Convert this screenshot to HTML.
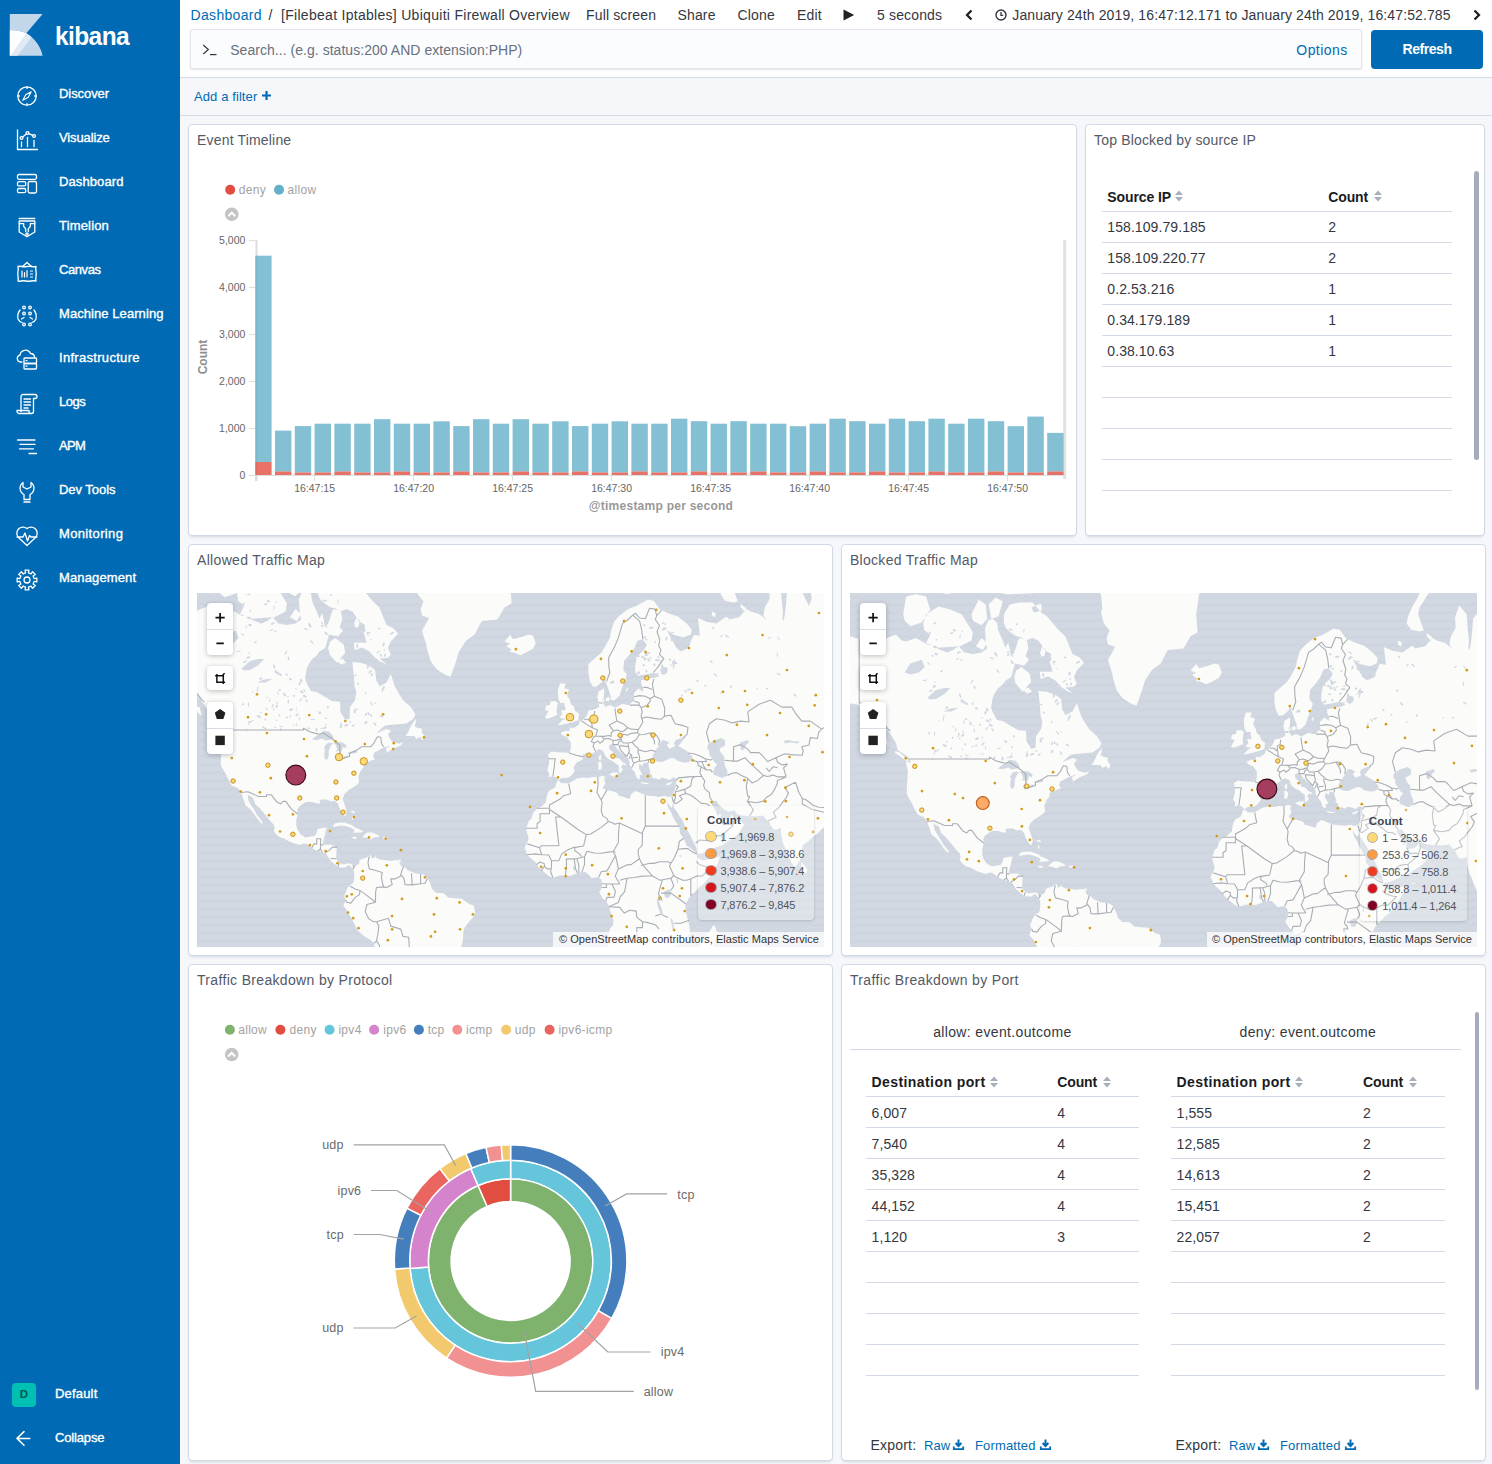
<!DOCTYPE html><html><head><meta charset="utf-8"><title>Kibana Dashboard</title><style>
*{margin:0;padding:0;box-sizing:border-box}
html,body{width:1492px;height:1464px;overflow:hidden;background:#f5f7fa;font-family:"Liberation Sans",Arial,sans-serif;font-variant-ligatures:none}
.t{position:absolute;white-space:nowrap}
.ic{position:absolute;overflow:visible}
svg text{font-family:"Liberation Sans",Arial,sans-serif}
#side{position:absolute;left:0;top:0;width:180px;height:1464px;background:#006bb4}
.panel{position:absolute;background:#fff;border:1px solid #d3dae6;border-radius:4px;box-shadow:0 1px 2px -1px rgba(152,162,179,0.3),0 3px 3px -2px rgba(152,162,179,0.3)}
.zc{position:absolute;width:26px;background:#fff;border-radius:4px;box-shadow:0 1px 5px rgba(0,0,0,0.25)}
.zs{position:absolute;left:0;width:26px;height:1px;background:#d8dde6}
</style></head><body><svg width="0" height="0" style="position:absolute"><defs><pattern id="waves" width="8" height="8" patternUnits="userSpaceOnUse"><path d="M0 5 Q2 2.5 4 5 T8 5" fill="none" stroke="#c9d0da" stroke-width="1.3" stroke-opacity="0.6"/></pattern></defs></svg>
<div id="side"></div>
<svg class="ic" style="left:9px;top:13px" width="35" height="44" viewBox="9 13 35 44">
<path d="M9.8 13.9 H42.6 L26.3 33.3 C21 30.8 15 30 9.8 30.2 Z" fill="#c3d7eb"/>
<path d="M9.8 30.2 C15 30 21 30.8 26.3 33.3 C34 37.5 40.5 46 42.6 55.7 H9.8 Z" fill="#c3d7eb"/>
<path d="M9.8 30.2 C15 30 21 30.8 26.3 33.3 L11 55.7 H9.8 Z" fill="#fff"/>
<path d="M26.3 33.3 C28.5 34.6 30 35.8 31.5 37.2 L17.5 55.7 H11 Z" fill="#dfeaf5"/>
</svg>
<div class="t" style="left:54.8px;top:22.89px;font-size:26px;line-height:26px;color:#fff;font-weight:bold;letter-spacing:-0.6px;transform:scaleX(0.94);transform-origin:0 0;">kibana</div>
<div class="t" style="left:59.0px;top:86.60px;font-size:13px;line-height:13px;color:#fff;letter-spacing:-0.072px;-webkit-text-stroke:0.35px #fff;">Discover</div>
<div class="t" style="left:59.0px;top:130.60px;font-size:13px;line-height:13px;color:#fff;letter-spacing:-0.117px;-webkit-text-stroke:0.35px #fff;">Visualize</div>
<div class="t" style="left:59.0px;top:174.60px;font-size:13px;line-height:13px;color:#fff;letter-spacing:0.099px;-webkit-text-stroke:0.35px #fff;">Dashboard</div>
<div class="t" style="left:59.0px;top:218.60px;font-size:13px;line-height:13px;color:#fff;letter-spacing:0.168px;-webkit-text-stroke:0.35px #fff;">Timelion</div>
<div class="t" style="left:59.0px;top:262.60px;font-size:13px;line-height:13px;color:#fff;letter-spacing:-0.43px;-webkit-text-stroke:0.35px #fff;">Canvas</div>
<div class="t" style="left:59.0px;top:306.60px;font-size:13px;line-height:13px;color:#fff;letter-spacing:0.071px;-webkit-text-stroke:0.35px #fff;">Machine Learning</div>
<div class="t" style="left:59.0px;top:350.60px;font-size:13px;line-height:13px;color:#fff;letter-spacing:0.301px;-webkit-text-stroke:0.35px #fff;">Infrastructure</div>
<div class="t" style="left:59.0px;top:394.60px;font-size:13px;line-height:13px;color:#fff;letter-spacing:-0.475px;-webkit-text-stroke:0.35px #fff;">Logs</div>
<div class="t" style="left:59.0px;top:438.60px;font-size:13px;line-height:13px;color:#fff;letter-spacing:-0.69px;-webkit-text-stroke:0.35px #fff;">APM</div>
<div class="t" style="left:59.0px;top:482.60px;font-size:13px;line-height:13px;color:#fff;letter-spacing:-0.038px;-webkit-text-stroke:0.35px #fff;">Dev Tools</div>
<div class="t" style="left:59.0px;top:526.60px;font-size:13px;line-height:13px;color:#fff;letter-spacing:0.36px;-webkit-text-stroke:0.35px #fff;">Monitoring</div>
<div class="t" style="left:59.0px;top:570.60px;font-size:13px;line-height:13px;color:#fff;letter-spacing:0.131px;-webkit-text-stroke:0.35px #fff;">Management</div>
<svg class="ic" style="left:16px;top:84.5px" width="22" height="22" viewBox="0 0 22 22" fill="none" stroke="#fff" stroke-width="1.3" stroke-linecap="round" stroke-linejoin="round"><circle cx="11" cy="11" r="9.2"/><path d="M11 1.8v1.6M11 18.6v1.6M1.8 11h1.6M18.6 11h1.6"/><path d="M15.2 6.8 L12.3 12.3 L6.8 15.2 L9.7 9.7 Z" stroke-width="1.1"/></svg>
<svg class="ic" style="left:16px;top:128.5px" width="22" height="22" viewBox="0 0 22 22" fill="none" stroke="#fff" stroke-width="1.3" stroke-linecap="round" stroke-linejoin="round"><path d="M1.5 1v19.5h20"/><circle cx="5.5" cy="9" r="1.4"/><circle cx="11.5" cy="4" r="1.4"/><circle cx="18" cy="7" r="1.4"/><path d="M6.6 8.1 L10.4 5 M12.7 4.6 L16.8 6.4"/><path d="M5.5 13v4.5M11.5 8.5v9M18 11.5v6"/></svg>
<svg class="ic" style="left:16px;top:172.5px" width="22" height="22" viewBox="0 0 22 22" fill="none" stroke="#fff" stroke-width="1.3" stroke-linecap="round" stroke-linejoin="round"><rect x="1.5" y="1.5" width="19" height="4.8" rx="1.5"/><rect x="1.5" y="8.7" width="8.2" height="4.2" rx="1.5"/><rect x="1.5" y="15.5" width="8.2" height="4.2" rx="1.5"/><rect x="12.2" y="8.5" width="8.3" height="11.5" rx="1.5"/></svg>
<svg class="ic" style="left:16px;top:216.5px" width="22" height="22" viewBox="0 0 22 22" fill="none" stroke="#fff" stroke-width="1.3" stroke-linecap="round" stroke-linejoin="round"><path d="M3.2 1.5h15.6"/><path d="M3.2 4v11l7.8 4.8 7.8-4.8V4z"/><path d="M3.2 6.7h4.5v2.7l2 2.5v2.5M18.8 6.7h-4.5v2.7l-2 2.5v2.5"/><circle cx="11" cy="17" r="1.2"/></svg>
<svg class="ic" style="left:16px;top:260.5px" width="22" height="22" viewBox="0 0 22 22" fill="none" stroke="#fff" stroke-width="1.3" stroke-linecap="round" stroke-linejoin="round"><path d="M11 1.5 L6.5 5.5 M11 1.5 L15.5 5.5"/><path d="M2 5.5 Q4 5 6 5.5 T11 5.5 T16 5.5 T20 5.5 Q19.5 8 20 10.5 T20 15.5 Q19.5 17.5 20 20 Q17.5 19.5 15 20 T10 20 T5 20 T2 20 Q2.5 17.5 2 15.5 T2 10.5 T2 5.5z"/><path d="M6 10v6M8.5 11.5v4.5M11 9.5v6.5M14.5 10h2M14.5 13h2M14.5 16h2" stroke-width="1.2"/></svg>
<svg class="ic" style="left:16px;top:304.5px" width="22" height="22" viewBox="0 0 22 22" fill="none" stroke="#fff" stroke-width="1.3" stroke-linecap="round" stroke-linejoin="round"><circle cx="8" cy="2.5" r="1.3"/><circle cx="14" cy="2.5" r="1.3"/><circle cx="8" cy="8.5" r="1.3"/><circle cx="14" cy="8.5" r="1.3"/><circle cx="8" cy="19.5" r="1.3"/><circle cx="14" cy="19.5" r="1.3"/><path d="M4 5 Q1 9 2 14 Q3 16.5 6 17.5 M18 5 Q21 9 20 14 Q19 16.5 16 17.5 M5.5 14 L8 12.5 M16.5 14 L14 12.5"/></svg>
<svg class="ic" style="left:16px;top:348.5px" width="22" height="22" viewBox="0 0 22 22" fill="none" stroke="#fff" stroke-width="1.3" stroke-linecap="round" stroke-linejoin="round"><path d="M6 13H4.5A3.5 3.5 0 0 1 4 6.1 5.5 5.5 0 0 1 14.5 4.5 4 4 0 0 1 18.5 8"/><rect x="8" y="9" width="12.5" height="5.5" rx="0.8"/><rect x="8" y="14.5" width="12.5" height="5.5" rx="0.8"/><path d="M10 11.7h1M10 17.2h1"/></svg>
<svg class="ic" style="left:16px;top:392.5px" width="22" height="22" viewBox="0 0 22 22" fill="none" stroke="#fff" stroke-width="1.3" stroke-linecap="round" stroke-linejoin="round"><path d="M5 18.5V3.5a2 2 0 0 1 2-2h12a2 2 0 0 1 0 4h-1.5V18.5a2 2 0 0 1-2 2H3a2 2 0 0 1-2-2v-1h12v1a2 2 0 0 0 2 2"/><path d="M8 6h6.5M8 9h6.5M8 12h6.5M8 15h4"/></svg>
<svg class="ic" style="left:16px;top:438.0px" width="22" height="22" viewBox="0 0 22 22" fill="none" stroke="#fff" stroke-width="1.3" stroke-linecap="round" stroke-linejoin="round"><path d="M1.5 2h17.5M4 6.3h15M3.5 10.8h14M13 15.5h7.5"/></svg>
<svg class="ic" style="left:16px;top:480.5px" width="22" height="22" viewBox="0 0 22 22" fill="none" stroke="#fff" stroke-width="1.3" stroke-linecap="round" stroke-linejoin="round"><path d="M7 1.5 V6 L11 8 L15 6 V1.5 A7 7 0 0 1 14 13.5 V18.5 H8 V13.5 A7 7 0 0 1 7 1.5z"/><path d="M8 21h6"/></svg>
<svg class="ic" style="left:16px;top:524.5px" width="22" height="22" viewBox="0 0 22 22" fill="none" stroke="#fff" stroke-width="1.3" stroke-linecap="round" stroke-linejoin="round"><path d="M3 13 A5.3 5.3 0 0 1 11 3.5 A5.3 5.3 0 0 1 19 13 L11 20.5 L3 13"/><path d="M1 12h6l2-4 2.5 8 2-5.5 1.5 1.5h6"/></svg>
<svg class="ic" style="left:16px;top:568.5px" width="22" height="22" viewBox="0 0 22 22" fill="none" stroke="#fff" stroke-width="1.3" stroke-linecap="round" stroke-linejoin="round"><path d="M20.82 9.09 L20.82 12.91 L18.15 12.46 L17.09 15.03 L19.29 16.59 L16.59 19.29 L15.03 17.09 L12.46 18.15 L12.91 20.82 L9.09 20.82 L9.54 18.15 L6.97 17.09 L5.41 19.29 L2.71 16.59 L4.91 15.03 L3.85 12.46 L1.18 12.91 L1.18 9.09 L3.85 9.54 L4.91 6.97 L2.71 5.41 L5.41 2.71 L6.97 4.91 L9.54 3.85 L9.09 1.18 L12.91 1.18 L12.46 3.85 L15.03 4.91 L16.59 2.71 L19.29 5.41 L17.09 6.97 L18.15 9.54Z"/><circle cx="11" cy="11" r="3"/></svg>
<div style="position:absolute;left:12px;top:1383px;width:24px;height:24px;border-radius:4px;background:#00bfb3;"></div>
<div class="t" style="left:12.0px;top:1389.27px;font-size:11.5px;line-height:11.5px;color:#00574f;font-weight:bold;width:24px;text-align:center;">D</div>
<div class="t" style="left:55.0px;top:1386.50px;font-size:13px;line-height:13px;color:#fff;letter-spacing:0.186px;-webkit-text-stroke:0.35px #fff;">Default</div>
<svg class="ic" style="left:12px;top:1427px" width="22" height="22" viewBox="0 0 22 22" fill="none" stroke="#fff" stroke-width="1.3" stroke-linecap="round" stroke-linejoin="round"><path d="M17.8 11.4H5.6M12 4.6L5 11.4 12 18.2" stroke-width="1.5"/></svg>
<div class="t" style="left:55.0px;top:1430.50px;font-size:13px;line-height:13px;color:#fff;letter-spacing:-0.161px;-webkit-text-stroke:0.35px #fff;">Collapse</div>
<div style="position:absolute;left:180px;top:0;width:1312px;height:77px;background:#fff"></div>
<div class="t" style="left:190.5px;top:8.15px;font-size:14px;line-height:14px;color:#006bb4;letter-spacing:0.33px;">Dashboard</div>
<div class="t" style="left:268.5px;top:8.15px;font-size:14px;line-height:14px;color:#343741;">/</div>
<div class="t" style="left:281.0px;top:8.15px;font-size:14px;line-height:14px;color:#343741;letter-spacing:0.29px;">[Filebeat Iptables] Ubiquiti Firewall Overview</div>
<div class="t" style="left:586.0px;top:8.15px;font-size:14px;line-height:14px;color:#343741;letter-spacing:0.15px;">Full screen</div>
<div class="t" style="left:677.5px;top:8.15px;font-size:14px;line-height:14px;color:#343741;letter-spacing:0.15px;">Share</div>
<div class="t" style="left:737.5px;top:8.15px;font-size:14px;line-height:14px;color:#343741;letter-spacing:0.15px;">Clone</div>
<div class="t" style="left:797.0px;top:8.15px;font-size:14px;line-height:14px;color:#343741;letter-spacing:0.15px;">Edit</div>
<div class="t" style="left:877.0px;top:8.15px;font-size:14px;line-height:14px;color:#343741;letter-spacing:0.15px;">5 seconds</div>
<svg class="ic" style="left:843px;top:9px" width="12" height="12" viewBox="0 0 12 12"><path d="M0.5 0.5 L11.2 6 L0.5 11.5Z" fill="#222"/></svg>
<svg class="ic" style="left:964px;top:9px" width="10" height="12" viewBox="0 0 10 12"><path d="M7.5 1.5 L3 6 L7.5 10.5" fill="none" stroke="#1a1c21" stroke-width="2.2"/></svg>
<svg class="ic" style="left:1472px;top:9px" width="10" height="12" viewBox="0 0 10 12"><path d="M2.5 1.5 L7 6 L2.5 10.5" fill="none" stroke="#1a1c21" stroke-width="2.2"/></svg>
<svg class="ic" style="left:995px;top:9px" width="12" height="12" viewBox="0 0 12 12"><circle cx="6" cy="6" r="5" fill="none" stroke="#343741" stroke-width="1.4"/><path d="M6 3v3.3h2.2" fill="none" stroke="#343741" stroke-width="1.3"/></svg>
<div class="t" style="left:1012.3px;top:8.15px;font-size:14px;line-height:14px;color:#343741;letter-spacing:0.12px;">January 24th 2019, 16:47:12.171 to January 24th 2019, 16:47:52.785</div>
<div style="position:absolute;left:190px;top:29px;width:1172px;height:39.5px;box-sizing:border-box;background:#fbfcfd;border:1px solid #e2e6ec;box-shadow:0 1px 2px rgba(0,0,0,0.12);border-radius:2px"></div>
<svg class="ic" style="left:202px;top:44px" width="16" height="12" viewBox="0 0 16 12"><path d="M1.3 1 L6.3 5.5 L1.3 10" fill="none" stroke="#343741" stroke-width="1.2"/><path d="M8 10.6h6.5" stroke="#343741" stroke-width="1.2"/></svg>
<div class="t" style="left:230.2px;top:43.35px;font-size:14px;line-height:14px;color:#69707d;letter-spacing:0.04px;">Search... (e.g. status:200 AND extension:PHP)</div>
<div class="t" style="left:1296.3px;top:43.35px;font-size:14px;line-height:14px;color:#006bb4;letter-spacing:0.45px;">Options</div>
<div style="position:absolute;left:1371px;top:29.5px;width:112px;height:39px;background:#006bb4;border-radius:4px"></div>
<div class="t" style="left:1371.0px;top:41.95px;font-size:14px;line-height:14px;color:#fff;font-weight:bold;letter-spacing:-0.45px;width:112px;text-align:center;">Refresh</div>
<div style="position:absolute;left:180px;top:77px;width:1312px;height:39px;box-sizing:border-box;background:#f5f7fa;border-top:1px solid #d3dae6;border-bottom:1px solid #d3dae6"></div>
<div class="t" style="left:194.0px;top:90.00px;font-size:13px;line-height:13px;color:#006bb4;letter-spacing:0.1px;">Add a filter</div>
<svg class="ic" style="left:261px;top:90px" width="11" height="11" viewBox="0 0 11 11"><path d="M5.5 1v9M1 5.5h9" stroke="#006bb4" stroke-width="2.2"/></svg>
<div class="panel" style="left:188px;top:124px;width:889px;height:412px"></div><div class="t" style="left:197.0px;top:133.15px;font-size:14px;line-height:14px;color:#535966;letter-spacing:0.18px;">Event Timeline</div>
<div class="panel" style="left:1085px;top:124px;width:400px;height:412px"></div><div class="t" style="left:1094.0px;top:133.15px;font-size:14px;line-height:14px;color:#535966;letter-spacing:0.17px;">Top Blocked by source IP</div>
<div class="panel" style="left:188px;top:544px;width:645px;height:412px"></div><div class="t" style="left:197.0px;top:553.15px;font-size:14px;line-height:14px;color:#535966;letter-spacing:0.33px;">Allowed Traffic Map</div>
<div class="panel" style="left:841px;top:544px;width:645px;height:412px"></div><div class="t" style="left:850.0px;top:553.15px;font-size:14px;line-height:14px;color:#535966;letter-spacing:0.28px;">Blocked Traffic Map</div>
<div class="panel" style="left:188px;top:964px;width:645px;height:497px"></div><div class="t" style="left:197.0px;top:973.15px;font-size:14px;line-height:14px;color:#535966;letter-spacing:0.33px;">Traffic Breakdown by Protocol</div>
<div class="panel" style="left:841px;top:964px;width:645px;height:497px"></div><div class="t" style="left:850.0px;top:973.15px;font-size:14px;line-height:14px;color:#535966;letter-spacing:0.34px;">Traffic Breakdown by Port</div>
<svg class="ic" style="left:188px;top:124px" width="889" height="412" viewBox="188 124 889 412">
<circle cx="230.2" cy="189.7" r="5" fill="#e24d42"/><circle cx="279" cy="189.7" r="5" fill="#64b0c8"/>
<text x="238.8" y="193.8" font-size="12" fill="#a2a2a2" letter-spacing="0.3">deny</text>
<text x="287.6" y="193.8" font-size="12" fill="#a2a2a2" letter-spacing="0.3">allow</text>
<circle cx="231.8" cy="214.3" r="6.8" fill="#c4c4c4"/><path d="M228.3 216.3 L231.8 212.6 L235.3 216.3" fill="none" stroke="#fff" stroke-width="2"/>
<text x="245.4" y="243.9" font-size="10.5" fill="#666" text-anchor="end">5,000</text>
<path d="M249 240.5h6.5" stroke="#ddd" stroke-width="1"/>
<text x="245.4" y="290.9" font-size="10.5" fill="#666" text-anchor="end">4,000</text>
<path d="M249 287.5h6.5" stroke="#ddd" stroke-width="1"/>
<text x="245.4" y="337.9" font-size="10.5" fill="#666" text-anchor="end">3,000</text>
<path d="M249 334.5h6.5" stroke="#ddd" stroke-width="1"/>
<text x="245.4" y="384.9" font-size="10.5" fill="#666" text-anchor="end">2,000</text>
<path d="M249 381.5h6.5" stroke="#ddd" stroke-width="1"/>
<text x="245.4" y="431.9" font-size="10.5" fill="#666" text-anchor="end">1,000</text>
<path d="M249 428.5h6.5" stroke="#ddd" stroke-width="1"/>
<text x="245.4" y="478.9" font-size="10.5" fill="#666" text-anchor="end">0</text>
<path d="M249 475.5h6.5" stroke="#ddd" stroke-width="1"/>
<path d="M256.5 240v241" stroke="#ddd" stroke-width="2"/>
<path d="M1064.7 240v239" stroke="#e2e2e2" stroke-width="3"/>
<text transform="translate(207.3,357) rotate(-90)" font-size="12" font-weight="bold" fill="#8e8e8e" text-anchor="middle">Count</text>
<path d="M255 475.5H1066" stroke="#ddd" stroke-width="1"/>
<path d="M255.5 475v6" stroke="#ddd" stroke-width="1"/>
<path d="M314.6 475v6" stroke="#ddd" stroke-width="1"/>
<text x="314.6" y="491.7" font-size="10.5" fill="#666" text-anchor="middle">16:47:15</text>
<path d="M413.6 475v6" stroke="#ddd" stroke-width="1"/>
<text x="413.6" y="491.7" font-size="10.5" fill="#666" text-anchor="middle">16:47:20</text>
<path d="M512.6 475v6" stroke="#ddd" stroke-width="1"/>
<text x="512.6" y="491.7" font-size="10.5" fill="#666" text-anchor="middle">16:47:25</text>
<path d="M611.6 475v6" stroke="#ddd" stroke-width="1"/>
<text x="611.6" y="491.7" font-size="10.5" fill="#666" text-anchor="middle">16:47:30</text>
<path d="M710.6 475v6" stroke="#ddd" stroke-width="1"/>
<text x="710.6" y="491.7" font-size="10.5" fill="#666" text-anchor="middle">16:47:35</text>
<path d="M809.6 475v6" stroke="#ddd" stroke-width="1"/>
<text x="809.6" y="491.7" font-size="10.5" fill="#666" text-anchor="middle">16:47:40</text>
<path d="M908.6 475v6" stroke="#ddd" stroke-width="1"/>
<text x="908.6" y="491.7" font-size="10.5" fill="#666" text-anchor="middle">16:47:45</text>
<path d="M1007.6 475v6" stroke="#ddd" stroke-width="1"/>
<text x="1007.6" y="491.7" font-size="10.5" fill="#666" text-anchor="middle">16:47:50</text>
<text x="661" y="509.5" font-size="12" font-weight="bold" fill="#999" text-anchor="middle" letter-spacing="0.25">@timestamp per second</text>
<rect x="255.2" y="255.7" width="16.4" height="206.3" fill="#64b0c8" fill-opacity="0.8"/>
<rect x="255.2" y="462.0" width="16.4" height="13" fill="#e24d42" fill-opacity="0.8"/>
<rect x="275.0" y="430.6" width="16.4" height="40.9" fill="#64b0c8" fill-opacity="0.8"/>
<rect x="275.0" y="471.5" width="16.4" height="3.5" fill="#e24d42" fill-opacity="0.8"/>
<rect x="294.8" y="426.1" width="16.4" height="46.4" fill="#64b0c8" fill-opacity="0.8"/>
<rect x="294.8" y="472.5" width="16.4" height="2.5" fill="#e24d42" fill-opacity="0.8"/>
<rect x="314.6" y="423.7" width="16.4" height="48.8" fill="#64b0c8" fill-opacity="0.8"/>
<rect x="314.6" y="472.5" width="16.4" height="2.5" fill="#e24d42" fill-opacity="0.8"/>
<rect x="334.4" y="423.7" width="16.4" height="47.8" fill="#64b0c8" fill-opacity="0.8"/>
<rect x="334.4" y="471.5" width="16.4" height="3.5" fill="#e24d42" fill-opacity="0.8"/>
<rect x="354.2" y="423.7" width="16.4" height="48.8" fill="#64b0c8" fill-opacity="0.8"/>
<rect x="354.2" y="472.5" width="16.4" height="2.5" fill="#e24d42" fill-opacity="0.8"/>
<rect x="374.0" y="419.2" width="16.4" height="53.3" fill="#64b0c8" fill-opacity="0.8"/>
<rect x="374.0" y="472.5" width="16.4" height="2.5" fill="#e24d42" fill-opacity="0.8"/>
<rect x="393.8" y="423.7" width="16.4" height="47.8" fill="#64b0c8" fill-opacity="0.8"/>
<rect x="393.8" y="471.5" width="16.4" height="3.5" fill="#e24d42" fill-opacity="0.8"/>
<rect x="413.6" y="423.7" width="16.4" height="48.8" fill="#64b0c8" fill-opacity="0.8"/>
<rect x="413.6" y="472.5" width="16.4" height="2.5" fill="#e24d42" fill-opacity="0.8"/>
<rect x="433.4" y="421.3" width="16.4" height="51.2" fill="#64b0c8" fill-opacity="0.8"/>
<rect x="433.4" y="472.5" width="16.4" height="2.5" fill="#e24d42" fill-opacity="0.8"/>
<rect x="453.2" y="426.1" width="16.4" height="45.4" fill="#64b0c8" fill-opacity="0.8"/>
<rect x="453.2" y="471.5" width="16.4" height="3.5" fill="#e24d42" fill-opacity="0.8"/>
<rect x="473.0" y="419.2" width="16.4" height="53.3" fill="#64b0c8" fill-opacity="0.8"/>
<rect x="473.0" y="472.5" width="16.4" height="2.5" fill="#e24d42" fill-opacity="0.8"/>
<rect x="492.8" y="423.7" width="16.4" height="48.8" fill="#64b0c8" fill-opacity="0.8"/>
<rect x="492.8" y="472.5" width="16.4" height="2.5" fill="#e24d42" fill-opacity="0.8"/>
<rect x="512.6" y="419.2" width="16.4" height="52.3" fill="#64b0c8" fill-opacity="0.8"/>
<rect x="512.6" y="471.5" width="16.4" height="3.5" fill="#e24d42" fill-opacity="0.8"/>
<rect x="532.4" y="423.7" width="16.4" height="48.8" fill="#64b0c8" fill-opacity="0.8"/>
<rect x="532.4" y="472.5" width="16.4" height="2.5" fill="#e24d42" fill-opacity="0.8"/>
<rect x="552.2" y="421.3" width="16.4" height="51.2" fill="#64b0c8" fill-opacity="0.8"/>
<rect x="552.2" y="472.5" width="16.4" height="2.5" fill="#e24d42" fill-opacity="0.8"/>
<rect x="572.0" y="426.1" width="16.4" height="45.4" fill="#64b0c8" fill-opacity="0.8"/>
<rect x="572.0" y="471.5" width="16.4" height="3.5" fill="#e24d42" fill-opacity="0.8"/>
<rect x="591.8" y="423.7" width="16.4" height="48.8" fill="#64b0c8" fill-opacity="0.8"/>
<rect x="591.8" y="472.5" width="16.4" height="2.5" fill="#e24d42" fill-opacity="0.8"/>
<rect x="611.6" y="421.3" width="16.4" height="51.2" fill="#64b0c8" fill-opacity="0.8"/>
<rect x="611.6" y="472.5" width="16.4" height="2.5" fill="#e24d42" fill-opacity="0.8"/>
<rect x="631.4" y="423.7" width="16.4" height="47.8" fill="#64b0c8" fill-opacity="0.8"/>
<rect x="631.4" y="471.5" width="16.4" height="3.5" fill="#e24d42" fill-opacity="0.8"/>
<rect x="651.2" y="423.7" width="16.4" height="48.8" fill="#64b0c8" fill-opacity="0.8"/>
<rect x="651.2" y="472.5" width="16.4" height="2.5" fill="#e24d42" fill-opacity="0.8"/>
<rect x="671.0" y="418.7" width="16.4" height="53.8" fill="#64b0c8" fill-opacity="0.8"/>
<rect x="671.0" y="472.5" width="16.4" height="2.5" fill="#e24d42" fill-opacity="0.8"/>
<rect x="690.8" y="421.2" width="16.4" height="50.3" fill="#64b0c8" fill-opacity="0.8"/>
<rect x="690.8" y="471.5" width="16.4" height="3.5" fill="#e24d42" fill-opacity="0.8"/>
<rect x="710.6" y="423.7" width="16.4" height="48.8" fill="#64b0c8" fill-opacity="0.8"/>
<rect x="710.6" y="472.5" width="16.4" height="2.5" fill="#e24d42" fill-opacity="0.8"/>
<rect x="730.4" y="421.2" width="16.4" height="51.3" fill="#64b0c8" fill-opacity="0.8"/>
<rect x="730.4" y="472.5" width="16.4" height="2.5" fill="#e24d42" fill-opacity="0.8"/>
<rect x="750.2" y="423.7" width="16.4" height="47.8" fill="#64b0c8" fill-opacity="0.8"/>
<rect x="750.2" y="471.5" width="16.4" height="3.5" fill="#e24d42" fill-opacity="0.8"/>
<rect x="770.0" y="423.7" width="16.4" height="48.8" fill="#64b0c8" fill-opacity="0.8"/>
<rect x="770.0" y="472.5" width="16.4" height="2.5" fill="#e24d42" fill-opacity="0.8"/>
<rect x="789.8" y="426.2" width="16.4" height="46.3" fill="#64b0c8" fill-opacity="0.8"/>
<rect x="789.8" y="472.5" width="16.4" height="2.5" fill="#e24d42" fill-opacity="0.8"/>
<rect x="809.6" y="423.7" width="16.4" height="47.8" fill="#64b0c8" fill-opacity="0.8"/>
<rect x="809.6" y="471.5" width="16.4" height="3.5" fill="#e24d42" fill-opacity="0.8"/>
<rect x="829.4" y="418.7" width="16.4" height="53.8" fill="#64b0c8" fill-opacity="0.8"/>
<rect x="829.4" y="472.5" width="16.4" height="2.5" fill="#e24d42" fill-opacity="0.8"/>
<rect x="849.2" y="421.2" width="16.4" height="51.3" fill="#64b0c8" fill-opacity="0.8"/>
<rect x="849.2" y="472.5" width="16.4" height="2.5" fill="#e24d42" fill-opacity="0.8"/>
<rect x="869.0" y="423.7" width="16.4" height="47.8" fill="#64b0c8" fill-opacity="0.8"/>
<rect x="869.0" y="471.5" width="16.4" height="3.5" fill="#e24d42" fill-opacity="0.8"/>
<rect x="888.8" y="418.7" width="16.4" height="53.8" fill="#64b0c8" fill-opacity="0.8"/>
<rect x="888.8" y="472.5" width="16.4" height="2.5" fill="#e24d42" fill-opacity="0.8"/>
<rect x="908.6" y="421.2" width="16.4" height="51.3" fill="#64b0c8" fill-opacity="0.8"/>
<rect x="908.6" y="472.5" width="16.4" height="2.5" fill="#e24d42" fill-opacity="0.8"/>
<rect x="928.4" y="418.7" width="16.4" height="52.8" fill="#64b0c8" fill-opacity="0.8"/>
<rect x="928.4" y="471.5" width="16.4" height="3.5" fill="#e24d42" fill-opacity="0.8"/>
<rect x="948.2" y="423.7" width="16.4" height="48.8" fill="#64b0c8" fill-opacity="0.8"/>
<rect x="948.2" y="472.5" width="16.4" height="2.5" fill="#e24d42" fill-opacity="0.8"/>
<rect x="968.0" y="418.7" width="16.4" height="53.8" fill="#64b0c8" fill-opacity="0.8"/>
<rect x="968.0" y="472.5" width="16.4" height="2.5" fill="#e24d42" fill-opacity="0.8"/>
<rect x="987.8" y="421.2" width="16.4" height="50.3" fill="#64b0c8" fill-opacity="0.8"/>
<rect x="987.8" y="471.5" width="16.4" height="3.5" fill="#e24d42" fill-opacity="0.8"/>
<rect x="1007.6" y="426.2" width="16.4" height="46.3" fill="#64b0c8" fill-opacity="0.8"/>
<rect x="1007.6" y="472.5" width="16.4" height="2.5" fill="#e24d42" fill-opacity="0.8"/>
<rect x="1027.4" y="416.6" width="16.4" height="55.9" fill="#64b0c8" fill-opacity="0.8"/>
<rect x="1027.4" y="472.5" width="16.4" height="2.5" fill="#e24d42" fill-opacity="0.8"/>
<rect x="1047.2" y="432.9" width="16.4" height="38.6" fill="#64b0c8" fill-opacity="0.8"/>
<rect x="1047.2" y="471.5" width="16.4" height="3.5" fill="#e24d42" fill-opacity="0.8"/>
</svg>
<div class="t" style="left:1107.3px;top:189.65px;font-size:14px;line-height:14px;color:#1a1c21;font-weight:bold;letter-spacing:-0.1px;">Source IP</div>
<svg class="ic" style="left:1175px;top:190px" width="8" height="12" viewBox="0 0 8 12"><path d="M0 5.1 L4 0.6 L8 5.1Z M0 6.9 L4 11.4 L8 6.9Z" fill="#a7afbb"/></svg>
<div class="t" style="left:1328.2px;top:189.65px;font-size:14px;line-height:14px;color:#1a1c21;font-weight:bold;letter-spacing:-0.1px;">Count</div>
<svg class="ic" style="left:1373.5px;top:190px" width="8" height="12" viewBox="0 0 8 12"><path d="M0 5.1 L4 0.6 L8 5.1Z M0 6.9 L4 11.4 L8 6.9Z" fill="#a7afbb"/></svg>
<div style="position:absolute;left:1102px;top:211px;width:350px;height:1px;background:#d3dae6"></div>
<div style="position:absolute;left:1102px;top:242px;width:350px;height:1px;background:#d3dae6"></div>
<div style="position:absolute;left:1102px;top:273px;width:350px;height:1px;background:#d3dae6"></div>
<div style="position:absolute;left:1102px;top:304px;width:350px;height:1px;background:#d3dae6"></div>
<div style="position:absolute;left:1102px;top:335px;width:350px;height:1px;background:#d3dae6"></div>
<div style="position:absolute;left:1102px;top:366px;width:350px;height:1px;background:#d3dae6"></div>
<div style="position:absolute;left:1102px;top:397px;width:350px;height:1px;background:#d3dae6"></div>
<div style="position:absolute;left:1102px;top:428px;width:350px;height:1px;background:#d3dae6"></div>
<div style="position:absolute;left:1102px;top:459px;width:350px;height:1px;background:#d3dae6"></div>
<div style="position:absolute;left:1102px;top:490px;width:350px;height:1px;background:#d3dae6"></div>
<div class="t" style="left:1107.3px;top:220.15px;font-size:14px;line-height:14px;color:#343741;letter-spacing:0.08px;">158.109.79.185</div>
<div class="t" style="left:1328.2px;top:220.15px;font-size:14px;line-height:14px;color:#343741;">2</div>
<div class="t" style="left:1107.3px;top:251.15px;font-size:14px;line-height:14px;color:#343741;letter-spacing:0.08px;">158.109.220.77</div>
<div class="t" style="left:1328.2px;top:251.15px;font-size:14px;line-height:14px;color:#343741;">2</div>
<div class="t" style="left:1107.3px;top:282.15px;font-size:14px;line-height:14px;color:#343741;letter-spacing:0.08px;">0.2.53.216</div>
<div class="t" style="left:1328.2px;top:282.15px;font-size:14px;line-height:14px;color:#343741;">1</div>
<div class="t" style="left:1107.3px;top:313.15px;font-size:14px;line-height:14px;color:#343741;letter-spacing:0.08px;">0.34.179.189</div>
<div class="t" style="left:1328.2px;top:313.15px;font-size:14px;line-height:14px;color:#343741;">1</div>
<div class="t" style="left:1107.3px;top:344.15px;font-size:14px;line-height:14px;color:#343741;letter-spacing:0.08px;">0.38.10.63</div>
<div class="t" style="left:1328.2px;top:344.15px;font-size:14px;line-height:14px;color:#343741;">1</div>
<div style="position:absolute;left:1474px;top:171px;width:4.5px;height:289px;background:#a5adba;border-radius:3px"></div>
<svg class="ic" style="left:197px;top:593px;overflow:hidden" width="627" height="354" viewBox="197 593 627 354">
<rect x="197" y="593" width="627" height="354" fill="#d1d8e1"/>
<rect x="197" y="593" width="627" height="354" fill="url(#waves)"/>
<path d="M90.7 590.0L129.1 596.3L141.9 600.7L151.8 605.0L161.8 606.6L173.2 610.0L181.7 614.0L187.4 616.4L190.2 612.4L195.9 611.6L204.4 607.5L210.1 605.8L215.8 611.6L220.1 612.4L230.0 609.1L241.4 615.6L247.1 616.4L252.8 620.3L261.3 623.4L267.0 621.1L272.7 617.2L278.4 623.4L286.9 624.9L295.5 623.4L301.2 619.5L299.7 611.6L298.9 599.0L302.6 590.9L306.8 590.0L311.1 593.6L312.0 600.7L314.0 605.8L316.8 611.6L319.4 618.7L322.2 613.2L323.3 618.0L325.0 627.1L327.9 624.1L330.2 618.0L331.9 611.6L333.9 608.7L341.0 611.6L342.4 619.5L339.6 627.1L343.0 630.8L338.1 636.5L329.0 634.4L325.3 648.1L319.6 651.4L316.2 655.9L312.2 659.0L308.3 665.1L306.6 669.3L305.1 678.5L306.3 682.4L311.1 691.0L316.8 692.0L322.5 695.6L332.4 701.2L340.1 701.7L340.4 712.3L345.2 719.8L349.5 718.8L350.1 707.1L355.2 699.7L356.3 692.0L354.6 686.7L353.8 675.7L352.4 662.1L360.9 662.7L369.4 665.7L375.1 669.9L376.2 680.2L379.7 686.2L386.5 682.4L390.8 674.0L395.0 686.7L399.3 694.6L403.6 700.7L410.7 707.1L415.5 714.2L413.5 718.8L406.4 723.4L392.2 724.7L385.1 725.6L380.8 729.1L376.0 733.4L379.4 732.1L386.5 729.1L391.3 730.8L387.9 734.3L389.9 738.5L392.2 741.8L399.3 743.8L403.6 741.8L400.7 745.5L393.6 748.3L387.1 752.6L385.9 748.3L390.8 745.5L383.6 747.5L378.0 750.7L374.5 752.2L372.8 756.1L375.1 759.2L370.8 760.7L365.2 763.0L363.7 764.1L363.4 767.4L360.9 770.4L358.3 776.2L359.2 782.2L356.6 784.9L352.4 788.0L348.9 790.1L344.4 794.1L342.7 799.1L345.0 805.7L346.7 811.4L345.5 816.2L343.3 814.9L341.5 812.1L339.0 807.3L338.1 803.7L334.4 800.8L331.0 801.4L326.8 799.5L322.5 799.5L319.6 800.1L320.2 803.4L316.8 803.4L312.5 802.1L306.8 801.8L304.0 803.1L299.4 806.6L297.2 809.5L297.7 814.0L296.3 819.9L296.3 826.1L297.5 829.5L300.3 834.3L304.0 836.4L305.7 837.6L311.1 836.4L314.5 836.1L316.8 832.8L317.1 829.2L322.5 827.7L326.8 827.7L325.6 831.6L324.5 836.7L323.3 841.2L322.5 844.2L325.3 844.8L331.0 844.5L336.7 847.1L336.4 853.0L336.1 858.8L338.1 861.7L342.4 864.6L346.7 863.7L349.5 863.2L352.9 865.2L355.8 866.0L359.2 863.2L359.5 860.3L362.3 858.8L365.2 857.9L368.9 856.2L370.8 854.8L371.4 857.4L372.3 858.8L374.5 857.4L375.1 855.3L375.7 857.4L379.4 859.4L384.2 860.0L390.8 860.8L396.4 860.0L399.3 861.7L400.7 865.7L403.6 866.0L407.8 870.3L414.9 873.2L423.5 874.6L427.7 878.1L430.6 884.6L432.0 888.9L433.4 890.3L436.3 893.1L443.4 893.1L448.2 897.4L454.8 898.3L461.9 898.8L464.7 900.8L469.0 904.0L473.8 905.4L474.9 910.5L474.7 914.6L472.4 918.3L469.0 921.8L464.7 927.6L463.3 932.0L463.0 939.4L461.6 945.4L460.4 948.4L459.0 954.5L454.8 957.6L449.1 958.2L403.6 979.8L372.3 979.8L374.3 963.8L374.8 948.4L374.3 943.6L370.8 940.3L363.7 935.8L357.5 930.5L354.9 925.0L350.9 917.4L347.0 910.3L343.3 906.0L345.8 900.0L344.1 896.6L346.4 890.3L348.1 886.9L350.1 885.2L353.2 882.9L354.1 878.9L354.3 871.8L352.4 869.8L351.2 866.6L348.1 864.9L345.8 867.5L342.4 867.5L338.4 867.2L332.4 862.3L330.2 860.3L325.9 853.6L322.5 852.4L316.8 850.4L312.0 848.6L306.8 843.9L303.4 843.6L299.7 845.1L294.0 843.3L290.1 841.8L284.1 838.5L279.8 837.3L275.6 833.7L273.8 831.0L274.7 827.7L273.6 824.3L271.6 822.4L267.0 816.8L263.0 812.1L259.6 807.9L255.1 804.0L252.8 797.5L247.7 794.8L248.5 800.8L253.7 808.9L257.1 815.2L260.5 819.3L263.0 823.0L261.3 823.4L257.1 818.4L255.1 815.2L250.0 808.9L245.7 805.7L242.8 797.5L241.1 792.5L237.7 788.0L231.5 785.6L227.8 778.3L225.8 774.0L222.1 767.8L220.7 764.5L220.9 758.4L221.5 748.7L221.8 741.8L219.5 732.6L224.4 733.4L224.4 730.0L218.7 725.6L211.6 721.1L210.1 714.2L204.4 704.7L198.8 697.2L191.6 685.1L186.0 684.0L183.1 681.3L176.9 678.5L173.2 675.7L164.6 674.5L157.5 671.1L150.4 669.9L144.7 678.5L136.2 689.4L90.7 697.2ZM405.5 736.0L408.1 732.1L410.1 727.8L412.4 723.4L416.1 718.4L415.5 723.8L414.4 726.0L417.2 727.8L422.0 728.7L421.5 732.1L424.3 736.0L423.2 739.7L421.5 739.3L420.6 736.8L416.4 738.9L414.4 736.0L407.8 736.0ZM389.9 665.1L386.5 663.9L379.4 658.4L387.9 657.8L390.8 654.6L387.9 648.1L390.8 641.4L398.1 633.7L393.6 628.6L386.5 624.9L379.4 607.5L372.3 600.7L360.9 587.2L355.2 583.4L346.7 573.6L332.4 573.6L323.9 575.6L318.2 584.4L317.7 593.6L319.9 599.0L325.3 604.1L331.0 607.5L335.3 608.3L339.6 611.6L346.7 609.1L352.4 611.6L359.5 621.8L365.2 624.9L363.7 632.2L366.6 642.8L353.8 642.8L354.6 650.1L362.3 647.5L369.4 651.4L375.1 657.8L380.8 662.1ZM328.2 648.1L330.2 641.4L335.3 637.9L343.8 644.8L345.2 652.7L336.7 662.7L329.6 654.6ZM336.7 660.9L342.4 658.4L346.1 662.7L341.3 664.5ZM237.2 594.5L240.0 585.3L252.8 577.6L264.2 580.5L275.6 585.3L283.2 597.2L286.9 603.3L285.5 611.6L274.1 617.2L261.3 618.0L252.8 618.7L240.0 614.0L244.3 605.8L238.0 600.7ZM218.7 591.8L224.4 597.2L235.7 593.6L244.3 580.5L240.0 567.4L230.0 565.3L220.1 567.4L217.2 585.3ZM285.5 585.3L292.6 570.5L299.7 575.6L301.2 590.0L295.5 596.3L286.9 591.8ZM302.6 575.6L309.7 568.4L316.8 572.6L312.5 587.2L305.4 590.0ZM289.8 617.2L295.5 609.1L301.2 614.0L296.9 621.1ZM301.2 554.3L315.4 538.8L343.8 542.5L346.7 564.2L321.1 565.3L309.7 563.1ZM241.4 542.5L275.6 548.5L277.0 559.9L261.3 565.3L244.3 559.9ZM286.9 544.9L296.9 544.9L301.2 557.7L294.0 561.0L286.9 554.3ZM209.0 722.0L213.0 722.9L218.7 727.8L223.5 732.6L220.1 731.7L214.4 727.8L209.3 724.3ZM195.9 706.6L199.6 707.1L201.6 716.1L197.9 712.8ZM403.6 493.3L409.2 548.5L397.9 548.5L409.2 554.3L414.9 565.3L416.4 580.5L414.9 582.5L417.8 594.5L423.5 601.6L420.6 609.1L422.0 615.6L429.2 618.0L422.0 630.8L426.3 644.8L427.2 650.1L430.6 660.9L434.8 666.9L437.7 669.9L444.8 674.5L450.5 676.8L451.9 672.8L456.2 660.9L459.0 651.4L466.1 640.7L474.7 634.4L481.8 621.1L497.4 619.5L504.5 607.5L511.6 603.3L510.2 585.3L513.1 565.3L520.2 548.5L523.0 493.3ZM504.5 641.4L510.2 635.1L513.1 639.3L523.0 636.5L528.7 634.4L533.0 635.8L535.8 643.4L533.0 648.8L525.9 652.7L520.2 655.3L514.5 652.7L509.7 652.0L511.6 649.4L506.0 646.1L510.2 644.1ZM887.1 456.7L858.7 523.2L844.4 542.5L824.5 554.3L820.3 565.3L810.3 572.6L803.2 575.6L810.3 587.2L811.7 599.0L808.9 605.8L803.2 594.5L803.2 585.3L797.5 585.3L790.4 585.3L787.0 590.0L786.1 603.3L784.7 615.6L783.6 621.1L782.4 618.7L783.0 611.6L781.6 599.0L780.7 585.3L773.3 576.6L769.1 588.1L769.6 599.0L764.8 607.5L763.4 615.6L766.2 619.5L759.1 614.0L750.6 611.6L746.3 609.1L739.2 617.2L729.2 619.5L726.4 616.4L716.4 623.4L706.5 621.8L697.9 618.0L699.9 635.8L693.7 635.1L689.4 644.8L689.4 647.5L680.9 651.4L676.6 648.1L670.9 637.9L666.7 630.1L673.8 635.1L683.7 637.2L690.8 634.4L691.7 629.3L686.6 623.4L678.0 616.4L668.1 613.2L659.5 609.1L653.9 600.7L647.6 599.8L636.8 605.8L628.3 609.1L619.7 615.6L614.0 621.8L611.2 630.8L609.8 637.9L605.5 646.1L601.2 652.7L594.1 659.0L588.4 663.9L588.4 672.8L589.9 681.3L592.7 686.2L594.1 686.7L597.0 686.2L602.7 681.3L604.1 676.8L605.5 681.3L606.9 685.1L608.4 689.4L610.6 695.6L610.9 700.2L614.6 700.2L619.7 695.6L621.4 689.4L625.4 679.6L626.8 674.5L623.4 669.9L624.0 660.9L629.7 654.6L634.5 648.1L637.4 640.7L642.5 639.3L646.8 644.8L643.9 650.1L636.8 656.5L635.1 666.9L635.4 672.2L638.2 675.7L645.3 674.5L653.9 672.8L659.5 675.7L655.3 677.4L649.6 678.5L641.1 680.2L641.1 684.0L643.3 687.8L642.8 692.0L638.5 688.3L634.0 693.1L634.0 697.2L634.5 700.7L631.1 702.7L629.7 705.1L627.1 705.1L622.6 703.7L615.5 707.6L609.8 705.1L605.5 707.1L604.1 704.7L602.7 702.2L604.1 694.6L604.1 689.4L604.4 688.3L598.7 691.5L597.3 697.2L598.7 702.2L599.2 707.1L594.1 709.5L588.4 710.5L587.3 714.7L585.6 717.0L582.8 719.8L579.9 721.1L578.8 724.7L574.8 727.4L570.8 728.2L570.0 726.9L569.4 731.3L565.7 730.8L560.8 732.6L562.0 735.1L567.1 737.2L570.8 742.2L570.8 748.3L569.7 753.0L563.4 752.6L557.7 752.2L551.5 751.8L547.8 754.6L549.2 758.4L548.9 764.1L547.2 770.4L549.2 773.3L548.9 776.9L552.9 776.2L556.3 777.6L558.3 780.4L561.4 777.9L568.5 777.6L572.2 774.7L574.8 770.4L573.4 767.8L576.8 762.2L580.5 760.7L583.3 758.4L582.8 754.6L587.0 753.0L591.3 754.2L595.6 751.4L599.2 749.1L603.2 751.0L605.5 756.5L609.2 759.6L613.5 761.5L614.9 763.0L618.9 766.0L618.9 771.5L620.0 773.7L621.4 771.5L623.1 769.7L621.2 767.1L623.1 764.5L626.8 765.6L625.4 763.4L622.3 761.9L619.7 758.8L615.5 757.7L613.2 752.6L609.2 749.1L609.2 745.0L613.2 743.8L614.9 745.5L616.9 748.7L620.9 752.6L625.7 756.1L628.3 758.4L629.7 762.2L629.4 764.9L631.1 767.1L633.1 770.4L634.8 772.2L635.7 775.1L636.5 777.6L638.2 779.0L640.2 778.6L639.6 775.1L642.5 774.4L640.5 771.1L638.8 768.2L639.4 763.7L642.5 766.0L643.9 762.6L648.2 763.0L649.0 767.8L650.4 771.5L649.0 772.6L651.9 775.1L652.4 777.9L655.3 778.3L659.5 779.7L661.5 777.6L665.2 778.6L669.5 780.1L672.6 777.6L676.6 778.3L676.0 782.2L676.3 785.6L675.2 787.7L673.8 791.4L672.3 795.8L668.1 797.1L665.0 795.8L659.3 796.8L651.6 796.1L645.9 795.5L639.6 792.5L635.4 791.1L631.1 794.1L629.7 799.1L625.4 797.5L618.3 795.5L617.5 793.1L611.8 791.1L605.8 790.1L602.7 787.7L605.5 783.2L604.1 779.0L605.5 776.5L603.2 776.2L602.1 775.8L598.7 777.2L592.7 776.9L588.4 777.9L582.8 777.6L577.1 778.6L572.5 781.1L568.5 783.6L565.7 783.2L561.4 783.2L558.9 780.8L557.2 781.1L554.9 787.4L552.6 788.7L550.0 790.1L547.8 792.5L546.3 798.8L545.8 802.4L541.5 806.6L537.2 808.6L533.0 813.0L531.6 818.4L528.7 820.9L525.9 829.2L527.3 833.7L528.7 838.2L527.3 842.7L524.4 848.0L526.4 851.5L526.7 854.8L530.1 857.4L533.0 860.3L536.4 863.2L538.7 867.5L542.9 870.9L548.6 876.1L552.9 877.8L560.0 875.5L565.7 875.8L570.0 876.1L575.6 873.8L579.9 872.3L585.6 872.1L589.9 876.1L591.3 878.1L595.6 877.5L598.4 877.2L601.2 879.5L602.1 883.2L602.1 887.5L600.7 889.7L599.2 892.6L602.7 898.3L605.5 901.1L608.4 904.5L609.2 907.4L611.8 915.4L613.5 920.3L612.9 925.3L609.8 929.1L608.4 934.9L607.8 940.3L607.8 945.4L609.8 951.4L614.0 966.9L673.8 966.9L675.2 960.7L675.2 954.5L673.2 947.8L678.0 944.8L682.3 940.9L688.0 936.4L690.0 932.0L689.4 926.1L688.0 920.3L686.0 913.1L685.7 909.7L685.1 904.5L687.1 901.7L689.4 897.4L692.3 894.6L695.1 891.7L699.4 886.9L703.1 884.6L706.5 880.3L710.7 876.1L713.6 870.3L717.9 863.2L720.1 856.5L713.6 858.2L702.2 860.6L697.7 857.4L697.4 854.2L690.8 848.6L686.6 845.4L683.7 838.2L680.0 833.4L679.5 827.7L676.6 823.0L673.8 818.4L670.9 812.1L668.1 807.3L666.7 801.1L669.5 805.7L671.8 807.9L673.2 802.4L673.8 807.3L678.0 813.7L682.3 819.9L685.7 827.7L689.4 833.7L692.3 839.7L696.0 847.1L697.4 853.9L702.2 853.6L710.7 850.1L716.4 847.1L722.7 845.1L727.8 841.2L732.1 838.8L736.3 835.8L740.6 830.7L744.3 824.6L740.9 821.2L736.3 819.9L734.4 816.8L734.4 812.7L731.5 815.9L728.7 819.0L722.1 819.9L720.1 819.0L721.0 814.3L719.3 813.7L717.9 816.8L717.0 813.7L715.3 810.5L710.7 802.4L712.2 800.8L716.4 800.8L718.7 804.4L723.5 808.9L729.2 811.8L734.4 809.9L737.2 814.3L742.0 815.6L749.4 816.2L757.7 816.2L763.7 815.6L764.8 817.4L767.6 820.6L769.6 822.4L770.5 824.9L773.3 829.2L776.2 829.8L780.7 827.7L781.3 835.2L783.3 844.2L786.1 850.1L787.5 854.5L791.2 862.3L794.7 867.2L796.7 864.9L799.8 860.8L801.2 856.5L802.6 852.7L802.3 845.7L805.5 843.0L808.3 841.2L813.1 836.7L818.3 832.8L821.7 829.2L825.1 827.0L830.2 826.1L858.7 826.1L887.1 826.1ZM801.2 862.3L804.6 865.2L807.2 870.3L806.3 872.9L803.5 873.5L801.8 870.9L801.2 867.5ZM558.0 725.6L564.3 724.3L571.4 722.5L578.2 720.2L579.1 713.8L575.1 710.9L573.9 706.6L570.8 704.2L569.7 699.2L568.0 697.2L567.1 694.6L569.1 689.4L564.3 688.3L565.7 683.5L560.0 683.5L558.0 689.4L558.0 694.6L558.6 700.2L560.6 702.2L559.7 703.2L564.3 702.7L564.8 706.1L565.7 710.0L561.1 710.5L562.3 714.2L559.4 717.5L562.8 718.4L565.7 718.8L562.3 720.2L558.6 724.3ZM557.2 715.6L556.6 710.5L557.2 706.1L558.0 703.2L555.7 701.2L550.6 701.2L550.0 704.7L545.8 706.1L545.2 710.0L548.6 710.9L546.1 715.6L544.9 717.5L547.2 718.8L551.5 717.5L555.7 715.6ZM609.5 774.0L612.6 772.6L618.6 772.2L617.2 775.1L617.2 777.9L614.9 776.9L609.8 774.7ZM598.1 762.2L600.4 761.5L602.1 764.1L601.5 768.9L599.8 769.7L598.1 769.7L598.4 764.1ZM601.0 754.6L601.2 758.0L600.4 760.7L598.7 759.2L598.7 756.5ZM641.1 781.8L643.9 782.5L649.0 783.2L648.2 783.9L644.5 783.9L641.1 782.9ZM666.1 783.9L668.1 782.9L672.6 781.5L670.9 783.9L668.1 785.3L666.4 784.9ZM605.5 698.7L608.4 696.7L610.1 698.7L608.9 701.2L606.4 701.2ZM602.1 699.7L604.4 699.2L604.7 701.7L602.7 701.7ZM625.7 691.0L627.4 687.3L628.0 688.9L626.3 692.5ZM720.7 594.5L725.0 600.7L733.5 602.4L737.8 601.6L732.1 585.3L733.5 578.6L742.0 565.3L750.6 554.3L761.9 542.5L769.1 538.8L759.1 536.3L744.9 546.1L736.3 557.7L730.7 570.5L726.4 577.6L722.1 587.2ZM740.6 604.1L746.3 608.3L744.9 611.6L740.6 607.5ZM712.2 611.6L715.9 613.2L715.0 617.2L711.6 615.6ZM332.7 826.4L334.4 823.4L339.8 822.4L345.2 822.7L352.4 825.2L355.2 827.7L358.9 828.9L363.4 831.6L360.9 832.5L353.2 832.8L354.6 830.1L350.9 827.7L345.2 826.1L341.5 825.5L338.1 826.1L335.3 826.7ZM362.3 837.0L367.1 832.5L372.3 832.5L376.5 834.3L379.9 836.4L378.0 837.0L373.7 837.6L370.8 839.4L367.1 837.9L362.6 837.3ZM351.5 837.0L355.8 836.7L357.5 838.2L354.6 839.1L351.8 837.6ZM383.1 836.7L387.6 837.0L387.6 838.2L383.1 838.4ZM351.8 816.2L353.2 816.8L353.5 819.3L352.4 819.9ZM352.6 810.8L354.9 811.8L354.6 813.4L350.1 811.4ZM398.1 859.7L401.0 859.4L400.7 861.4L398.1 861.4ZM714.4 924.7L717.9 934.9L715.0 940.9L713.6 946.9L710.7 954.5L707.9 963.8L702.2 965.4L697.9 957.6L699.4 948.4L700.8 939.4L705.9 935.8L709.3 932.0L713.0 926.1ZM725.8 853.9L729.2 854.2L728.1 855.0L726.1 854.8ZM354.1 623.4L356.3 618.0L359.8 620.3L358.6 626.4L355.5 627.9ZM345.2 578.6L355.2 574.6L355.8 581.5L348.1 583.4Z" fill="#fbfbf9"/>
<path d="M312.2 739.7L316.8 740.1L322.5 738.5L325.3 740.5L332.4 739.3L333.9 740.5L333.0 736.0L329.6 731.7L323.1 730.8L320.2 734.3L316.8 735.5L312.5 738.9ZM324.2 754.6L324.5 758.4L327.0 760.0L328.7 756.5L328.7 750.7L331.0 745.5L333.0 743.4L330.2 742.6L326.8 743.4L324.5 746.7L323.9 748.7L325.3 748.7L324.5 752.6ZM333.3 743.0L336.7 741.8L342.4 742.6L346.7 745.5L345.8 748.3L343.0 747.1L341.8 750.7L339.8 754.6L338.7 750.7L335.6 751.8L337.3 748.7L335.3 744.6ZM337.0 759.6L341.8 760.3L349.5 755.3L345.2 756.1L339.6 758.4ZM347.2 753.4L348.7 752.2L356.6 749.9L357.5 752.6L353.8 753.4L349.5 753.4ZM298.3 723.8L300.3 718.8L297.2 714.2L295.5 709.0L296.9 707.1L296.0 711.9L298.6 716.5L299.4 721.1ZM241.4 668.7L250.0 660.9L258.5 659.0L264.2 659.0L258.5 665.1L250.0 669.9L244.3 670.5ZM218.7 643.4L224.4 634.4L235.7 630.8L238.6 637.9L232.9 643.4L224.4 645.5ZM257.1 682.4L264.2 679.6L272.7 678.5L265.6 682.4ZM653.9 760.0L656.7 761.5L662.4 761.9L669.5 758.4L673.8 758.0L678.0 761.1L683.7 762.6L688.0 762.2L692.5 760.0L692.3 756.5L686.6 750.7L681.7 747.9L678.3 745.9L680.9 743.0L683.2 740.1L685.7 737.6L680.9 738.1L675.2 740.5L673.8 743.8L675.2 745.5L673.8 747.1L669.5 748.7L666.7 745.0L669.5 742.6L663.8 740.1L661.5 740.5L658.7 745.9L655.9 749.9L653.6 753.8L652.4 756.5ZM709.3 743.4L713.6 740.5L721.8 738.1L725.0 740.5L725.0 745.5L719.3 748.7L720.7 752.6L724.1 756.5L724.4 762.2L725.0 766.0L727.2 770.4L727.5 775.4L722.1 777.9L716.4 775.8L713.6 774.7L713.6 771.5L714.4 767.8L717.3 764.5L715.0 763.0L712.5 759.2L709.3 754.6L709.3 750.7L707.1 748.7L707.9 744.6ZM740.0 742.6L743.5 741.4L747.7 740.1L749.1 742.6L746.3 744.6L744.3 748.7L742.6 750.7L740.6 748.7ZM783.3 741.0L789.0 740.1L794.7 741.4L799.5 741.0L797.5 743.4L790.4 742.2L785.3 743.4ZM660.1 670.5L662.4 666.3L667.5 668.1L667.5 672.2L664.1 675.1L661.3 673.4ZM672.3 669.9L674.3 666.9L675.2 659.0L671.8 662.1L673.2 666.3ZM609.5 682.4L613.5 680.2L614.6 682.4L611.8 684.0ZM664.4 891.2L668.9 889.2L671.2 891.2L670.9 894.6L668.9 897.7L665.2 897.4L664.1 894.0ZM657.3 899.7L658.1 899.7L661.8 908.8L663.0 914.9L661.3 915.1L658.4 908.8L657.0 903.1ZM670.9 917.4L672.6 920.3L674.6 931.7L673.2 931.4L671.8 924.7L670.6 920.3ZM676.3 877.2L677.5 877.8L678.3 883.2L676.9 882.9ZM573.4 866.0L574.8 866.6L574.8 870.9L573.1 869.2ZM612.6 851.2L615.2 850.4L615.7 853.0L613.5 853.6ZM679.5 855.0L681.2 855.3L681.2 857.1L679.7 856.8Z" fill="#d1d8e1"/>
<path d="M289.9 718.4L289.6 717.8L289.6 716.4L289.9 715.0L290.4 714.5L290.7 715.1L290.7 716.5L290.4 717.9ZM297.2 726.6L296.7 726.1L296.3 725.0L296.2 723.8L296.5 723.2L296.9 723.6L297.3 724.8L297.4 726.0ZM251.2 722.5L250.4 723.1L249.3 723.0L248.4 722.2L248.3 721.4L249.0 720.8L250.1 721.0L251.0 721.7ZM274.9 669.0L274.1 668.5L273.3 666.9L273.0 665.2L273.3 664.3L274.2 664.8L275.0 666.4L275.3 668.1ZM375.9 704.1L375.4 704.1L374.8 703.6L374.6 702.8L374.7 702.3L375.2 702.4L375.8 702.9L376.1 703.6ZM369.3 715.4L368.5 715.2L367.7 714.1L367.5 712.7L367.9 712.0L368.7 712.2L369.4 713.3L369.7 714.6ZM325.3 725.2L325.1 724.8L325.3 724.1L325.8 723.7L326.3 723.7L326.6 724.2L326.4 724.8L325.9 725.2ZM307.8 702.3L307.0 702.2L306.0 701.3L305.4 700.1L305.6 699.3L306.4 699.4L307.3 700.3L307.9 701.5ZM276.3 674.2L276.1 673.3L276.6 672.1L277.7 671.4L278.6 671.6L278.9 672.5L278.3 673.6L277.2 674.3ZM257.5 692.3L257.0 691.7L256.8 690.1L256.9 688.6L257.3 688.0L257.8 688.6L258.0 690.1L257.9 691.6ZM242.8 662.5L243.2 661.7L244.5 660.9L246.0 660.5L246.8 660.9L246.5 661.7L245.2 662.5L243.6 662.9ZM288.8 660.2L288.1 659.8L287.7 658.5L287.7 657.1L288.3 656.5L289.0 657.0L289.5 658.2L289.4 659.6ZM246.6 658.6L246.6 657.6L247.6 656.6L249.0 656.1L249.9 656.5L249.9 657.6L248.9 658.6L247.5 659.0ZM284.2 695.5L283.7 694.9L283.4 693.6L283.4 692.1L283.7 691.5L284.1 692.0L284.4 693.4L284.4 694.9ZM266.2 719.9L265.6 720.5L264.9 720.5L264.5 720.0L264.5 719.2L265.0 718.6L265.8 718.6L266.2 719.1ZM278.4 695.3L277.9 694.7L277.5 693.0L277.4 691.4L277.6 690.6L278.1 691.2L278.6 692.9L278.7 694.6ZM327.6 634.9L326.5 634.9L325.2 633.9L324.5 632.5L324.6 631.5L325.7 631.5L326.9 632.5L327.7 633.9ZM306.9 697.4L305.9 697.8L304.2 697.3L302.8 696.2L302.6 695.2L303.6 694.8L305.3 695.2L306.6 696.3ZM266.3 710.0L265.8 709.5L265.8 708.6L266.3 707.8L267.0 707.7L267.5 708.2L267.5 709.1L267.0 709.8ZM280.1 731.1L279.7 730.6L279.7 729.5L280.1 728.4L280.8 728.1L281.2 728.6L281.2 729.8L280.7 730.8ZM344.1 726.2L344.4 725.2L345.9 724.3L347.6 723.9L348.5 724.3L348.2 725.3L346.7 726.2L345.0 726.6ZM365.0 694.2L364.9 693.6L365.1 692.6L365.7 691.7L366.3 691.4L366.5 692.0L366.2 693.0L365.6 694.0ZM249.1 725.1L248.5 725.0L248.0 724.3L247.7 723.5L247.9 723.0L248.5 723.1L249.0 723.8L249.3 724.6ZM247.4 730.9L246.9 730.8L246.4 730.2L246.3 729.4L246.5 729.0L247.0 729.1L247.5 729.7L247.6 730.5ZM244.0 635.9L243.3 635.8L242.2 634.9L241.4 633.8L241.3 633.1L242.0 633.2L243.1 634.1L243.9 635.2ZM292.9 695.7L293.2 695.0L293.9 694.6L294.6 694.9L294.9 695.7L294.7 696.5L293.9 696.8L293.2 696.5ZM251.0 721.6L251.2 721.0L251.9 720.3L252.9 720.0L253.5 720.2L253.4 720.8L252.6 721.5L251.6 721.8ZM266.5 729.1L265.6 729.3L263.9 728.7L262.4 727.7L262.0 726.8L263.0 726.6L264.7 727.2L266.2 728.2ZM323.5 728.3L323.6 727.4L324.6 726.5L325.9 726.3L326.7 726.9L326.6 727.9L325.6 728.7L324.3 728.9ZM295.3 716.4L295.4 715.5L296.4 714.3L297.8 713.5L298.7 713.6L298.6 714.5L297.5 715.6L296.2 716.4ZM289.1 710.7L289.3 709.6L290.6 708.6L292.1 708.2L293.1 708.7L292.9 709.7L291.6 710.7L290.0 711.2ZM358.2 709.5L357.6 710.0L356.4 710.1L355.2 709.7L354.7 709.2L355.3 708.7L356.5 708.6L357.7 708.9ZM241.8 704.4L242.0 703.7L242.9 703.2L243.8 703.4L244.3 704.1L244.0 704.8L243.2 705.2L242.2 705.0ZM310.9 627.7L309.8 627.3L308.8 625.8L308.3 624.0L308.8 623.0L309.8 623.3L310.9 624.8L311.3 626.6ZM273.3 710.4L273.0 709.9L273.1 709.1L273.6 708.4L274.1 708.3L274.4 708.7L274.3 709.6L273.8 710.2ZM364.4 723.7L364.4 722.8L365.2 721.6L366.5 721.0L367.5 721.2L367.5 722.2L366.7 723.4L365.4 724.0ZM358.6 684.7L357.8 684.8L357.2 684.2L357.0 683.4L357.5 682.7L358.3 682.6L359.0 683.2L359.1 684.0ZM303.8 693.1L302.8 693.4L301.1 692.7L299.7 691.6L299.5 690.6L300.5 690.4L302.1 691.0L303.5 692.2ZM261.0 717.5L260.0 717.9L258.3 717.4L256.9 716.4L256.6 715.4L257.6 715.0L259.3 715.5L260.7 716.5ZM325.6 719.0L325.0 718.4L324.9 717.8L325.5 717.4L326.3 717.6L327.0 718.2L327.0 718.8L326.5 719.2ZM321.1 626.7L321.1 625.7L321.9 624.9L323.0 624.6L323.8 625.0L323.8 625.9L323.0 626.8L321.9 627.1ZM271.8 708.2L271.5 707.7L271.6 706.7L272.0 705.9L272.6 705.6L272.9 706.1L272.8 707.1L272.4 707.9ZM280.4 691.0L279.5 691.0L278.9 690.5L278.8 689.7L279.4 689.1L280.3 689.0L280.9 689.5L280.9 690.3ZM382.4 692.3L381.8 691.5L381.8 689.8L382.2 688.1L382.9 687.4L383.4 688.2L383.5 689.9L383.0 691.6ZM323.6 728.4L323.1 728.8L322.0 729.0L320.8 728.8L320.4 728.3L320.8 727.9L322.0 727.7L323.1 727.9ZM365.6 716.1L365.0 715.5L364.9 714.3L365.4 713.2L366.2 712.8L366.8 713.4L366.9 714.7L366.4 715.7ZM292.2 679.8L291.5 680.4L290.2 680.2L289.1 679.5L288.8 678.7L289.5 678.1L290.8 678.3L291.9 679.0ZM327.8 708.5L327.1 708.1L326.8 707.2L327.1 706.3L327.9 705.9L328.6 706.3L328.9 707.3L328.5 708.2ZM383.9 689.3L383.3 688.8L383.1 687.4L383.4 686.1L384.0 685.5L384.6 686.1L384.8 687.5L384.5 688.8ZM282.2 675.6L281.2 676.0L279.5 675.6L278.0 674.6L277.7 673.5L278.6 673.2L280.4 673.6L281.9 674.6ZM258.9 687.8L258.5 688.2L257.8 688.2L257.2 687.9L257.0 687.4L257.4 687.0L258.1 686.9L258.7 687.3ZM383.3 717.0L382.5 717.4L381.0 717.0L379.8 716.1L379.6 715.2L380.4 714.9L381.9 715.3L383.1 716.2ZM272.0 623.0L272.5 622.4L273.5 622.1L274.6 622.4L275.1 622.9L274.6 623.5L273.6 623.8L272.5 623.6ZM371.9 716.9L371.2 716.8L370.4 715.9L370.1 714.8L370.4 714.1L371.2 714.2L371.9 715.1L372.2 716.2ZM269.4 702.4L269.1 701.8L269.3 700.3L269.7 698.8L270.1 698.3L270.4 698.9L270.3 700.4L269.9 701.9ZM308.7 729.8L308.0 729.4L307.8 728.4L308.1 727.4L308.8 727.0L309.4 727.4L309.7 728.4L309.4 729.4ZM250.9 618.7L250.0 619.3L248.4 619.1L247.1 618.2L246.7 617.2L247.6 616.7L249.2 616.8L250.6 617.7ZM282.9 727.4L282.1 727.6L280.6 727.1L279.3 726.3L278.9 725.6L279.6 725.4L281.2 725.9L282.5 726.7ZM307.9 630.2L307.1 630.3L305.5 629.7L304.2 628.8L303.8 628.1L304.6 628.0L306.1 628.5L307.5 629.4ZM350.4 722.9L349.6 722.9L349.2 722.3L349.3 721.6L349.9 721.2L350.7 721.3L351.1 721.8L351.0 722.5ZM252.0 625.6L251.2 626.2L249.8 626.2L248.6 625.5L248.2 624.6L249.0 624.0L250.4 624.1L251.6 624.8ZM376.1 726.2L375.3 725.8L374.2 724.5L373.7 722.9L373.8 722.1L374.7 722.4L375.7 723.7L376.3 725.3ZM326.6 628.2L326.2 627.7L326.1 626.8L326.3 625.9L326.8 625.6L327.2 626.0L327.3 626.9L327.0 627.8ZM277.4 720.9L277.0 721.0L276.2 720.7L275.7 720.1L275.7 719.6L276.2 719.5L276.9 719.8L277.4 720.4ZM288.3 703.9L287.8 703.2L287.6 701.7L287.8 700.2L288.3 699.5L288.8 700.2L289.0 701.7L288.8 703.2ZM267.7 697.5L267.5 698.0L266.9 698.2L266.3 697.9L266.1 697.4L266.4 697.0L266.9 696.8L267.5 697.0ZM354.2 675.8L354.4 675.1L355.2 674.7L356.0 674.8L356.5 675.3L356.3 676.0L355.5 676.4L354.7 676.3ZM254.1 643.0L254.2 642.3L255.1 641.5L256.2 641.2L256.9 641.4L256.8 642.2L255.9 643.0L254.8 643.3ZM302.2 682.3L301.1 682.2L300.1 681.1L299.8 679.7L300.2 678.7L301.2 678.9L302.2 680.0L302.6 681.4ZM293.2 726.0L293.2 725.5L293.5 724.8L294.2 724.4L294.6 724.4L294.7 724.9L294.3 725.6L293.7 726.0ZM278.4 715.7L278.4 714.9L278.9 714.3L279.6 714.3L280.2 714.9L280.2 715.8L279.7 716.3L279.0 716.3ZM277.4 704.5L276.9 704.1L276.6 703.0L276.5 701.8L276.9 701.3L277.4 701.7L277.8 702.8L277.8 703.9ZM287.9 697.3L287.4 697.1L287.1 696.6L287.3 696.0L287.8 695.7L288.4 695.9L288.7 696.4L288.5 697.0ZM319.8 713.0L319.2 712.9L318.3 712.1L317.6 711.1L317.5 710.5L318.1 710.7L319.0 711.4L319.7 712.4ZM253.4 692.8L252.9 692.8L252.5 692.4L252.2 691.8L252.4 691.4L252.8 691.4L253.3 691.8L253.5 692.4ZM274.8 673.1L274.4 672.3L274.8 671.1L275.6 670.1L276.5 670.0L276.9 670.8L276.6 672.1L275.7 673.0ZM299.0 701.5L299.1 700.7L300.2 699.2L301.5 697.9L302.3 697.6L302.1 698.5L301.1 700.0L299.8 701.2ZM340.1 728.3L339.7 727.3L340.0 725.7L340.9 724.3L341.9 724.0L342.4 724.9L342.1 726.6L341.1 727.9ZM259.4 679.6L259.3 678.7L260.1 677.8L261.3 677.3L262.2 677.7L262.2 678.6L261.4 679.5L260.2 680.0ZM368.8 673.7L368.7 672.8L369.4 671.2L370.6 670.0L371.6 669.8L371.8 670.8L371.0 672.3L369.8 673.6ZM276.2 727.6L275.7 728.0L275.0 728.0L274.3 727.5L274.2 726.9L274.7 726.5L275.4 726.5L276.1 727.0ZM370.7 676.3L370.4 675.5L370.9 674.2L371.9 673.2L372.8 673.1L373.0 673.9L372.5 675.2L371.5 676.2ZM316.5 731.9L315.8 731.3L315.5 729.7L315.8 728.1L316.5 727.4L317.3 728.1L317.5 729.7L317.2 731.3ZM249.9 654.0L249.4 654.0L248.7 653.5L248.2 652.7L248.3 652.2L248.8 652.2L249.5 652.7L250.0 653.5ZM354.8 713.5L353.9 712.9L353.6 711.4L353.9 709.9L354.7 709.2L355.6 709.9L355.9 711.4L355.6 712.9ZM298.8 685.5L298.3 684.7L298.5 683.2L299.3 682.0L300.2 681.7L300.7 682.5L300.5 684.0L299.7 685.2ZM340.2 723.9L340.1 723.4L340.5 722.7L341.1 722.3L341.7 722.4L341.8 722.9L341.5 723.6L340.8 724.0ZM287.6 674.3L287.2 674.3L286.7 674.0L286.4 673.5L286.5 673.0L287.0 673.0L287.5 673.3L287.7 673.8ZM310.5 719.6L311.1 719.1L312.8 718.8L314.5 718.9L315.3 719.3L314.6 719.8L312.9 720.1L311.2 720.0ZM313.4 644.0L312.5 643.8L311.1 642.6L310.1 641.1L310.0 640.2L310.9 640.4L312.3 641.6L313.3 643.1ZM273.1 624.5L272.5 625.0L271.6 624.9L271.0 624.3L270.9 623.5L271.5 623.1L272.4 623.2L273.0 623.8ZM322.0 624.0L321.3 623.7L321.0 622.9L321.3 622.2L322.1 621.9L322.8 622.2L323.1 623.0L322.8 623.7ZM277.1 631.2L276.6 631.5L275.4 631.7L274.2 631.5L273.8 631.1L274.3 630.8L275.4 630.6L276.6 630.8ZM285.4 718.1L285.6 717.4L286.3 716.8L287.3 716.5L287.9 716.7L287.8 717.4L287.0 718.0L286.0 718.3ZM236.6 651.8L237.2 651.3L238.7 650.7L240.4 650.5L241.1 650.8L240.5 651.3L239.0 651.9L237.4 652.1ZM284.3 696.3L283.6 695.7L283.6 694.6L284.2 693.6L285.2 693.5L285.9 694.1L285.9 695.2L285.3 696.2ZM297.3 689.5L296.8 689.7L295.9 689.6L295.0 689.1L294.8 688.7L295.3 688.4L296.2 688.6L297.0 689.0ZM373.2 705.5L372.4 705.2L371.0 704.1L370.0 702.6L369.9 701.8L370.7 702.0L372.0 703.2L373.1 704.6ZM318.6 713.4L318.7 712.4L319.6 711.7L320.6 711.7L321.3 712.3L321.2 713.2L320.4 713.9L319.3 714.0ZM367.5 668.7L366.8 667.8L366.8 666.1L367.4 664.4L368.3 663.8L369.0 664.7L369.1 666.4L368.5 668.1ZM351.7 727.1L351.7 726.3L352.6 725.1L353.9 724.2L354.7 724.2L354.7 725.0L353.8 726.2L352.5 727.1ZM246.9 627.8L246.2 627.8L245.6 627.2L245.5 626.5L245.9 625.9L246.6 625.9L247.1 626.5L247.2 627.2ZM284.8 655.1L284.7 654.2L285.4 652.5L286.4 651.0L287.2 650.6L287.3 651.5L286.6 653.1L285.6 654.6ZM287.8 675.6L287.2 675.7L286.2 675.4L285.4 674.7L285.2 674.1L285.8 673.9L286.8 674.3L287.6 675.0ZM270.1 630.4L270.4 629.8L271.5 629.3L272.7 629.1L273.3 629.4L273.0 630.0L271.9 630.6L270.7 630.7ZM261.7 712.9L261.3 713.3L260.6 713.3L260.0 712.9L259.9 712.3L260.3 711.9L261.0 711.9L261.6 712.3ZM275.4 707.6L275.2 706.6L275.9 705.5L277.0 704.8L278.0 705.0L278.1 705.9L277.5 707.1L276.3 707.8ZM305.2 692.1L304.5 691.9L303.7 690.9L303.3 689.7L303.5 689.0L304.2 689.2L305.0 690.2L305.4 691.4ZM248.4 707.0L248.0 706.2L247.9 704.4L248.1 702.6L248.5 701.9L248.9 702.6L249.1 704.4L248.9 706.2ZM273.2 706.3L272.6 706.0L272.2 705.2L272.3 704.3L272.8 703.8L273.4 704.1L273.7 704.9L273.7 705.8ZM674.4 632.6L673.7 632.9L672.0 632.8L670.4 632.5L669.7 632.1L670.4 631.8L672.1 631.8L673.8 632.1ZM664.7 629.6L664.2 630.2L663.0 630.5L661.9 630.2L661.4 629.6L661.9 628.9L663.0 628.7L664.2 628.9ZM649.0 628.0L649.6 627.1L651.2 626.7L652.8 626.8L653.5 627.6L653.0 628.4L651.4 628.8L649.7 628.7ZM645.4 671.6L645.1 671.0L645.3 670.2L645.9 669.7L646.6 669.7L646.9 670.3L646.7 671.1L646.1 671.6ZM671.9 641.5L671.1 641.0L670.6 639.6L670.7 638.2L671.3 637.6L672.1 638.0L672.6 639.4L672.5 640.8ZM655.0 674.4L655.6 673.8L657.0 673.2L658.6 673.0L659.3 673.3L658.8 673.9L657.4 674.5L655.8 674.7ZM660.2 662.2L659.9 661.8L660.0 661.0L660.5 660.5L661.1 660.4L661.4 660.8L661.3 661.6L660.8 662.2ZM659.6 657.2L659.2 657.8L658.3 658.0L657.5 657.7L657.1 657.1L657.5 656.4L658.4 656.2L659.2 656.5ZM645.6 654.3L646.0 653.4L647.6 652.5L649.4 652.2L650.3 652.5L649.9 653.4L648.3 654.3L646.5 654.7ZM653.6 665.7L653.2 664.9L653.4 664.0L654.2 663.5L655.1 663.7L655.6 664.5L655.3 665.4L654.5 665.9ZM654.4 643.5L654.3 642.8L654.6 641.8L655.4 640.9L656.0 640.8L656.2 641.4L655.8 642.5L655.1 643.3ZM671.2 665.9L670.7 665.8L670.3 665.2L670.3 664.6L670.8 664.2L671.4 664.3L671.7 664.9L671.7 665.5ZM662.0 668.7L661.3 668.0L661.0 666.4L661.3 664.8L662.1 664.2L662.8 664.9L663.1 666.5L662.7 668.0ZM645.4 626.1L644.6 626.4L643.7 626.0L643.2 625.1L643.4 624.3L644.2 624.0L645.1 624.4L645.6 625.3ZM645.0 638.7L644.2 638.3L643.8 637.4L644.1 636.4L645.0 636.0L645.8 636.4L646.1 637.3L645.8 638.3ZM642.2 665.5L642.5 664.7L643.6 664.3L644.7 664.4L645.3 665.0L644.9 665.7L643.9 666.2L642.7 666.1ZM643.3 657.4L642.6 658.0L641.7 657.9L641.1 657.2L641.1 656.3L641.8 655.7L642.7 655.8L643.3 656.5ZM637.3 673.5L637.4 672.6L638.3 671.9L639.4 671.8L640.1 672.4L640.0 673.3L639.1 674.0L638.0 674.0ZM666.0 624.9L665.1 624.9L663.5 624.1L662.1 623.0L661.8 622.2L662.7 622.1L664.3 622.9L665.6 624.0ZM652.2 657.8L651.8 658.3L650.8 658.5L649.8 658.3L649.4 657.8L649.8 657.4L650.8 657.2L651.8 657.4ZM644.6 659.2L645.3 658.7L647.1 658.4L648.9 658.3L649.6 658.7L649.0 659.2L647.2 659.5L645.4 659.6ZM644.9 660.9L644.1 660.4L643.4 658.9L643.4 657.3L644.0 656.5L644.9 657.0L645.5 658.5L645.5 660.1ZM649.5 628.6L649.6 627.9L650.3 627.5L651.2 627.4L651.7 627.8L651.5 628.4L650.8 628.9L650.0 629.0ZM640.2 656.3L639.4 656.9L637.8 657.0L636.2 656.5L635.7 655.7L636.4 655.0L638.0 654.9L639.6 655.4ZM636.4 674.6L636.5 673.7L637.6 672.3L639.0 671.2L639.8 671.1L639.6 671.9L638.6 673.3L637.2 674.4ZM669.6 660.8L668.9 660.1L668.9 659.1L669.6 658.4L670.5 658.4L671.1 659.0L671.1 660.0L670.5 660.7ZM647.9 639.8L647.5 640.3L646.5 640.5L645.5 640.3L645.1 639.8L645.5 639.3L646.5 639.1L647.5 639.3ZM666.7 628.5L666.0 629.3L664.6 629.5L663.3 629.1L662.8 628.2L663.4 627.4L664.8 627.2L666.2 627.7ZM646.3 655.0L645.3 654.6L644.3 653.1L644.0 651.3L644.6 650.3L645.6 650.7L646.5 652.3L646.8 654.1ZM647.5 655.9L646.6 656.3L645.5 656.0L644.6 655.0L644.7 654.1L645.5 653.7L646.7 654.0L647.5 655.0ZM665.7 640.7L665.2 639.9L665.5 638.2L666.3 636.8L667.2 636.4L667.7 637.3L667.5 638.9L666.6 640.3ZM650.3 660.9L649.7 661.5L648.7 661.6L647.7 661.0L647.5 660.2L648.1 659.6L649.2 659.5L650.1 660.1ZM645.3 637.9L644.9 638.2L644.0 638.3L643.2 638.1L642.9 637.6L643.3 637.3L644.1 637.2L645.0 637.5ZM654.7 660.3L655.4 659.5L657.2 659.1L659.0 659.4L659.8 660.1L659.1 660.9L657.3 661.3L655.4 661.1ZM646.0 672.6L645.7 672.0L645.9 671.3L646.5 670.9L647.2 671.0L647.5 671.6L647.3 672.3L646.6 672.7ZM730.2 687.8L729.8 687.1L730.2 686.0L731.0 685.2L731.8 685.2L732.1 685.9L731.8 687.0L731.0 687.8ZM767.8 638.8L768.1 638.2L769.2 637.3L770.6 636.8L771.3 636.9L770.9 637.5L769.8 638.4L768.5 638.9ZM712.6 662.5L711.8 662.9L710.8 662.5L710.1 661.7L710.2 660.8L711.0 660.5L712.0 660.9L712.6 661.7ZM705.2 686.7L704.5 686.3L704.4 685.4L704.9 684.8L705.7 684.7L706.4 685.2L706.5 686.0L706.0 686.6ZM717.5 676.5L716.5 676.5L715.0 675.5L713.8 674.1L713.6 673.1L714.6 673.2L716.1 674.2L717.3 675.6ZM777.5 657.2L777.0 656.5L776.7 654.7L776.7 652.9L777.0 652.1L777.5 652.8L777.8 654.6L777.8 656.4ZM780.1 640.4L779.4 640.0L778.2 638.8L777.3 637.3L777.1 636.5L777.9 636.8L779.0 638.1L780.0 639.6ZM686.5 690.1L687.1 689.3L688.8 688.7L690.7 688.6L691.5 689.0L690.9 689.8L689.2 690.5L687.4 690.6ZM720.2 637.1L720.2 636.5L721.0 635.6L722.0 635.0L722.6 635.1L722.6 635.7L721.9 636.6L720.9 637.2ZM796.3 696.4L795.4 696.6L794.2 696.0L793.4 694.9L793.4 694.1L794.2 693.9L795.4 694.5L796.3 695.6ZM720.6 694.0L720.3 693.5L720.3 692.7L720.8 691.9L721.3 691.8L721.7 692.2L721.6 693.1L721.2 693.8ZM756.7 689.3L756.4 688.8L756.6 688.2L757.1 687.9L757.6 687.9L757.9 688.4L757.8 689.0L757.3 689.4ZM697.3 682.1L696.6 681.7L696.4 680.8L696.9 680.0L697.6 679.8L698.3 680.3L698.5 681.1L698.1 681.9ZM681.2 696.9L680.9 696.3L681.1 695.2L681.8 694.3L682.5 694.2L682.9 694.8L682.7 695.9L682.0 696.8ZM686.7 692.9L685.9 692.8L684.8 691.8L684.1 690.6L684.1 689.8L685.0 689.9L686.1 690.9L686.8 692.1ZM713.7 629.2L713.0 629.1L712.3 628.3L712.2 627.3L712.6 626.7L713.3 626.8L714.0 627.5L714.1 628.5ZM729.2 637.8L728.3 637.8L726.6 636.9L725.3 635.7L725.0 634.8L725.9 634.8L727.5 635.7L728.9 636.9ZM767.2 689.4L766.3 689.4L765.9 688.9L766.0 688.2L766.8 687.8L767.6 687.9L768.1 688.3L767.9 689.0ZM780.9 675.2L780.0 675.4L778.4 674.8L777.0 673.8L776.7 672.9L777.6 672.7L779.2 673.4L780.5 674.4ZM677.5 663.4L676.8 664.1L675.4 664.0L674.1 663.3L673.8 662.4L674.6 661.7L676.0 661.8L677.2 662.5ZM368.9 636.1L368.2 636.0L367.3 635.1L366.7 634.1L366.7 633.4L367.3 633.6L368.2 634.4L368.9 635.4ZM389.9 634.6L390.2 633.6L391.5 632.5L393.1 631.8L394.1 632.0L393.8 633.0L392.5 634.1L390.9 634.8ZM329.9 595.7L330.0 595.1L330.6 594.5L331.5 594.3L332.0 594.6L332.0 595.3L331.4 595.9L330.5 596.0ZM384.2 651.3L383.7 650.9L383.5 650.1L383.8 649.3L384.3 648.9L384.9 649.3L385.0 650.2L384.8 651.0ZM337.4 603.9L337.2 603.2L337.4 601.5L337.9 599.8L338.4 599.2L338.6 600.0L338.4 601.7L337.9 603.3ZM384.2 656.9L383.9 656.2L384.2 654.8L384.9 653.7L385.7 653.4L386.1 654.2L385.8 655.5L385.0 656.6ZM365.0 632.0L364.3 631.5L363.8 630.2L363.8 628.7L364.2 628.1L364.9 628.5L365.4 629.8L365.5 631.3ZM357.5 648.1L356.7 647.6L356.2 646.1L356.3 644.6L356.9 643.8L357.7 644.4L358.2 645.8L358.1 647.4ZM326.9 601.1L326.2 601.5L324.6 601.5L323.1 601.0L322.6 600.3L323.3 599.8L324.9 599.8L326.4 600.3ZM376.4 653.3L376.8 652.5L378.1 651.4L379.6 650.7L380.5 650.7L380.1 651.5L378.8 652.6L377.3 653.4ZM381.5 657.0L380.7 656.8L379.9 655.8L379.6 654.5L380.0 653.8L380.8 654.0L381.6 655.0L381.9 656.2ZM366.1 632.8L366.8 632.3L368.4 632.1L369.9 632.2L370.6 632.7L370.0 633.2L368.4 633.4L366.8 633.3ZM380.2 628.7L379.8 629.4L379.0 629.6L378.2 629.1L378.0 628.4L378.4 627.7L379.3 627.5L380.0 628.0ZM383.0 646.4L382.3 645.6L382.4 644.2L383.1 642.9L384.0 642.6L384.7 643.4L384.7 644.8L384.0 646.1ZM371.8 640.0L371.4 640.2L370.8 640.1L370.4 639.7L370.4 639.3L370.7 639.1L371.3 639.2L371.8 639.6ZM269.9 602.0L269.2 602.5L267.9 602.3L266.9 601.5L266.8 600.6L267.6 600.1L268.8 600.3L269.8 601.1ZM249.9 594.3L249.5 594.2L249.1 593.7L249.0 593.1L249.2 592.8L249.6 592.8L250.0 593.3L250.1 593.9ZM243.4 605.0L242.9 604.5L242.8 603.6L243.3 602.9L244.1 602.7L244.6 603.2L244.6 604.1L244.1 604.9ZM246.8 594.9L247.2 594.4L248.3 594.0L249.5 593.9L250.1 594.2L249.7 594.8L248.6 595.2L247.4 595.2ZM249.5 611.2L249.5 610.5L250.0 609.9L250.7 609.9L251.3 610.4L251.3 611.1L250.7 611.7L250.0 611.7ZM275.8 603.5L275.7 603.0L275.9 602.1L276.5 601.4L277.0 601.2L277.1 601.7L276.9 602.6L276.3 603.3ZM263.8 604.5L264.3 603.8L265.6 603.3L267.0 603.3L267.7 603.7L267.2 604.4L265.9 604.9L264.5 604.9ZM273.8 609.9L273.5 609.2L273.5 607.5L273.8 605.8L274.3 605.1L274.6 605.9L274.6 607.6L274.3 609.3Z" fill="#d1d8e1"/>
<path d="M223.5 730.0L303.4 730.0L303.4 728.2L304.6 728.7L309.7 731.7L315.4 733.4L319.6 734.3L323.1 733.0L333.0 739.3L333.9 740.5L335.0 740.5L336.7 742.6L339.8 745.5L339.8 754.6L337.8 757.3L339.0 759.6L349.5 756.5L349.5 753.4L356.9 749.9L361.7 746.7L370.8 746.7L373.7 743.4L377.4 736.8L380.8 737.2L381.4 743.0L383.6 746.7M173.2 610.0L173.2 674.0L178.8 674.0L183.1 679.6L188.8 676.8L193.1 681.8L195.9 692.0L201.6 699.7L204.4 702.2M241.1 792.5L248.0 791.8L258.5 796.5L266.5 796.5L266.5 794.8L271.3 794.8L277.0 802.1L280.7 804.0L283.0 801.4L285.8 801.4L291.2 808.9L297.7 814.0M312.0 848.6L312.0 847.1L314.0 843.9L316.8 843.9L316.8 838.8L320.8 838.8L320.5 844.5L323.3 845.1M320.5 849.2L322.5 852.4M324.8 853.0L329.6 850.1L332.4 847.1L337.3 847.1M330.5 858.5L336.1 858.8M338.1 866.9L339.3 863.2M352.9 865.2L354.6 867.8M606.6 681.3L609.8 672.8L608.9 666.9L608.6 657.8L614.0 648.1L618.3 637.9L622.6 623.4L628.3 619.5L632.7 615.1M632.7 615.1L639.6 621.1L641.6 629.3L642.8 639.3M632.7 615.1L635.4 613.2L639.6 618.0L645.3 618.7L649.6 608.3L655.0 609.1L656.7 615.6M656.7 615.6L655.3 619.5L659.5 625.6L657.0 631.5L659.8 640.0L658.7 646.1L661.0 650.1L659.5 654.6L663.8 658.4L658.1 666.9L653.3 672.5M656.7 615.6L661.8 610.0M653.9 679.1L652.4 684.0L653.0 687.8L654.4 696.2L661.8 699.2L664.7 708.1L664.4 716.1L670.9 715.2L675.2 723.8L682.9 725.6L688.0 727.4L687.1 734.3L682.9 738.1M643.3 687.5L646.8 687.3L652.2 689.4M634.1 696.8L639.6 695.6L645.3 696.2L649.9 698.7L654.4 696.2M649.9 698.7L650.4 701.2L646.8 705.6L641.1 707.6L642.2 711.9L641.1 716.1L642.8 722.0L639.6 727.8L638.5 729.5L631.1 729.1L627.7 727.8L624.0 724.3L621.2 722.9L616.9 721.1L616.0 716.1L614.9 708.5M634.5 701.2L639.1 702.7L639.1 705.1L630.0 705.1M639.1 705.1L641.1 707.6M664.4 716.1L661.0 719.3L653.9 718.4L646.8 717.0L641.3 718.4M638.5 729.5L637.4 732.6L639.4 734.7L643.9 734.5L649.9 733.0L654.4 733.4L657.3 736.4L659.5 740.5L658.7 745.0M649.9 733.0L654.4 740.5L654.4 744.6M637.4 732.6L631.1 733.4L627.7 735.1L623.1 734.3M627.7 727.8L624.0 730.8L622.3 731.7L616.9 730.0L613.5 730.8L609.2 725.1L616.0 721.6L616.9 721.1M623.1 734.3L620.9 738.9L616.9 740.1L613.2 740.5L608.9 738.5L604.1 738.9L601.5 736.4L604.1 736.4L608.9 735.5L611.2 736.4L611.2 733.0L613.5 730.8M601.5 736.4L595.8 736.0L593.8 736.8L591.3 741.4L594.1 743.0L598.1 741.0L599.8 743.2L602.9 741.0L604.1 738.9M594.1 743.0L593.0 746.3L595.6 751.4M595.8 736.0L597.5 730.0L592.4 727.8L587.9 725.1L581.3 720.7M592.4 727.8L591.6 722.5L591.3 717.0L594.1 715.6L594.7 710.9M591.3 722.0L587.9 719.3L583.9 719.3M599.0 702.7L602.4 703.2M639.4 734.7L635.9 739.7L632.0 742.2L628.0 743.0L623.4 743.0L621.4 740.5L620.9 738.9M621.4 740.5L618.9 741.8L618.0 744.6L612.9 744.6M613.2 740.5L612.9 744.6M628.0 743.0L628.3 746.7L622.6 745.9L619.2 745.9L620.3 749.9L624.3 754.2L626.8 756.5M628.3 746.7L629.4 750.7L628.8 752.6L626.8 756.5M628.8 752.6L632.0 755.3L630.3 756.1L629.1 758.8M631.4 756.5L632.5 760.7L634.0 763.0L631.7 767.4M632.0 742.2L635.1 745.9L638.2 748.3L637.9 752.2L639.6 756.9L639.4 761.1L643.9 760.7L648.5 759.6L653.9 758.4M638.8 749.9L645.3 751.8L651.0 750.3L655.6 751.4M634.0 763.0L639.4 761.1M648.5 759.6L648.2 763.0M632.5 757.7L637.9 757.3M548.9 758.8L555.4 758.8L554.6 762.2L554.3 767.1L553.5 771.5L552.9 776.2M569.1 753.0L576.2 755.3L583.3 756.9M709.3 743.0L706.5 732.6L709.3 723.8L716.4 718.8L725.0 720.2L732.1 722.9L740.6 721.1L749.1 722.0L747.7 711.9L759.1 704.2L770.5 700.2L781.9 707.1L791.8 707.1L796.1 714.2L801.8 721.1L810.3 721.1L821.7 729.1L830.2 723.4M724.4 760.3L733.5 761.1L733.5 746.7L740.6 744.6L747.7 749.1L750.6 752.6L759.1 752.6L761.9 755.0L767.6 761.5L770.5 760.3L775.9 757.7L784.7 753.8L790.4 754.6L802.3 755.3L803.2 750.7L801.8 746.7L808.9 745.0L810.3 737.6L817.4 738.5L818.8 732.1L821.7 729.1M733.5 761.1L737.8 761.1L744.9 757.7L749.1 762.2L756.3 768.9L763.4 775.4M727.5 775.4L732.1 773.3L736.3 772.6L742.0 775.8L747.7 778.3L752.0 782.9L757.7 780.4L763.4 775.4L767.6 776.5L773.3 775.1L777.6 776.9L786.1 776.9M747.7 778.3L746.3 786.3L747.7 796.1L749.7 796.5L747.4 801.4L750.6 805.7L753.4 809.9L752.0 812.1L749.4 816.2M747.4 801.4L756.3 802.7L763.4 801.1L766.2 797.5L771.3 794.5L774.7 789.1L777.0 784.6L777.6 780.4L786.1 776.9M768.2 820.9L773.3 818.4L776.2 817.8L773.3 812.1L779.0 807.3L783.3 801.4L786.4 797.5L788.4 793.1L784.7 787.4L795.5 782.2M795.5 782.2L798.9 792.5L802.3 798.5L806.0 799.8L813.1 805.3L818.8 807.3L825.1 807.6L824.5 812.4L811.7 809.2L802.3 804.0L802.3 798.5M824.8 818.4L827.4 826.1M825.1 807.6L826.5 812.7L830.2 812.1M775.9 757.7L777.6 762.2L781.9 764.9L787.5 764.1L783.6 767.8L786.1 776.9M766.2 767.8L769.1 771.5L773.3 766.7L777.6 767.8M712.2 800.8L709.9 797.5L709.3 792.5L705.1 789.1L703.6 785.6L704.8 781.1L701.6 776.2L699.9 772.6L700.8 767.8L701.6 767.1L706.5 770.0L710.7 769.7L711.6 771.8L713.3 771.8M676.3 780.8L678.6 777.6L682.3 777.6L688.0 776.9L694.5 776.5L701.6 776.2M694.5 776.5L691.7 779.4L690.8 786.0L684.6 789.4L685.7 793.5L689.1 794.5L693.7 797.1L701.4 803.4L706.5 803.7L709.9 805.7M685.7 793.5L679.5 795.8L682.3 799.1L676.6 803.4L673.7 802.9M684.6 789.4L676.0 791.8M676.3 785.3L678.3 786.7L676.0 789.8M671.8 796.5L673.5 802.4M675.2 790.4L675.5 797.5L673.8 802.4M695.7 843.0L699.9 840.0L705.9 840.6L709.3 839.7L713.9 836.4L722.1 835.2L732.4 826.1L731.2 824.0L723.5 824.6L721.0 819.0M722.1 835.2L722.7 842.4M732.4 826.1L734.4 818.4L733.8 813.7M688.0 753.0L693.7 753.8L699.4 755.7L705.1 758.8L710.7 760.0L712.5 759.2M692.5 760.3L697.7 761.9L701.9 761.5L706.5 761.5L705.1 758.8M697.7 761.9L698.2 765.6L701.6 767.1M701.9 761.5L703.6 766.0L706.5 770.0M568.8 783.6L569.4 787.4L570.8 793.8L563.4 795.8L560.0 799.1L549.5 805.0L549.5 808.2L536.7 808.2M549.5 808.2L549.5 813.7L540.1 813.7L540.1 821.5L537.0 823.7L537.2 828.3L525.9 828.3M549.5 809.5L560.6 816.8L577.6 829.2L586.2 834.6L590.7 834.0L601.2 827.4L608.4 821.5L606.9 818.4L602.7 815.9L601.2 810.5L602.1 802.4L601.2 800.1L597.0 792.5L598.1 784.6L597.8 777.2M601.2 800.1L603.5 795.8L606.9 790.1M560.6 816.8L555.7 817.1L558.6 842.7L558.9 845.7L541.5 845.7L539.5 847.7L527.3 843.9M539.5 847.7L541.8 854.8L535.2 853.9L526.7 854.8M586.2 834.6L583.6 846.0L575.6 847.4L574.8 847.1L568.5 849.5L561.7 853.9L558.9 860.6L551.5 860.8L548.6 855.0L541.8 854.8M584.5 856.8L587.0 851.2L594.1 853.0L601.2 853.3L608.4 852.1L613.2 851.5L618.3 842.7L618.6 832.2L619.4 823.0L614.6 824.3L612.6 822.7L608.4 821.5M645.3 795.5L645.3 826.1L679.2 826.1M645.3 826.1L642.5 832.2L642.5 833.7L619.4 823.0M642.5 833.7L642.2 845.1L638.2 849.5L638.2 853.9L639.4 858.8L631.1 864.6L626.8 864.9L619.7 868.6L618.3 868.9M613.2 851.5L615.7 855.9L616.9 861.7L618.3 868.9L615.2 876.1L619.7 884.0M581.9 872.1L584.5 864.6L584.5 856.8M598.7 877.2L601.2 871.8L606.9 870.9L609.8 866.0L612.0 861.7L615.5 855.9M578.8 872.6L578.8 864.6L576.8 858.8M577.6 872.9L575.6 868.9L574.2 858.8M565.4 875.8L566.3 867.5L566.5 863.2L566.3 859.1L574.2 858.8L576.8 858.8L581.0 857.4L584.5 856.8M581.0 856.2L579.6 853.9L574.8 850.7L574.8 847.1M552.9 877.8L550.6 871.8L551.5 867.5L551.5 860.8M541.5 870.6L544.4 866.3L547.2 868.9L550.6 868.9M536.4 864.6L540.1 862.0L544.4 863.7L544.4 866.3M602.1 883.8L606.4 884.0L612.0 884.0L619.7 884.0M606.4 884.0L606.4 887.5L602.1 887.5M612.0 884.0L615.5 891.7L614.0 897.1L606.9 897.4L605.8 901.4M619.7 880.3L627.1 878.3L634.0 877.5L642.5 876.1L652.2 875.8M639.4 858.8L642.5 864.6L652.2 875.8M627.1 878.3L624.6 891.7L620.3 896.6L618.3 902.5L608.9 906.8M608.9 906.8L619.7 907.4L624.3 913.1L629.7 910.3L636.2 911.1L636.8 917.4L642.5 921.8L642.5 927.6L636.8 927.6L636.8 937.0L640.8 941.2M607.8 940.3L614.0 940.6L626.8 940.6L634.0 942.4L640.8 941.2L646.2 941.8M642.5 921.8L646.8 922.4L655.3 924.7L659.0 928.8M655.3 916.0L661.0 914.0M658.4 894.3L659.3 890.3L661.0 884.6L662.4 879.8M652.2 875.8L659.5 880.1L662.4 879.8M641.1 865.5L649.6 863.2L653.9 863.4L659.5 861.7L668.1 861.7L670.9 863.2L673.8 858.8L678.0 849.2L679.5 841.2L684.0 838.2M670.9 863.2L669.5 866.0L673.8 875.5M662.4 879.8L670.9 878.3L673.8 875.5L676.3 877.2L682.3 880.1L686.6 880.3L690.8 878.9L696.5 876.1L702.2 876.1L710.7 867.5L707.9 867.5L699.4 864.6L696.5 861.7M678.0 849.2L683.7 848.6L688.0 848.6L692.3 852.1L696.8 853.9M690.8 878.9L690.8 895.1L692.3 894.9M670.9 878.3L673.8 886.0L670.9 890.3M670.9 893.1L680.9 900.3L685.7 903.7M661.0 893.1L670.9 893.1M689.1 920.3L680.9 923.2L673.8 923.2M668.1 917.4L662.4 914.9M658.4 894.3L661.0 897.1L661.8 900.0L657.3 899.7M369.4 856.5L368.6 858.8L368.0 863.2L369.4 868.9L375.1 870.3L382.2 872.6L381.4 877.5L382.8 884.6L383.9 886.9M383.9 886.9L376.5 887.5L375.7 891.7L375.4 902.3L369.4 897.4L363.7 893.1L360.0 890.6L355.2 888.9L350.1 886.3M354.6 865.7L352.6 869.8M360.0 890.6L359.5 894.6L355.2 897.4L350.9 903.1L346.7 902.3L345.8 900.0M403.6 866.0L402.1 870.3L400.7 874.6L401.6 875.5L395.0 878.9L390.8 878.9L392.2 884.6L386.5 887.5L383.9 886.9M401.6 875.5L404.1 878.9L405.0 884.6L412.1 884.9L411.5 873.2M420.6 874.1L420.6 883.8M412.1 884.9L420.6 883.8L424.9 883.5L427.4 878.3M375.4 902.3L366.9 904.5L365.2 911.7L368.9 918.9L373.7 921.8L376.5 921.8L378.8 926.1L378.0 933.5L376.5 940.9L374.0 943.3M376.5 921.8L388.5 918.3L390.8 926.1L400.7 929.1L403.0 936.4L408.7 937.3L409.2 946.9L409.2 954.5M376.5 940.9L379.4 945.4L380.2 952.9M320.5 844.5L320.5 848.9L317.9 851.0" fill="none" stroke="#a9aeb4" stroke-width="1.1" stroke-linejoin="round"/>
<circle cx="248" cy="717.2" r="1.35" fill="#d39b17"/><circle cx="266.2" cy="714.3" r="1.35" fill="#d39b17"/><circle cx="309.2" cy="715.1" r="1.35" fill="#d39b17"/><circle cx="345.3" cy="721" r="1.35" fill="#d39b17"/><circle cx="383.1" cy="714.3" r="1.35" fill="#d39b17"/><circle cx="266.9" cy="733.1" r="1.35" fill="#d39b17"/><circle cx="304" cy="739" r="1.35" fill="#d39b17"/><circle cx="335.5" cy="741.3" r="1.35" fill="#d39b17"/><circle cx="364.8" cy="744.1" r="1.35" fill="#d39b17"/><circle cx="393.8" cy="743.2" r="1.35" fill="#d39b17"/><circle cx="393.1" cy="749.1" r="1.35" fill="#d39b17"/><circle cx="424" cy="737.3" r="1.35" fill="#d39b17"/><circle cx="231.8" cy="758.1" r="1.35" fill="#d39b17"/><circle cx="306.9" cy="756.2" r="1.35" fill="#d39b17"/><circle cx="270.8" cy="778.2" r="1.35" fill="#d39b17"/><circle cx="240.6" cy="791.5" r="1.35" fill="#d39b17"/><circle cx="259.9" cy="792.3" r="1.35" fill="#d39b17"/><circle cx="269" cy="815.2" r="1.35" fill="#d39b17"/><circle cx="292.9" cy="814.3" r="1.35" fill="#d39b17"/><circle cx="280.1" cy="831.5" r="1.35" fill="#d39b17"/><circle cx="309.9" cy="845.2" r="1.35" fill="#d39b17"/><circle cx="325.6" cy="851" r="1.35" fill="#d39b17"/><circle cx="330" cy="831.1" r="1.35" fill="#d39b17"/><circle cx="337.5" cy="863.2" r="1.35" fill="#d39b17"/><circle cx="353.9" cy="817.1" r="1.35" fill="#d39b17"/><circle cx="369" cy="837.4" r="1.35" fill="#d39b17"/><circle cx="385.8" cy="838.5" r="1.35" fill="#d39b17"/><circle cx="400.9" cy="850.2" r="1.35" fill="#d39b17"/><circle cx="501.6" cy="775.1" r="1.35" fill="#d39b17"/><circle cx="386.8" cy="865.3" r="1.35" fill="#d39b17"/><circle cx="362.7" cy="871" r="1.35" fill="#d39b17"/><circle cx="425" cy="877.3" r="1.35" fill="#d39b17"/><circle cx="351.8" cy="894.3" r="1.35" fill="#d39b17"/><circle cx="346.8" cy="896.3" r="1.35" fill="#d39b17"/><circle cx="402" cy="898.9" r="1.35" fill="#d39b17"/><circle cx="436.8" cy="898.2" r="1.35" fill="#d39b17"/><circle cx="459.6" cy="902.4" r="1.35" fill="#d39b17"/><circle cx="434" cy="914.4" r="1.35" fill="#d39b17"/><circle cx="392.1" cy="916.1" r="1.35" fill="#d39b17"/><circle cx="472.9" cy="914.4" r="1.35" fill="#d39b17"/><circle cx="348" cy="912.5" r="1.35" fill="#d39b17"/><circle cx="353.1" cy="918.2" r="1.35" fill="#d39b17"/><circle cx="358.5" cy="928.2" r="1.35" fill="#d39b17"/><circle cx="392.1" cy="929.3" r="1.35" fill="#d39b17"/><circle cx="460" cy="929.3" r="1.35" fill="#d39b17"/><circle cx="435.1" cy="931.8" r="1.35" fill="#d39b17"/><circle cx="430.9" cy="936.4" r="1.35" fill="#d39b17"/><circle cx="387.9" cy="940.2" r="1.35" fill="#d39b17"/><circle cx="257" cy="694.3" r="1.35" fill="#d39b17"/><circle cx="565.8" cy="693" r="1.35" fill="#d39b17"/><circle cx="647.8" cy="706.3" r="1.35" fill="#d39b17"/><circle cx="692" cy="693" r="1.35" fill="#d39b17"/><circle cx="723" cy="691.8" r="1.35" fill="#d39b17"/><circle cx="745" cy="691" r="1.35" fill="#d39b17"/><circle cx="815.8" cy="695.2" r="1.35" fill="#d39b17"/><circle cx="718.8" cy="708" r="1.35" fill="#d39b17"/><circle cx="747.2" cy="704.8" r="1.35" fill="#d39b17"/><circle cx="780" cy="713" r="1.35" fill="#d39b17"/><circle cx="814.7" cy="705.3" r="1.35" fill="#d39b17"/><circle cx="736.9" cy="724.8" r="1.35" fill="#d39b17"/><circle cx="808.8" cy="725.9" r="1.35" fill="#d39b17"/><circle cx="567.9" cy="735.1" r="1.35" fill="#d39b17"/><circle cx="680.9" cy="735.1" r="1.35" fill="#d39b17"/><circle cx="767" cy="735.1" r="1.35" fill="#d39b17"/><circle cx="714.5" cy="741.4" r="1.35" fill="#d39b17"/><circle cx="822.5" cy="752.2" r="1.35" fill="#d39b17"/><circle cx="692.7" cy="760.4" r="1.35" fill="#d39b17"/><circle cx="708.7" cy="765" r="1.35" fill="#d39b17"/><circle cx="752.8" cy="764.2" r="1.35" fill="#d39b17"/><circle cx="789.5" cy="757" r="1.35" fill="#d39b17"/><circle cx="616.7" cy="776.2" r="1.35" fill="#d39b17"/><circle cx="647.8" cy="776.2" r="1.35" fill="#d39b17"/><circle cx="594.8" cy="782.3" r="1.35" fill="#d39b17"/><circle cx="720" cy="782.3" r="1.35" fill="#d39b17"/><circle cx="744.4" cy="780.2" r="1.35" fill="#d39b17"/><circle cx="785.5" cy="787.7" r="1.35" fill="#d39b17"/><circle cx="680.9" cy="781.2" r="1.35" fill="#d39b17"/><circle cx="591" cy="790.9" r="1.35" fill="#d39b17"/><circle cx="557.1" cy="793.2" r="1.35" fill="#d39b17"/><circle cx="673.9" cy="795.1" r="1.35" fill="#d39b17"/><circle cx="785.9" cy="801.2" r="1.35" fill="#d39b17"/><circle cx="765.3" cy="801.4" r="1.35" fill="#d39b17"/><circle cx="711.6" cy="802.1" r="1.35" fill="#d39b17"/><circle cx="530" cy="806.9" r="1.35" fill="#d39b17"/><circle cx="664" cy="813.2" r="1.35" fill="#d39b17"/><circle cx="621.5" cy="818.3" r="1.35" fill="#d39b17"/><circle cx="787.1" cy="817" r="1.35" fill="#d39b17"/><circle cx="817.9" cy="818.3" r="1.35" fill="#d39b17"/><circle cx="686.8" cy="819.1" r="1.35" fill="#d39b17"/><circle cx="755.2" cy="819.1" r="1.35" fill="#d39b17"/><circle cx="540.1" cy="833" r="1.35" fill="#d39b17"/><circle cx="685.9" cy="828.4" r="1.35" fill="#d39b17"/><circle cx="658.8" cy="848.3" r="1.35" fill="#d39b17"/><circle cx="813" cy="831.9" r="1.35" fill="#d39b17"/><circle cx="565.8" cy="854.7" r="1.35" fill="#d39b17"/><circle cx="592.1" cy="865.2" r="1.35" fill="#d39b17"/><circle cx="541.1" cy="866.9" r="1.35" fill="#d39b17"/><circle cx="607.9" cy="874.2" r="1.35" fill="#d39b17"/><circle cx="565.8" cy="868.3" r="1.35" fill="#d39b17"/><circle cx="565.8" cy="876.1" r="1.35" fill="#d39b17"/><circle cx="682.6" cy="868.3" r="1.35" fill="#d39b17"/><circle cx="608.9" cy="894.2" r="1.35" fill="#d39b17"/><circle cx="663" cy="888.3" r="1.35" fill="#d39b17"/><circle cx="681.9" cy="888.3" r="1.35" fill="#d39b17"/><circle cx="679.8" cy="896.1" r="1.35" fill="#d39b17"/><circle cx="659.4" cy="897.8" r="1.35" fill="#d39b17"/><circle cx="684.7" cy="911.1" r="1.35" fill="#d39b17"/><circle cx="611.6" cy="916.1" r="1.35" fill="#d39b17"/><circle cx="626.8" cy="926.8" r="1.35" fill="#d39b17"/><circle cx="674.1" cy="930" r="1.35" fill="#d39b17"/><circle cx="515.9" cy="649.2" r="1.35" fill="#d39b17"/><circle cx="624" cy="621" r="1.35" fill="#d39b17"/><circle cx="656.3" cy="609.8" r="1.35" fill="#d39b17"/><circle cx="600.9" cy="658.9" r="1.35" fill="#d39b17"/><circle cx="631.6" cy="651.3" r="1.35" fill="#d39b17"/><circle cx="645.7" cy="652.1" r="1.35" fill="#d39b17"/><circle cx="688.9" cy="648.1" r="1.35" fill="#d39b17"/><circle cx="726.8" cy="655.1" r="1.35" fill="#d39b17"/><circle cx="762.5" cy="635.1" r="1.35" fill="#d39b17"/><circle cx="786.9" cy="670" r="1.35" fill="#d39b17"/><circle cx="818.9" cy="613" r="1.35" fill="#d39b17"/><circle cx="558" cy="777.4" r="1.35" fill="#d39b17"/><circle cx="267.9" cy="765.2" r="2.2" fill="#fbd77a" stroke="#c8911a" stroke-width="1"/><circle cx="233.1" cy="781" r="2.2" fill="#fbd77a" stroke="#c8911a" stroke-width="1"/><circle cx="335.9" cy="782" r="2.2" fill="#fbd77a" stroke="#c8911a" stroke-width="1"/><circle cx="353.9" cy="773.2" r="2.2" fill="#fbd77a" stroke="#c8911a" stroke-width="1"/><circle cx="299.8" cy="798" r="2.2" fill="#fbd77a" stroke="#c8911a" stroke-width="1"/><circle cx="336.7" cy="798" r="2.2" fill="#fbd77a" stroke="#c8911a" stroke-width="1"/><circle cx="343" cy="812.2" r="2.2" fill="#fbd77a" stroke="#c8911a" stroke-width="1"/><circle cx="292.9" cy="834.3" r="2.2" fill="#fbd77a" stroke="#c8911a" stroke-width="1"/><circle cx="362.7" cy="878.1" r="2.2" fill="#fbd77a" stroke="#c8911a" stroke-width="1"/><circle cx="619.8" cy="711.1" r="2.2" fill="#fbd77a" stroke="#c8911a" stroke-width="1"/><circle cx="620.1" cy="735.3" r="2.2" fill="#fbd77a" stroke="#c8911a" stroke-width="1"/><circle cx="653.1" cy="735.1" r="2.2" fill="#fbd77a" stroke="#c8911a" stroke-width="1"/><circle cx="612.9" cy="756.2" r="2.2" fill="#fbd77a" stroke="#c8911a" stroke-width="1"/><circle cx="588.9" cy="755.1" r="2.2" fill="#fbd77a" stroke="#c8911a" stroke-width="1"/><circle cx="562.8" cy="762.1" r="2.2" fill="#fbd77a" stroke="#c8911a" stroke-width="1"/><circle cx="652.5" cy="761" r="2.2" fill="#fbd77a" stroke="#c8911a" stroke-width="1"/><circle cx="680.9" cy="700.2" r="2.2" fill="#fbd77a" stroke="#c8911a" stroke-width="1"/><circle cx="663" cy="801.2" r="2.2" fill="#fbd77a" stroke="#c8911a" stroke-width="1"/><circle cx="790.9" cy="834.2" r="2.2" fill="#fbd77a" stroke="#c8911a" stroke-width="1"/><circle cx="602.8" cy="678" r="2.2" fill="#fbd77a" stroke="#c8911a" stroke-width="1"/><circle cx="622.8" cy="681" r="2.2" fill="#fbd77a" stroke="#c8911a" stroke-width="1"/><circle cx="646.8" cy="678" r="2.2" fill="#fbd77a" stroke="#c8911a" stroke-width="1"/><circle cx="339" cy="757.1" r="3.7" fill="#fcd97c" stroke="#c8941f" stroke-width="1"/><circle cx="363.8" cy="761.3" r="3.7" fill="#fcd97c" stroke="#c8941f" stroke-width="1"/><circle cx="570" cy="717.2" r="3.8" fill="#fcd97c" stroke="#c8941f" stroke-width="1"/><circle cx="593.8" cy="719.1" r="4.1" fill="#fcd97c" stroke="#c8941f" stroke-width="1"/><circle cx="588.9" cy="734.1" r="3.8" fill="#fcd97c" stroke="#c8941f" stroke-width="1"/><circle cx="295.8" cy="775.1" r="9.9" fill="#a53d5e" stroke="#3d0a18" stroke-width="1.2"/>
</svg>
<div class="zc" style="left:206.8px;top:603.2px;height:52px"><div class="zs" style="top:26px"></div></div>
<div class="zc" style="left:206.8px;top:666.3px;height:24px"></div>
<div class="zc" style="left:206.8px;top:702px;height:51.5px"><div class="zs" style="top:26px"></div></div>
<svg class="ic" style="left:206.8px;top:603px" width="26" height="152" viewBox="206.8 603 26 152"><path d="M215.3 617.7h9.2M219.9 613.1v9.2M216.20000000000002 643.3h7.4" stroke="#111" stroke-width="1.7"/><path d="M216.70000000000002 674v8.2h8.2M214.9 675.8h8.2v8.2M224.4 673.2l-2 2" fill="none" stroke="#111" stroke-width="1.5"/><path d="M219.9 708.9l5.3 3.9-2 6.3h-6.6l-2-6.3z" fill="#222"/><rect x="215.20000000000002" y="735.7" width="9.4" height="9.4" fill="#222"/></svg>
<div style="position:absolute;left:697.9px;top:806.3px;width:115.8px;height:113.6px;background:rgba(255,255,255,0.28);border-radius:4px;box-shadow:0 1px 3px rgba(0,0,0,0.16)"></div>
<div class="t" style="left:706.9px;top:814.57px;font-size:11.5px;line-height:11.5px;color:#3f4552;font-weight:bold;letter-spacing:0.2px;">Count</div>
<div style="position:absolute;left:706.4px;top:832.1999999999999px;width:9.2px;height:9.2px;border-radius:50%;background:#fed976;box-shadow:0 0 0 0.9px rgba(0,0,0,0.3)"></div>
<div class="t" style="left:720.4px;top:832.29px;font-size:11px;line-height:11px;color:#4d5360;letter-spacing:-0.1px;">1 – 1,969.8</div>
<div style="position:absolute;left:706.4px;top:849.17px;width:9.2px;height:9.2px;border-radius:50%;background:#fd9a44;box-shadow:0 0 0 0.9px rgba(0,0,0,0.3)"></div>
<div class="t" style="left:720.4px;top:849.26px;font-size:11px;line-height:11px;color:#4d5360;letter-spacing:-0.1px;">1,969.8 – 3,938.6</div>
<div style="position:absolute;left:706.4px;top:866.14px;width:9.2px;height:9.2px;border-radius:50%;background:#f03b20;box-shadow:0 0 0 0.9px rgba(0,0,0,0.3)"></div>
<div class="t" style="left:720.4px;top:866.23px;font-size:11px;line-height:11px;color:#4d5360;letter-spacing:-0.1px;">3,938.6 – 5,907.4</div>
<div style="position:absolute;left:706.4px;top:883.1099999999999px;width:9.2px;height:9.2px;border-radius:50%;background:#d4151f;box-shadow:0 0 0 0.9px rgba(0,0,0,0.3)"></div>
<div class="t" style="left:720.4px;top:883.20px;font-size:11px;line-height:11px;color:#4d5360;letter-spacing:-0.1px;">5,907.4 – 7,876.2</div>
<div style="position:absolute;left:706.4px;top:900.0799999999999px;width:9.2px;height:9.2px;border-radius:50%;background:#800026;box-shadow:0 0 0 0.9px rgba(0,0,0,0.3)"></div>
<div class="t" style="left:720.4px;top:900.17px;font-size:11px;line-height:11px;color:#4d5360;letter-spacing:-0.1px;">7,876.2 – 9,845</div>
<div style="position:absolute;left:553.1px;top:932px;width:270.9px;height:15px;background:rgba(255,255,255,0.75)"></div>
<div class="t" style="left:519.0px;top:933.89px;font-size:11px;line-height:11px;color:#333;letter-spacing:0.05px;width:300px;text-align:right;">© OpenStreetMap contributors, Elastic Maps Service</div>
<svg class="ic" style="left:850px;top:593px;overflow:hidden" width="627" height="354" viewBox="850 593 627 354">
<rect x="850" y="593" width="627" height="354" fill="#d1d8e1"/>
<rect x="850" y="593" width="627" height="354" fill="url(#waves)"/>
<path d="M776.7 619.0L815.1 625.3L827.9 629.7L837.8 634.0L847.8 635.6L859.2 639.0L867.7 643.0L873.4 645.4L876.2 641.4L881.9 640.6L890.4 636.5L896.1 634.8L901.8 640.6L906.1 641.4L916.0 638.1L927.4 644.6L933.1 645.4L938.8 649.3L947.3 652.4L953.0 650.1L958.7 646.2L964.4 652.4L972.9 653.9L981.5 652.4L987.2 648.5L985.7 640.6L984.9 628.0L988.6 619.9L992.8 619.0L997.1 622.6L998.0 629.7L1000.0 634.8L1002.8 640.6L1005.4 647.7L1008.2 642.2L1009.3 647.0L1011.0 656.1L1013.9 653.1L1016.2 647.0L1017.9 640.6L1019.9 637.7L1027.0 640.6L1028.4 648.5L1025.6 656.1L1029.0 659.8L1024.1 665.5L1015.0 663.4L1011.3 677.1L1005.6 680.4L1002.2 684.9L998.2 688.0L994.3 694.1L992.6 698.3L991.1 707.5L992.3 711.4L997.1 720.0L1002.8 721.0L1008.5 724.6L1018.4 730.2L1026.1 730.7L1026.4 741.3L1031.2 748.8L1035.5 747.8L1036.1 736.1L1041.2 728.7L1042.3 721.0L1040.6 715.7L1039.8 704.7L1038.4 691.1L1046.9 691.7L1055.4 694.7L1061.1 698.9L1062.2 709.2L1065.7 715.2L1072.5 711.4L1076.8 703.0L1081.0 715.7L1085.3 723.6L1089.6 729.7L1096.7 736.1L1101.5 743.2L1099.5 747.8L1092.4 752.4L1078.2 753.7L1071.1 754.6L1066.8 758.1L1062.0 762.4L1065.4 761.1L1072.5 758.1L1077.3 759.8L1073.9 763.3L1075.9 767.5L1078.2 770.8L1085.3 772.8L1089.6 770.8L1086.7 774.5L1079.6 777.3L1073.1 781.6L1071.9 777.3L1076.8 774.5L1069.6 776.5L1064.0 779.7L1060.5 781.2L1058.8 785.1L1061.1 788.2L1056.8 789.7L1051.2 792.0L1049.7 793.1L1049.4 796.4L1046.9 799.4L1044.3 805.2L1045.2 811.2L1042.6 813.9L1038.4 817.0L1034.9 819.1L1030.4 823.1L1028.7 828.1L1031.0 834.7L1032.7 840.4L1031.5 845.2L1029.3 843.9L1027.5 841.1L1025.0 836.3L1024.1 832.7L1020.4 829.8L1017.0 830.4L1012.8 828.5L1008.5 828.5L1005.6 829.1L1006.2 832.4L1002.8 832.4L998.5 831.1L992.8 830.8L990.0 832.1L985.4 835.6L983.2 838.5L983.7 843.0L982.3 848.9L982.3 855.1L983.5 858.5L986.3 863.3L990.0 865.4L991.7 866.6L997.1 865.4L1000.5 865.1L1002.8 861.8L1003.1 858.2L1008.5 856.7L1012.8 856.7L1011.6 860.6L1010.5 865.7L1009.3 870.2L1008.5 873.2L1011.3 873.8L1017.0 873.5L1022.7 876.1L1022.4 882.0L1022.1 887.8L1024.1 890.7L1028.4 893.6L1032.7 892.7L1035.5 892.2L1038.9 894.2L1041.8 895.0L1045.2 892.2L1045.5 889.3L1048.3 887.8L1051.2 886.9L1054.9 885.2L1056.8 883.8L1057.4 886.4L1058.3 887.8L1060.5 886.4L1061.1 884.3L1061.7 886.4L1065.4 888.4L1070.2 889.0L1076.8 889.8L1082.4 889.0L1085.3 890.7L1086.7 894.7L1089.6 895.0L1093.8 899.3L1100.9 902.2L1109.5 903.6L1113.7 907.1L1116.6 913.6L1118.0 917.9L1119.4 919.3L1122.3 922.1L1129.4 922.1L1134.2 926.4L1140.8 927.3L1147.9 927.8L1150.7 929.8L1155.0 933.0L1159.8 934.4L1160.9 939.5L1160.7 943.6L1158.4 947.3L1155.0 950.8L1150.7 956.6L1149.3 961.0L1149.0 968.4L1147.6 974.4L1146.4 977.4L1145.0 983.5L1140.8 986.6L1135.1 987.2L1089.6 1008.8L1058.3 1008.8L1060.3 992.8L1060.8 977.4L1060.3 972.6L1056.8 969.3L1049.7 964.8L1043.5 959.5L1040.9 954.0L1036.9 946.4L1033.0 939.3L1029.3 935.0L1031.8 929.0L1030.1 925.6L1032.4 919.3L1034.1 915.9L1036.1 914.2L1039.2 911.9L1040.1 907.9L1040.3 900.8L1038.4 898.8L1037.2 895.6L1034.1 893.9L1031.8 896.5L1028.4 896.5L1024.4 896.2L1018.4 891.3L1016.2 889.3L1011.9 882.6L1008.5 881.4L1002.8 879.4L998.0 877.6L992.8 872.9L989.4 872.6L985.7 874.1L980.0 872.3L976.1 870.8L970.1 867.5L965.8 866.3L961.6 862.7L959.8 860.0L960.7 856.7L959.6 853.3L957.6 851.4L953.0 845.8L949.0 841.1L945.6 836.9L941.1 833.0L938.8 826.5L933.7 823.8L934.5 829.8L939.7 837.9L943.1 844.2L946.5 848.3L949.0 852.0L947.3 852.4L943.1 847.4L941.1 844.2L936.0 837.9L931.7 834.7L928.8 826.5L927.1 821.5L923.7 817.0L917.5 814.6L913.8 807.3L911.8 803.0L908.1 796.8L906.7 793.5L906.9 787.4L907.5 777.7L907.8 770.8L905.5 761.6L910.4 762.4L910.4 759.0L904.7 754.6L897.6 750.1L896.1 743.2L890.4 733.7L884.8 726.2L877.6 714.1L872.0 713.0L869.1 710.3L862.9 707.5L859.2 704.7L850.6 703.5L843.5 700.1L836.4 698.9L830.7 707.5L822.2 718.4L776.7 726.2ZM1091.5 765.0L1094.1 761.1L1096.1 756.8L1098.4 752.4L1102.1 747.4L1101.5 752.8L1100.4 755.0L1103.2 756.8L1108.0 757.7L1107.5 761.1L1110.3 765.0L1109.2 768.7L1107.5 768.3L1106.6 765.8L1102.4 767.9L1100.4 765.0L1093.8 765.0ZM1075.9 694.1L1072.5 692.9L1065.4 687.4L1073.9 686.8L1076.8 683.6L1073.9 677.1L1076.8 670.4L1084.1 662.7L1079.6 657.6L1072.5 653.9L1065.4 636.5L1058.3 629.7L1046.9 616.2L1041.2 612.4L1032.7 602.6L1018.4 602.6L1009.9 604.6L1004.2 613.4L1003.7 622.6L1005.9 628.0L1011.3 633.1L1017.0 636.5L1021.3 637.3L1025.6 640.6L1032.7 638.1L1038.4 640.6L1045.5 650.8L1051.2 653.9L1049.7 661.2L1052.6 671.8L1039.8 671.8L1040.6 679.1L1048.3 676.5L1055.4 680.4L1061.1 686.8L1066.8 691.1ZM1014.2 677.1L1016.2 670.4L1021.3 666.9L1029.8 673.8L1031.2 681.7L1022.7 691.7L1015.6 683.6ZM1022.7 689.9L1028.4 687.4L1032.1 691.7L1027.3 693.5ZM923.2 623.5L926.0 614.3L938.8 606.6L950.2 609.5L961.6 614.3L969.2 626.2L972.9 632.3L971.5 640.6L960.1 646.2L947.3 647.0L938.8 647.7L926.0 643.0L930.3 634.8L924.0 629.7ZM904.7 620.8L910.4 626.2L921.7 622.6L930.3 609.5L926.0 596.4L916.0 594.3L906.1 596.4L903.2 614.3ZM971.5 614.3L978.6 599.5L985.7 604.6L987.2 619.0L981.5 625.3L972.9 620.8ZM988.6 604.6L995.7 597.4L1002.8 601.6L998.5 616.2L991.4 619.0ZM975.8 646.2L981.5 638.1L987.2 643.0L982.9 650.1ZM987.2 583.3L1001.4 567.8L1029.8 571.5L1032.7 593.2L1007.1 594.3L995.7 592.1ZM927.4 571.5L961.6 577.5L963.0 588.9L947.3 594.3L930.3 588.9ZM972.9 573.9L982.9 573.9L987.2 586.7L980.0 590.0L972.9 583.3ZM895.0 751.0L899.0 751.9L904.7 756.8L909.5 761.6L906.1 760.7L900.4 756.8L895.3 753.3ZM881.9 735.6L885.6 736.1L887.6 745.1L883.9 741.8ZM1089.6 522.3L1095.2 577.5L1083.9 577.5L1095.2 583.3L1100.9 594.3L1102.4 609.5L1100.9 611.5L1103.8 623.5L1109.5 630.6L1106.6 638.1L1108.0 644.6L1115.2 647.0L1108.0 659.8L1112.3 673.8L1113.2 679.1L1116.6 689.9L1120.8 695.9L1123.7 698.9L1130.8 703.5L1136.5 705.8L1137.9 701.8L1142.2 689.9L1145.0 680.4L1152.1 669.7L1160.7 663.4L1167.8 650.1L1183.4 648.5L1190.5 636.5L1197.6 632.3L1196.2 614.3L1199.1 594.3L1206.2 577.5L1209.0 522.3ZM1190.5 670.4L1196.2 664.1L1199.1 668.3L1209.0 665.5L1214.7 663.4L1219.0 664.8L1221.8 672.4L1219.0 677.8L1211.9 681.7L1206.2 684.3L1200.5 681.7L1195.7 681.0L1197.6 678.4L1192.0 675.1L1196.2 673.1ZM1573.1 485.7L1544.7 552.2L1530.4 571.5L1510.5 583.3L1506.3 594.3L1496.3 601.6L1489.2 604.6L1496.3 616.2L1497.7 628.0L1494.9 634.8L1489.2 623.5L1489.2 614.3L1483.5 614.3L1476.4 614.3L1473.0 619.0L1472.1 632.3L1470.7 644.6L1469.6 650.1L1468.4 647.7L1469.0 640.6L1467.6 628.0L1466.7 614.3L1459.3 605.6L1455.1 617.1L1455.6 628.0L1450.8 636.5L1449.4 644.6L1452.2 648.5L1445.1 643.0L1436.6 640.6L1432.3 638.1L1425.2 646.2L1415.2 648.5L1412.4 645.4L1402.4 652.4L1392.5 650.8L1383.9 647.0L1385.9 664.8L1379.7 664.1L1375.4 673.8L1375.4 676.5L1366.9 680.4L1362.6 677.1L1356.9 666.9L1352.7 659.1L1359.8 664.1L1369.7 666.2L1376.8 663.4L1377.7 658.3L1372.6 652.4L1364.0 645.4L1354.1 642.2L1345.5 638.1L1339.9 629.7L1333.6 628.8L1322.8 634.8L1314.3 638.1L1305.7 644.6L1300.0 650.8L1297.2 659.8L1295.8 666.9L1291.5 675.1L1287.2 681.7L1280.1 688.0L1274.4 692.9L1274.4 701.8L1275.9 710.3L1278.7 715.2L1280.1 715.7L1283.0 715.2L1288.7 710.3L1290.1 705.8L1291.5 710.3L1292.9 714.1L1294.4 718.4L1296.6 724.6L1296.9 729.2L1300.6 729.2L1305.7 724.6L1307.4 718.4L1311.4 708.6L1312.8 703.5L1309.4 698.9L1310.0 689.9L1315.7 683.6L1320.5 677.1L1323.4 669.7L1328.5 668.3L1332.8 673.8L1329.9 679.1L1322.8 685.5L1321.1 695.9L1321.4 701.2L1324.2 704.7L1331.3 703.5L1339.9 701.8L1345.5 704.7L1341.3 706.4L1335.6 707.5L1327.1 709.2L1327.1 713.0L1329.3 716.8L1328.8 721.0L1324.5 717.3L1320.0 722.1L1320.0 726.2L1320.5 729.7L1317.1 731.7L1315.7 734.1L1313.1 734.1L1308.6 732.7L1301.5 736.6L1295.8 734.1L1291.5 736.1L1290.1 733.7L1288.7 731.2L1290.1 723.6L1290.1 718.4L1290.4 717.3L1284.7 720.5L1283.3 726.2L1284.7 731.2L1285.2 736.1L1280.1 738.5L1274.4 739.5L1273.3 743.7L1271.6 746.0L1268.8 748.8L1265.9 750.1L1264.8 753.7L1260.8 756.4L1256.8 757.2L1256.0 755.9L1255.4 760.3L1251.7 759.8L1246.8 761.6L1248.0 764.1L1253.1 766.2L1256.8 771.2L1256.8 777.3L1255.7 782.0L1249.4 781.6L1243.7 781.2L1237.5 780.8L1233.8 783.6L1235.2 787.4L1234.9 793.1L1233.2 799.4L1235.2 802.3L1234.9 805.9L1238.9 805.2L1242.3 806.6L1244.3 809.4L1247.4 806.9L1254.5 806.6L1258.2 803.7L1260.8 799.4L1259.4 796.8L1262.8 791.2L1266.5 789.7L1269.3 787.4L1268.8 783.6L1273.0 782.0L1277.3 783.2L1281.6 780.4L1285.2 778.1L1289.2 780.0L1291.5 785.5L1295.2 788.6L1299.5 790.5L1300.9 792.0L1304.9 795.0L1304.9 800.5L1306.0 802.7L1307.4 800.5L1309.1 798.7L1307.2 796.1L1309.1 793.5L1312.8 794.6L1311.4 792.4L1308.3 790.9L1305.7 787.8L1301.5 786.7L1299.2 781.6L1295.2 778.1L1295.2 774.0L1299.2 772.8L1300.9 774.5L1302.9 777.7L1306.9 781.6L1311.7 785.1L1314.3 787.4L1315.7 791.2L1315.4 793.9L1317.1 796.1L1319.1 799.4L1320.8 801.2L1321.7 804.1L1322.5 806.6L1324.2 808.0L1326.2 807.6L1325.6 804.1L1328.5 803.4L1326.5 800.1L1324.8 797.2L1325.4 792.7L1328.5 795.0L1329.9 791.6L1334.2 792.0L1335.0 796.8L1336.4 800.5L1335.0 801.6L1337.9 804.1L1338.4 806.9L1341.3 807.3L1345.5 808.7L1347.5 806.6L1351.2 807.6L1355.5 809.1L1358.6 806.6L1362.6 807.3L1362.0 811.2L1362.3 814.6L1361.2 816.7L1359.8 820.4L1358.3 824.8L1354.1 826.1L1351.0 824.8L1345.3 825.8L1337.6 825.1L1331.9 824.5L1325.6 821.5L1321.4 820.1L1317.1 823.1L1315.7 828.1L1311.4 826.5L1304.3 824.5L1303.5 822.1L1297.8 820.1L1291.8 819.1L1288.7 816.7L1291.5 812.2L1290.1 808.0L1291.5 805.5L1289.2 805.2L1288.1 804.8L1284.7 806.2L1278.7 805.9L1274.4 806.9L1268.8 806.6L1263.1 807.6L1258.5 810.1L1254.5 812.6L1251.7 812.2L1247.4 812.2L1244.9 809.8L1243.2 810.1L1240.9 816.4L1238.6 817.7L1236.0 819.1L1233.8 821.5L1232.3 827.8L1231.8 831.4L1227.5 835.6L1223.2 837.6L1219.0 842.0L1217.6 847.4L1214.7 849.9L1211.9 858.2L1213.3 862.7L1214.7 867.2L1213.3 871.7L1210.4 877.0L1212.4 880.5L1212.7 883.8L1216.1 886.4L1219.0 889.3L1222.4 892.2L1224.7 896.5L1228.9 899.9L1234.6 905.1L1238.9 906.8L1246.0 904.5L1251.7 904.8L1256.0 905.1L1261.6 902.8L1265.9 901.3L1271.6 901.1L1275.9 905.1L1277.3 907.1L1281.6 906.5L1284.4 906.2L1287.2 908.5L1288.1 912.2L1288.1 916.5L1286.7 918.7L1285.2 921.6L1288.7 927.3L1291.5 930.1L1294.4 933.5L1295.2 936.4L1297.8 944.4L1299.5 949.3L1298.9 954.3L1295.8 958.1L1294.4 963.9L1293.8 969.3L1293.8 974.4L1295.8 980.4L1300.0 995.9L1359.8 995.9L1361.2 989.7L1361.2 983.5L1359.2 976.8L1364.0 973.8L1368.3 969.9L1374.0 965.4L1376.0 961.0L1375.4 955.1L1374.0 949.3L1372.0 942.1L1371.7 938.7L1371.1 933.5L1373.1 930.7L1375.4 926.4L1378.3 923.6L1381.1 920.7L1385.4 915.9L1389.1 913.6L1392.5 909.3L1396.7 905.1L1399.6 899.3L1403.9 892.2L1406.1 885.5L1399.6 887.2L1388.2 889.6L1383.7 886.4L1383.4 883.2L1376.8 877.6L1372.6 874.4L1369.7 867.2L1366.0 862.4L1365.5 856.7L1362.6 852.0L1359.8 847.4L1356.9 841.1L1354.1 836.3L1352.7 830.1L1355.5 834.7L1357.8 836.9L1359.2 831.4L1359.8 836.3L1364.0 842.7L1368.3 848.9L1371.7 856.7L1375.4 862.7L1378.3 868.7L1382.0 876.1L1383.4 882.9L1388.2 882.6L1396.7 879.1L1402.4 876.1L1408.7 874.1L1413.8 870.2L1418.1 867.8L1422.3 864.8L1426.6 859.7L1430.3 853.6L1426.9 850.2L1422.3 848.9L1420.4 845.8L1420.4 841.7L1417.5 844.9L1414.7 848.0L1408.1 848.9L1406.1 848.0L1407.0 843.3L1405.3 842.7L1403.9 845.8L1403.0 842.7L1401.3 839.5L1396.7 831.4L1398.2 829.8L1402.4 829.8L1404.7 833.4L1409.5 837.9L1415.2 840.8L1420.4 838.9L1423.2 843.3L1428.0 844.6L1435.4 845.2L1443.7 845.2L1449.7 844.6L1450.8 846.4L1453.6 849.6L1455.6 851.4L1456.5 853.9L1459.3 858.2L1462.2 858.8L1466.7 856.7L1467.3 864.2L1469.3 873.2L1472.1 879.1L1473.5 883.5L1477.2 891.3L1480.7 896.2L1482.7 893.9L1485.8 889.8L1487.2 885.5L1488.6 881.7L1488.3 874.7L1491.5 872.0L1494.3 870.2L1499.1 865.7L1504.3 861.8L1507.7 858.2L1511.1 856.0L1516.2 855.1L1544.7 855.1L1573.1 855.1ZM1487.2 891.3L1490.6 894.2L1493.2 899.3L1492.3 901.9L1489.5 902.5L1487.8 899.9L1487.2 896.5ZM1244.0 754.6L1250.3 753.3L1257.4 751.5L1264.2 749.2L1265.1 742.8L1261.1 739.9L1259.9 735.6L1256.8 733.2L1255.7 728.2L1254.0 726.2L1253.1 723.6L1255.1 718.4L1250.3 717.3L1251.7 712.5L1246.0 712.5L1244.0 718.4L1244.0 723.6L1244.6 729.2L1246.6 731.2L1245.7 732.2L1250.3 731.7L1250.8 735.1L1251.7 739.0L1247.1 739.5L1248.3 743.2L1245.4 746.5L1248.8 747.4L1251.7 747.8L1248.3 749.2L1244.6 753.3ZM1243.2 744.6L1242.6 739.5L1243.2 735.1L1244.0 732.2L1241.7 730.2L1236.6 730.2L1236.0 733.7L1231.8 735.1L1231.2 739.0L1234.6 739.9L1232.1 744.6L1230.9 746.5L1233.2 747.8L1237.5 746.5L1241.7 744.6ZM1295.5 803.0L1298.6 801.6L1304.6 801.2L1303.2 804.1L1303.2 806.9L1300.9 805.9L1295.8 803.7ZM1284.1 791.2L1286.4 790.5L1288.1 793.1L1287.5 797.9L1285.8 798.7L1284.1 798.7L1284.4 793.1ZM1287.0 783.6L1287.2 787.0L1286.4 789.7L1284.7 788.2L1284.7 785.5ZM1327.1 810.8L1329.9 811.5L1335.0 812.2L1334.2 812.9L1330.5 812.9L1327.1 811.9ZM1352.1 812.9L1354.1 811.9L1358.6 810.5L1356.9 812.9L1354.1 814.3L1352.4 813.9ZM1291.5 727.7L1294.4 725.7L1296.1 727.7L1294.9 730.2L1292.4 730.2ZM1288.1 728.7L1290.4 728.2L1290.7 730.7L1288.7 730.7ZM1311.7 720.0L1313.4 716.3L1314.0 717.9L1312.3 721.5ZM1406.7 623.5L1411.0 629.7L1419.5 631.4L1423.8 630.6L1418.1 614.3L1419.5 607.6L1428.0 594.3L1436.6 583.3L1447.9 571.5L1455.1 567.8L1445.1 565.3L1430.9 575.1L1422.3 586.7L1416.7 599.5L1412.4 606.6L1408.1 616.2ZM1426.6 633.1L1432.3 637.3L1430.9 640.6L1426.6 636.5ZM1398.2 640.6L1401.9 642.2L1401.0 646.2L1397.6 644.6ZM1018.7 855.4L1020.4 852.4L1025.8 851.4L1031.2 851.7L1038.4 854.2L1041.2 856.7L1044.9 857.9L1049.4 860.6L1046.9 861.5L1039.2 861.8L1040.6 859.1L1036.9 856.7L1031.2 855.1L1027.5 854.5L1024.1 855.1L1021.3 855.7ZM1048.3 866.0L1053.1 861.5L1058.3 861.5L1062.5 863.3L1065.9 865.4L1064.0 866.0L1059.7 866.6L1056.8 868.4L1053.1 866.9L1048.6 866.3ZM1037.5 866.0L1041.8 865.7L1043.5 867.2L1040.6 868.1L1037.8 866.6ZM1069.1 865.7L1073.6 866.0L1073.6 867.2L1069.1 867.4ZM1037.8 845.2L1039.2 845.8L1039.5 848.3L1038.4 848.9ZM1038.6 839.8L1040.9 840.8L1040.6 842.4L1036.1 840.4ZM1084.1 888.7L1087.0 888.4L1086.7 890.4L1084.1 890.4ZM1400.4 953.7L1403.9 963.9L1401.0 969.9L1399.6 975.9L1396.7 983.5L1393.9 992.8L1388.2 994.4L1383.9 986.6L1385.4 977.4L1386.8 968.4L1391.9 964.8L1395.3 961.0L1399.0 955.1ZM1411.8 882.9L1415.2 883.2L1414.1 884.0L1412.1 883.8ZM1040.1 652.4L1042.3 647.0L1045.8 649.3L1044.6 655.4L1041.5 656.9ZM1031.2 607.6L1041.2 603.6L1041.8 610.5L1034.1 612.4Z" fill="#fbfbf9"/>
<path d="M998.2 768.7L1002.8 769.1L1008.5 767.5L1011.3 769.5L1018.4 768.3L1019.9 769.5L1019.0 765.0L1015.6 760.7L1009.1 759.8L1006.2 763.3L1002.8 764.5L998.5 767.9ZM1010.2 783.6L1010.5 787.4L1013.0 789.0L1014.7 785.5L1014.7 779.7L1017.0 774.5L1019.0 772.4L1016.2 771.6L1012.8 772.4L1010.5 775.7L1009.9 777.7L1011.3 777.7L1010.5 781.6ZM1019.3 772.0L1022.7 770.8L1028.4 771.6L1032.7 774.5L1031.8 777.3L1029.0 776.1L1027.8 779.7L1025.8 783.6L1024.7 779.7L1021.6 780.8L1023.3 777.7L1021.3 773.6ZM1023.0 788.6L1027.8 789.3L1035.5 784.3L1031.2 785.1L1025.6 787.4ZM1033.2 782.4L1034.7 781.2L1042.6 778.9L1043.5 781.6L1039.8 782.4L1035.5 782.4ZM984.3 752.8L986.3 747.8L983.2 743.2L981.5 738.0L982.9 736.1L982.0 740.9L984.6 745.5L985.4 750.1ZM927.4 697.7L936.0 689.9L944.5 688.0L950.2 688.0L944.5 694.1L936.0 698.9L930.3 699.5ZM904.7 672.4L910.4 663.4L921.7 659.8L924.6 666.9L918.9 672.4L910.4 674.5ZM943.1 711.4L950.2 708.6L958.7 707.5L951.6 711.4ZM1339.9 789.0L1342.7 790.5L1348.4 790.9L1355.5 787.4L1359.8 787.0L1364.0 790.1L1369.7 791.6L1374.0 791.2L1378.5 789.0L1378.3 785.5L1372.6 779.7L1367.7 776.9L1364.3 774.9L1366.9 772.0L1369.2 769.1L1371.7 766.6L1366.9 767.1L1361.2 769.5L1359.8 772.8L1361.2 774.5L1359.8 776.1L1355.5 777.7L1352.7 774.0L1355.5 771.6L1349.8 769.1L1347.5 769.5L1344.7 774.9L1341.9 778.9L1339.6 782.8L1338.4 785.5ZM1395.3 772.4L1399.6 769.5L1407.8 767.1L1411.0 769.5L1411.0 774.5L1405.3 777.7L1406.7 781.6L1410.1 785.5L1410.4 791.2L1411.0 795.0L1413.2 799.4L1413.5 804.4L1408.1 806.9L1402.4 804.8L1399.6 803.7L1399.6 800.5L1400.4 796.8L1403.3 793.5L1401.0 792.0L1398.5 788.2L1395.3 783.6L1395.3 779.7L1393.1 777.7L1393.9 773.6ZM1426.0 771.6L1429.5 770.4L1433.7 769.1L1435.1 771.6L1432.3 773.6L1430.3 777.7L1428.6 779.7L1426.6 777.7ZM1469.3 770.0L1475.0 769.1L1480.7 770.4L1485.5 770.0L1483.5 772.4L1476.4 771.2L1471.3 772.4ZM1346.1 699.5L1348.4 695.3L1353.5 697.1L1353.5 701.2L1350.1 704.1L1347.3 702.4ZM1358.3 698.9L1360.3 695.9L1361.2 688.0L1357.8 691.1L1359.2 695.3ZM1295.5 711.4L1299.5 709.2L1300.6 711.4L1297.8 713.0ZM1350.4 920.2L1354.9 918.2L1357.2 920.2L1356.9 923.6L1354.9 926.7L1351.2 926.4L1350.1 923.0ZM1343.3 928.7L1344.1 928.7L1347.8 937.8L1349.0 943.9L1347.3 944.1L1344.4 937.8L1343.0 932.1ZM1356.9 946.4L1358.6 949.3L1360.6 960.7L1359.2 960.4L1357.8 953.7L1356.6 949.3ZM1362.3 906.2L1363.5 906.8L1364.3 912.2L1362.9 911.9ZM1259.4 895.0L1260.8 895.6L1260.8 899.9L1259.1 898.2ZM1298.6 880.2L1301.2 879.4L1301.7 882.0L1299.5 882.6ZM1365.5 884.0L1367.2 884.3L1367.2 886.1L1365.7 885.8Z" fill="#d1d8e1"/>
<path d="M975.9 747.4L975.6 746.8L975.6 745.4L975.9 744.0L976.4 743.5L976.7 744.1L976.7 745.5L976.4 746.9ZM983.2 755.6L982.7 755.1L982.3 754.0L982.2 752.8L982.5 752.2L982.9 752.6L983.3 753.8L983.4 755.0ZM937.2 751.5L936.4 752.1L935.3 752.0L934.4 751.2L934.3 750.4L935.0 749.8L936.1 750.0L937.0 750.7ZM960.9 698.0L960.1 697.5L959.3 695.9L959.0 694.2L959.3 693.3L960.2 693.8L961.0 695.4L961.3 697.1ZM1061.9 733.1L1061.4 733.1L1060.8 732.6L1060.6 731.8L1060.7 731.3L1061.2 731.4L1061.8 731.9L1062.1 732.6ZM1055.3 744.4L1054.5 744.2L1053.7 743.1L1053.5 741.7L1053.9 741.0L1054.7 741.2L1055.4 742.3L1055.7 743.6ZM1011.3 754.2L1011.1 753.8L1011.3 753.1L1011.8 752.7L1012.3 752.7L1012.6 753.2L1012.4 753.8L1011.9 754.2ZM993.8 731.3L993.0 731.2L992.0 730.3L991.4 729.1L991.6 728.3L992.4 728.4L993.3 729.3L993.9 730.5ZM962.3 703.2L962.1 702.3L962.6 701.1L963.7 700.4L964.6 700.6L964.9 701.5L964.3 702.6L963.2 703.3ZM943.5 721.3L943.0 720.7L942.8 719.1L942.9 717.6L943.3 717.0L943.8 717.6L944.0 719.1L943.9 720.6ZM928.8 691.5L929.2 690.7L930.5 689.9L932.0 689.5L932.8 689.9L932.5 690.7L931.2 691.5L929.6 691.9ZM974.8 689.2L974.1 688.8L973.7 687.5L973.7 686.1L974.3 685.5L975.0 686.0L975.5 687.2L975.4 688.6ZM932.6 687.6L932.6 686.6L933.6 685.6L935.0 685.1L935.9 685.5L935.9 686.6L934.9 687.6L933.5 688.0ZM970.2 724.5L969.7 723.9L969.4 722.6L969.4 721.1L969.7 720.5L970.1 721.0L970.4 722.4L970.4 723.9ZM952.2 748.9L951.6 749.5L950.9 749.5L950.5 749.0L950.5 748.2L951.0 747.6L951.8 747.6L952.2 748.1ZM964.4 724.3L963.9 723.7L963.5 722.0L963.4 720.4L963.6 719.6L964.1 720.2L964.6 721.9L964.7 723.6ZM1013.6 663.9L1012.5 663.9L1011.2 662.9L1010.5 661.5L1010.6 660.5L1011.7 660.5L1012.9 661.5L1013.7 662.9ZM992.9 726.4L991.9 726.8L990.2 726.3L988.8 725.2L988.6 724.2L989.6 723.8L991.3 724.2L992.6 725.3ZM952.3 739.0L951.8 738.5L951.8 737.6L952.3 736.8L953.0 736.7L953.5 737.2L953.5 738.1L953.0 738.8ZM966.1 760.1L965.7 759.6L965.7 758.5L966.1 757.4L966.8 757.1L967.2 757.6L967.2 758.8L966.7 759.8ZM1030.1 755.2L1030.4 754.2L1031.9 753.3L1033.6 752.9L1034.5 753.3L1034.2 754.3L1032.7 755.2L1031.0 755.6ZM1051.0 723.2L1050.9 722.6L1051.1 721.6L1051.7 720.7L1052.3 720.4L1052.5 721.0L1052.2 722.0L1051.6 723.0ZM935.1 754.1L934.5 754.0L934.0 753.3L933.7 752.5L933.9 752.0L934.5 752.1L935.0 752.8L935.3 753.6ZM933.4 759.9L932.9 759.8L932.4 759.2L932.3 758.4L932.5 758.0L933.0 758.1L933.5 758.7L933.6 759.5ZM930.0 664.9L929.3 664.8L928.2 663.9L927.4 662.8L927.3 662.1L928.0 662.2L929.1 663.1L929.9 664.2ZM978.9 724.7L979.2 724.0L979.9 723.6L980.6 723.9L980.9 724.7L980.7 725.5L979.9 725.8L979.2 725.5ZM937.0 750.6L937.2 750.0L937.9 749.3L938.9 749.0L939.5 749.2L939.4 749.8L938.6 750.5L937.6 750.8ZM952.5 758.1L951.6 758.3L949.9 757.7L948.4 756.7L948.0 755.8L949.0 755.6L950.7 756.2L952.2 757.2ZM1009.5 757.3L1009.6 756.4L1010.6 755.5L1011.9 755.3L1012.7 755.9L1012.6 756.9L1011.6 757.7L1010.3 757.9ZM981.3 745.4L981.4 744.5L982.4 743.3L983.8 742.5L984.7 742.6L984.6 743.5L983.5 744.6L982.2 745.4ZM975.1 739.7L975.3 738.6L976.6 737.6L978.1 737.2L979.1 737.7L978.9 738.7L977.6 739.7L976.0 740.2ZM1044.2 738.5L1043.6 739.0L1042.4 739.1L1041.2 738.7L1040.7 738.2L1041.3 737.7L1042.5 737.6L1043.7 737.9ZM927.8 733.4L928.0 732.7L928.9 732.2L929.8 732.4L930.3 733.1L930.0 733.8L929.2 734.2L928.2 734.0ZM996.9 656.7L995.8 656.3L994.8 654.8L994.3 653.0L994.8 652.0L995.8 652.3L996.9 653.8L997.3 655.6ZM959.3 739.4L959.0 738.9L959.1 738.1L959.6 737.4L960.1 737.3L960.4 737.7L960.3 738.6L959.8 739.2ZM1050.4 752.7L1050.4 751.8L1051.2 750.6L1052.5 750.0L1053.5 750.2L1053.5 751.2L1052.7 752.4L1051.4 753.0ZM1044.6 713.7L1043.8 713.8L1043.2 713.2L1043.0 712.4L1043.5 711.7L1044.3 711.6L1045.0 712.2L1045.1 713.0ZM989.8 722.1L988.8 722.4L987.1 721.7L985.7 720.6L985.5 719.6L986.5 719.4L988.1 720.0L989.5 721.2ZM947.0 746.5L946.0 746.9L944.3 746.4L942.9 745.4L942.6 744.4L943.6 744.0L945.3 744.5L946.7 745.5ZM1011.6 748.0L1011.0 747.4L1010.9 746.8L1011.5 746.4L1012.3 746.6L1013.0 747.2L1013.0 747.8L1012.5 748.2ZM1007.1 655.7L1007.1 654.7L1007.9 653.9L1009.0 653.6L1009.8 654.0L1009.8 654.9L1009.0 655.8L1007.9 656.1ZM957.8 737.2L957.5 736.7L957.6 735.7L958.0 734.9L958.6 734.6L958.9 735.1L958.8 736.1L958.4 736.9ZM966.4 720.0L965.5 720.0L964.9 719.5L964.8 718.7L965.4 718.1L966.3 718.0L966.9 718.5L966.9 719.3ZM1068.4 721.3L1067.8 720.5L1067.8 718.8L1068.2 717.1L1068.9 716.4L1069.4 717.2L1069.5 718.9L1069.0 720.6ZM1009.6 757.4L1009.1 757.8L1008.0 758.0L1006.8 757.8L1006.4 757.3L1006.8 756.9L1008.0 756.7L1009.1 756.9ZM1051.6 745.1L1051.0 744.5L1050.9 743.3L1051.4 742.2L1052.2 741.8L1052.8 742.4L1052.9 743.7L1052.4 744.7ZM978.2 708.8L977.5 709.4L976.2 709.2L975.1 708.5L974.8 707.7L975.5 707.1L976.8 707.3L977.9 708.0ZM1013.8 737.5L1013.1 737.1L1012.8 736.2L1013.1 735.3L1013.9 734.9L1014.6 735.3L1014.9 736.3L1014.5 737.2ZM1069.9 718.3L1069.3 717.8L1069.1 716.4L1069.4 715.1L1070.0 714.5L1070.6 715.1L1070.8 716.5L1070.5 717.8ZM968.2 704.6L967.2 705.0L965.5 704.6L964.0 703.6L963.7 702.5L964.6 702.2L966.4 702.6L967.9 703.6ZM944.9 716.8L944.5 717.2L943.8 717.2L943.2 716.9L943.0 716.4L943.4 716.0L944.1 715.9L944.7 716.3ZM1069.3 746.0L1068.5 746.4L1067.0 746.0L1065.8 745.1L1065.6 744.2L1066.4 743.9L1067.9 744.3L1069.1 745.2ZM958.0 652.0L958.5 651.4L959.5 651.1L960.6 651.4L961.1 651.9L960.6 652.5L959.6 652.8L958.5 652.6ZM1057.9 745.9L1057.2 745.8L1056.4 744.9L1056.1 743.8L1056.4 743.1L1057.2 743.2L1057.9 744.1L1058.2 745.2ZM955.4 731.4L955.1 730.8L955.3 729.3L955.7 727.8L956.1 727.3L956.4 727.9L956.3 729.4L955.9 730.9ZM994.7 758.8L994.0 758.4L993.8 757.4L994.1 756.4L994.8 756.0L995.4 756.4L995.7 757.4L995.4 758.4ZM936.9 647.7L936.0 648.3L934.4 648.1L933.1 647.2L932.7 646.2L933.6 645.7L935.2 645.8L936.6 646.7ZM968.9 756.4L968.1 756.6L966.6 756.1L965.3 755.3L964.9 754.6L965.6 754.4L967.2 754.9L968.5 755.7ZM993.9 659.2L993.1 659.3L991.5 658.7L990.2 657.8L989.8 657.1L990.6 657.0L992.1 657.5L993.5 658.4ZM1036.4 751.9L1035.6 751.9L1035.2 751.3L1035.3 750.6L1035.9 750.2L1036.7 750.3L1037.1 750.8L1037.0 751.5ZM938.0 654.6L937.2 655.2L935.8 655.2L934.6 654.5L934.2 653.6L935.0 653.0L936.4 653.1L937.6 653.8ZM1062.1 755.2L1061.3 754.8L1060.2 753.5L1059.7 751.9L1059.8 751.1L1060.7 751.4L1061.7 752.7L1062.3 754.3ZM1012.6 657.2L1012.2 656.7L1012.1 655.8L1012.3 654.9L1012.8 654.6L1013.2 655.0L1013.3 655.9L1013.0 656.8ZM963.4 749.9L963.0 750.0L962.2 749.7L961.7 749.1L961.7 748.6L962.2 748.5L962.9 748.8L963.4 749.4ZM974.3 732.9L973.8 732.2L973.6 730.7L973.8 729.2L974.3 728.5L974.8 729.2L975.0 730.7L974.8 732.2ZM953.7 726.5L953.5 727.0L952.9 727.2L952.3 726.9L952.1 726.4L952.4 726.0L952.9 725.8L953.5 726.0ZM1040.2 704.8L1040.4 704.1L1041.2 703.7L1042.0 703.8L1042.5 704.3L1042.3 705.0L1041.5 705.4L1040.7 705.3ZM940.1 672.0L940.2 671.3L941.1 670.5L942.2 670.2L942.9 670.4L942.8 671.2L941.9 672.0L940.8 672.3ZM988.2 711.3L987.1 711.2L986.1 710.1L985.8 708.7L986.2 707.7L987.2 707.9L988.2 709.0L988.6 710.4ZM979.2 755.0L979.2 754.5L979.5 753.8L980.2 753.4L980.6 753.4L980.7 753.9L980.3 754.6L979.7 755.0ZM964.4 744.7L964.4 743.9L964.9 743.3L965.6 743.3L966.2 743.9L966.2 744.8L965.7 745.3L965.0 745.3ZM963.4 733.5L962.9 733.1L962.6 732.0L962.5 730.8L962.9 730.3L963.4 730.7L963.8 731.8L963.8 732.9ZM973.9 726.3L973.4 726.1L973.1 725.6L973.3 725.0L973.8 724.7L974.4 724.9L974.7 725.4L974.5 726.0ZM1005.8 742.0L1005.2 741.9L1004.3 741.1L1003.6 740.1L1003.5 739.5L1004.1 739.7L1005.0 740.4L1005.7 741.4ZM939.4 721.8L938.9 721.8L938.5 721.4L938.2 720.8L938.4 720.4L938.8 720.4L939.3 720.8L939.5 721.4ZM960.8 702.1L960.4 701.3L960.8 700.1L961.6 699.1L962.5 699.0L962.9 699.8L962.6 701.1L961.7 702.0ZM985.0 730.5L985.1 729.7L986.2 728.2L987.5 726.9L988.3 726.6L988.1 727.5L987.1 729.0L985.8 730.2ZM1026.1 757.3L1025.7 756.3L1026.0 754.7L1026.9 753.3L1027.9 753.0L1028.4 753.9L1028.1 755.6L1027.1 756.9ZM945.4 708.6L945.3 707.7L946.1 706.8L947.3 706.3L948.2 706.7L948.2 707.6L947.4 708.5L946.2 709.0ZM1054.8 702.7L1054.7 701.8L1055.4 700.2L1056.6 699.0L1057.6 698.8L1057.8 699.8L1057.0 701.3L1055.8 702.6ZM962.2 756.6L961.7 757.0L961.0 757.0L960.3 756.5L960.2 755.9L960.7 755.5L961.4 755.5L962.1 756.0ZM1056.7 705.3L1056.4 704.5L1056.9 703.2L1057.9 702.2L1058.8 702.1L1059.0 702.9L1058.5 704.2L1057.5 705.2ZM1002.5 760.9L1001.8 760.3L1001.5 758.7L1001.8 757.1L1002.5 756.4L1003.3 757.1L1003.5 758.7L1003.2 760.3ZM935.9 683.0L935.4 683.0L934.7 682.5L934.2 681.7L934.3 681.2L934.8 681.2L935.5 681.7L936.0 682.5ZM1040.8 742.5L1039.9 741.9L1039.6 740.4L1039.9 738.9L1040.7 738.2L1041.6 738.9L1041.9 740.4L1041.6 741.9ZM984.8 714.5L984.3 713.7L984.5 712.2L985.3 711.0L986.2 710.7L986.7 711.5L986.5 713.0L985.7 714.2ZM1026.2 752.9L1026.1 752.4L1026.5 751.7L1027.1 751.3L1027.7 751.4L1027.8 751.9L1027.5 752.6L1026.8 753.0ZM973.6 703.3L973.2 703.3L972.7 703.0L972.4 702.5L972.5 702.0L973.0 702.0L973.5 702.3L973.7 702.8ZM996.5 748.6L997.1 748.1L998.8 747.8L1000.5 747.9L1001.3 748.3L1000.6 748.8L998.9 749.1L997.2 749.0ZM999.4 673.0L998.5 672.8L997.1 671.6L996.1 670.1L996.0 669.2L996.9 669.4L998.3 670.6L999.3 672.1ZM959.1 653.5L958.5 654.0L957.6 653.9L957.0 653.3L956.9 652.5L957.5 652.1L958.4 652.2L959.0 652.8ZM1008.0 653.0L1007.3 652.7L1007.0 651.9L1007.3 651.2L1008.1 650.9L1008.8 651.2L1009.1 652.0L1008.8 652.7ZM963.1 660.2L962.6 660.5L961.4 660.7L960.2 660.5L959.8 660.1L960.3 659.8L961.4 659.6L962.6 659.8ZM971.4 747.1L971.6 746.4L972.3 745.8L973.3 745.5L973.9 745.7L973.8 746.4L973.0 747.0L972.0 747.3ZM922.6 680.8L923.2 680.3L924.7 679.7L926.4 679.5L927.1 679.8L926.5 680.3L925.0 680.9L923.4 681.1ZM970.3 725.3L969.6 724.7L969.6 723.6L970.2 722.6L971.2 722.5L971.9 723.1L971.9 724.2L971.3 725.2ZM983.3 718.5L982.8 718.7L981.9 718.6L981.0 718.1L980.8 717.7L981.3 717.4L982.2 717.6L983.0 718.0ZM1059.2 734.5L1058.4 734.2L1057.0 733.1L1056.0 731.6L1055.9 730.8L1056.7 731.0L1058.0 732.2L1059.1 733.6ZM1004.6 742.4L1004.7 741.4L1005.6 740.7L1006.6 740.7L1007.3 741.3L1007.2 742.2L1006.4 742.9L1005.3 743.0ZM1053.5 697.7L1052.8 696.8L1052.8 695.1L1053.4 693.4L1054.3 692.8L1055.0 693.7L1055.1 695.4L1054.5 697.1ZM1037.7 756.1L1037.7 755.3L1038.6 754.1L1039.9 753.2L1040.7 753.2L1040.7 754.0L1039.8 755.2L1038.5 756.1ZM932.9 656.8L932.2 656.8L931.6 656.2L931.5 655.5L931.9 654.9L932.6 654.9L933.1 655.5L933.2 656.2ZM970.8 684.1L970.7 683.2L971.4 681.5L972.4 680.0L973.2 679.6L973.3 680.5L972.6 682.1L971.6 683.6ZM973.8 704.6L973.2 704.7L972.2 704.4L971.4 703.7L971.2 703.1L971.8 702.9L972.8 703.3L973.6 704.0ZM956.1 659.4L956.4 658.8L957.5 658.3L958.7 658.1L959.3 658.4L959.0 659.0L957.9 659.6L956.7 659.7ZM947.7 741.9L947.3 742.3L946.6 742.3L946.0 741.9L945.9 741.3L946.3 740.9L947.0 740.9L947.6 741.3ZM961.4 736.6L961.2 735.6L961.9 734.5L963.0 733.8L964.0 734.0L964.1 734.9L963.5 736.1L962.3 736.8ZM991.2 721.1L990.5 720.9L989.7 719.9L989.3 718.7L989.5 718.0L990.2 718.2L991.0 719.2L991.4 720.4ZM934.4 736.0L934.0 735.2L933.9 733.4L934.1 731.6L934.5 730.9L934.9 731.6L935.1 733.4L934.9 735.2ZM959.2 735.3L958.6 735.0L958.2 734.2L958.3 733.3L958.8 732.8L959.4 733.1L959.7 733.9L959.7 734.8ZM1360.4 661.6L1359.7 661.9L1358.0 661.8L1356.4 661.5L1355.7 661.1L1356.4 660.8L1358.1 660.8L1359.8 661.1ZM1350.7 658.6L1350.2 659.2L1349.0 659.5L1347.9 659.2L1347.4 658.6L1347.9 657.9L1349.0 657.7L1350.2 657.9ZM1335.0 657.0L1335.6 656.1L1337.2 655.7L1338.8 655.8L1339.5 656.6L1339.0 657.4L1337.4 657.8L1335.7 657.7ZM1331.4 700.6L1331.1 700.0L1331.3 699.2L1331.9 698.7L1332.6 698.7L1332.9 699.3L1332.7 700.1L1332.1 700.6ZM1357.9 670.5L1357.1 670.0L1356.6 668.6L1356.7 667.2L1357.3 666.6L1358.1 667.0L1358.6 668.4L1358.5 669.8ZM1341.0 703.4L1341.6 702.8L1343.0 702.2L1344.6 702.0L1345.3 702.3L1344.8 702.9L1343.4 703.5L1341.8 703.7ZM1346.2 691.2L1345.9 690.8L1346.0 690.0L1346.5 689.5L1347.1 689.4L1347.4 689.8L1347.3 690.6L1346.8 691.2ZM1345.6 686.2L1345.2 686.8L1344.3 687.0L1343.5 686.7L1343.1 686.1L1343.5 685.4L1344.4 685.2L1345.2 685.5ZM1331.6 683.3L1332.0 682.4L1333.6 681.5L1335.4 681.2L1336.3 681.5L1335.9 682.4L1334.3 683.3L1332.5 683.7ZM1339.6 694.7L1339.2 693.9L1339.4 693.0L1340.2 692.5L1341.1 692.7L1341.6 693.5L1341.3 694.4L1340.5 694.9ZM1340.4 672.5L1340.3 671.8L1340.6 670.8L1341.4 669.9L1342.0 669.8L1342.2 670.4L1341.8 671.5L1341.1 672.3ZM1357.2 694.9L1356.7 694.8L1356.3 694.2L1356.3 693.6L1356.8 693.2L1357.4 693.3L1357.7 693.9L1357.7 694.5ZM1348.0 697.7L1347.3 697.0L1347.0 695.4L1347.3 693.8L1348.1 693.2L1348.8 693.9L1349.1 695.5L1348.7 697.0ZM1331.4 655.1L1330.6 655.4L1329.7 655.0L1329.2 654.1L1329.4 653.3L1330.2 653.0L1331.1 653.4L1331.6 654.3ZM1331.0 667.7L1330.2 667.3L1329.8 666.4L1330.1 665.4L1331.0 665.0L1331.8 665.4L1332.1 666.3L1331.8 667.3ZM1328.2 694.5L1328.5 693.7L1329.6 693.3L1330.7 693.4L1331.3 694.0L1330.9 694.7L1329.9 695.2L1328.7 695.1ZM1329.3 686.4L1328.6 687.0L1327.7 686.9L1327.1 686.2L1327.1 685.3L1327.8 684.7L1328.7 684.8L1329.3 685.5ZM1323.3 702.5L1323.4 701.6L1324.3 700.9L1325.4 700.8L1326.1 701.4L1326.0 702.3L1325.1 703.0L1324.0 703.0ZM1352.0 653.9L1351.1 653.9L1349.5 653.1L1348.1 652.0L1347.8 651.2L1348.7 651.1L1350.3 651.9L1351.6 653.0ZM1338.2 686.8L1337.8 687.3L1336.8 687.5L1335.8 687.3L1335.4 686.8L1335.8 686.4L1336.8 686.2L1337.8 686.4ZM1330.6 688.2L1331.3 687.7L1333.1 687.4L1334.9 687.3L1335.6 687.7L1335.0 688.2L1333.2 688.5L1331.4 688.6ZM1330.9 689.9L1330.1 689.4L1329.4 687.9L1329.4 686.3L1330.0 685.5L1330.9 686.0L1331.5 687.5L1331.5 689.1ZM1335.5 657.6L1335.6 656.9L1336.3 656.5L1337.2 656.4L1337.7 656.8L1337.5 657.4L1336.8 657.9L1336.0 658.0ZM1326.2 685.3L1325.4 685.9L1323.8 686.0L1322.2 685.5L1321.7 684.7L1322.4 684.0L1324.0 683.9L1325.6 684.4ZM1322.4 703.6L1322.5 702.7L1323.6 701.3L1325.0 700.2L1325.8 700.1L1325.6 700.9L1324.6 702.3L1323.2 703.4ZM1355.6 689.8L1354.9 689.1L1354.9 688.1L1355.6 687.4L1356.5 687.4L1357.1 688.0L1357.1 689.0L1356.5 689.7ZM1333.9 668.8L1333.5 669.3L1332.5 669.5L1331.5 669.3L1331.1 668.8L1331.5 668.3L1332.5 668.1L1333.5 668.3ZM1352.7 657.5L1352.0 658.3L1350.6 658.5L1349.3 658.1L1348.8 657.2L1349.4 656.4L1350.8 656.2L1352.2 656.7ZM1332.3 684.0L1331.3 683.6L1330.3 682.1L1330.0 680.3L1330.6 679.3L1331.6 679.7L1332.5 681.3L1332.8 683.1ZM1333.5 684.9L1332.6 685.3L1331.5 685.0L1330.6 684.0L1330.7 683.1L1331.5 682.7L1332.7 683.0L1333.5 684.0ZM1351.7 669.7L1351.2 668.9L1351.5 667.2L1352.3 665.8L1353.2 665.4L1353.7 666.3L1353.5 667.9L1352.6 669.3ZM1336.3 689.9L1335.7 690.5L1334.7 690.6L1333.7 690.0L1333.5 689.2L1334.1 688.6L1335.2 688.5L1336.1 689.1ZM1331.3 666.9L1330.9 667.2L1330.0 667.3L1329.2 667.1L1328.9 666.6L1329.3 666.3L1330.1 666.2L1331.0 666.5ZM1340.7 689.3L1341.4 688.5L1343.2 688.1L1345.0 688.4L1345.8 689.1L1345.1 689.9L1343.3 690.3L1341.4 690.1ZM1332.0 701.6L1331.7 701.0L1331.9 700.3L1332.5 699.9L1333.2 700.0L1333.5 700.6L1333.3 701.3L1332.6 701.7ZM1416.2 716.8L1415.8 716.1L1416.2 715.0L1417.0 714.2L1417.8 714.2L1418.1 714.9L1417.8 716.0L1417.0 716.8ZM1453.8 667.8L1454.1 667.2L1455.2 666.3L1456.6 665.8L1457.3 665.9L1456.9 666.5L1455.8 667.4L1454.5 667.9ZM1398.6 691.5L1397.8 691.9L1396.8 691.5L1396.1 690.7L1396.2 689.8L1397.0 689.5L1398.0 689.9L1398.6 690.7ZM1391.2 715.7L1390.5 715.3L1390.4 714.4L1390.9 713.8L1391.7 713.7L1392.4 714.2L1392.5 715.0L1392.0 715.6ZM1403.5 705.5L1402.5 705.5L1401.0 704.5L1399.8 703.1L1399.6 702.1L1400.6 702.2L1402.1 703.2L1403.3 704.6ZM1463.5 686.2L1463.0 685.5L1462.7 683.7L1462.7 681.9L1463.0 681.1L1463.5 681.8L1463.8 683.6L1463.8 685.4ZM1466.1 669.4L1465.4 669.0L1464.2 667.8L1463.3 666.3L1463.1 665.5L1463.9 665.8L1465.0 667.1L1466.0 668.6ZM1372.5 719.1L1373.1 718.3L1374.8 717.7L1376.7 717.6L1377.5 718.0L1376.9 718.8L1375.2 719.5L1373.4 719.6ZM1406.2 666.1L1406.2 665.5L1407.0 664.6L1408.0 664.0L1408.6 664.1L1408.6 664.7L1407.9 665.6L1406.9 666.2ZM1482.3 725.4L1481.4 725.6L1480.2 725.0L1479.4 723.9L1479.4 723.1L1480.2 722.9L1481.4 723.5L1482.3 724.6ZM1406.6 723.0L1406.3 722.5L1406.3 721.7L1406.8 720.9L1407.3 720.8L1407.7 721.2L1407.6 722.1L1407.2 722.8ZM1442.7 718.3L1442.4 717.8L1442.6 717.2L1443.1 716.9L1443.6 716.9L1443.9 717.4L1443.8 718.0L1443.3 718.4ZM1383.3 711.1L1382.6 710.7L1382.4 709.8L1382.9 709.0L1383.6 708.8L1384.3 709.3L1384.5 710.1L1384.1 710.9ZM1367.2 725.9L1366.9 725.3L1367.1 724.2L1367.8 723.3L1368.5 723.2L1368.9 723.8L1368.7 724.9L1368.0 725.8ZM1372.7 721.9L1371.9 721.8L1370.8 720.8L1370.1 719.6L1370.1 718.8L1371.0 718.9L1372.1 719.9L1372.8 721.1ZM1399.7 658.2L1399.0 658.1L1398.3 657.3L1398.2 656.3L1398.6 655.7L1399.3 655.8L1400.0 656.5L1400.1 657.5ZM1415.2 666.8L1414.3 666.8L1412.6 665.9L1411.3 664.7L1411.0 663.8L1411.9 663.8L1413.5 664.7L1414.9 665.9ZM1453.2 718.4L1452.3 718.4L1451.9 717.9L1452.0 717.2L1452.8 716.8L1453.6 716.9L1454.1 717.3L1453.9 718.0ZM1466.9 704.2L1466.0 704.4L1464.4 703.8L1463.0 702.8L1462.7 701.9L1463.6 701.7L1465.2 702.4L1466.5 703.4ZM1363.5 692.4L1362.8 693.1L1361.4 693.0L1360.1 692.3L1359.8 691.4L1360.6 690.7L1362.0 690.8L1363.2 691.5ZM1054.9 665.1L1054.2 665.0L1053.3 664.1L1052.7 663.1L1052.7 662.4L1053.3 662.6L1054.2 663.4L1054.9 664.4ZM1075.9 663.6L1076.2 662.6L1077.5 661.5L1079.1 660.8L1080.1 661.0L1079.8 662.0L1078.5 663.1L1076.9 663.8ZM1015.9 624.7L1016.0 624.1L1016.6 623.5L1017.5 623.3L1018.0 623.6L1018.0 624.3L1017.4 624.9L1016.5 625.0ZM1070.2 680.3L1069.7 679.9L1069.5 679.1L1069.8 678.3L1070.3 677.9L1070.9 678.3L1071.0 679.2L1070.8 680.0ZM1023.4 632.9L1023.2 632.2L1023.4 630.5L1023.9 628.8L1024.4 628.2L1024.6 629.0L1024.4 630.7L1023.9 632.3ZM1070.2 685.9L1069.9 685.2L1070.2 683.8L1070.9 682.7L1071.7 682.4L1072.1 683.2L1071.8 684.5L1071.0 685.6ZM1051.0 661.0L1050.3 660.5L1049.8 659.2L1049.8 657.7L1050.2 657.1L1050.9 657.5L1051.4 658.8L1051.5 660.3ZM1043.5 677.1L1042.7 676.6L1042.2 675.1L1042.3 673.6L1042.9 672.8L1043.7 673.4L1044.2 674.8L1044.1 676.4ZM1012.9 630.1L1012.2 630.5L1010.6 630.5L1009.1 630.0L1008.6 629.3L1009.3 628.8L1010.9 628.8L1012.4 629.3ZM1062.4 682.3L1062.8 681.5L1064.1 680.4L1065.6 679.7L1066.5 679.7L1066.1 680.5L1064.8 681.6L1063.3 682.4ZM1067.5 686.0L1066.7 685.8L1065.9 684.8L1065.6 683.5L1066.0 682.8L1066.8 683.0L1067.6 684.0L1067.9 685.2ZM1052.1 661.8L1052.8 661.3L1054.4 661.1L1055.9 661.2L1056.6 661.7L1056.0 662.2L1054.4 662.4L1052.8 662.3ZM1066.2 657.7L1065.8 658.4L1065.0 658.6L1064.2 658.1L1064.0 657.4L1064.4 656.7L1065.3 656.5L1066.0 657.0ZM1069.0 675.4L1068.3 674.6L1068.4 673.2L1069.1 671.9L1070.0 671.6L1070.7 672.4L1070.7 673.8L1070.0 675.1ZM1057.8 669.0L1057.4 669.2L1056.8 669.1L1056.4 668.7L1056.4 668.3L1056.7 668.1L1057.3 668.2L1057.8 668.6ZM955.9 631.0L955.2 631.5L953.9 631.3L952.9 630.5L952.8 629.6L953.6 629.1L954.8 629.3L955.8 630.1ZM935.9 623.3L935.5 623.2L935.1 622.7L935.0 622.1L935.2 621.8L935.6 621.8L936.0 622.3L936.1 622.9ZM929.4 634.0L928.9 633.5L928.8 632.6L929.3 631.9L930.1 631.7L930.6 632.2L930.6 633.1L930.1 633.9ZM932.8 623.9L933.2 623.4L934.3 623.0L935.5 622.9L936.1 623.2L935.7 623.8L934.6 624.2L933.4 624.2ZM935.5 640.2L935.5 639.5L936.0 638.9L936.7 638.9L937.3 639.4L937.3 640.1L936.7 640.7L936.0 640.7ZM961.8 632.5L961.7 632.0L961.9 631.1L962.5 630.4L963.0 630.2L963.1 630.7L962.9 631.6L962.3 632.3ZM949.8 633.5L950.3 632.8L951.6 632.3L953.0 632.3L953.7 632.7L953.2 633.4L951.9 633.9L950.5 633.9ZM959.8 638.9L959.5 638.2L959.5 636.5L959.8 634.8L960.3 634.1L960.6 634.9L960.6 636.6L960.3 638.3Z" fill="#d1d8e1"/>
<path d="M909.5 759.0L989.4 759.0L989.4 757.2L990.6 757.7L995.7 760.7L1001.4 762.4L1005.6 763.3L1009.1 762.0L1019.0 768.3L1019.9 769.5L1021.0 769.5L1022.7 771.6L1025.8 774.5L1025.8 783.6L1023.8 786.3L1025.0 788.6L1035.5 785.5L1035.5 782.4L1042.9 778.9L1047.7 775.7L1056.8 775.7L1059.7 772.4L1063.4 765.8L1066.8 766.2L1067.4 772.0L1069.6 775.7M859.2 639.0L859.2 703.0L864.8 703.0L869.1 708.6L874.8 705.8L879.1 710.8L881.9 721.0L887.6 728.7L890.4 731.2M927.1 821.5L934.0 820.8L944.5 825.5L952.5 825.5L952.5 823.8L957.3 823.8L963.0 831.1L966.7 833.0L969.0 830.4L971.8 830.4L977.2 837.9L983.7 843.0M998.0 877.6L998.0 876.1L1000.0 872.9L1002.8 872.9L1002.8 867.8L1006.8 867.8L1006.5 873.5L1009.3 874.1M1006.5 878.2L1008.5 881.4M1010.8 882.0L1015.6 879.1L1018.4 876.1L1023.3 876.1M1016.5 887.5L1022.1 887.8M1024.1 895.9L1025.3 892.2M1038.9 894.2L1040.6 896.8M1292.6 710.3L1295.8 701.8L1294.9 695.9L1294.6 686.8L1300.0 677.1L1304.3 666.9L1308.6 652.4L1314.3 648.5L1318.7 644.1M1318.7 644.1L1325.6 650.1L1327.6 658.3L1328.8 668.3M1318.7 644.1L1321.4 642.2L1325.6 647.0L1331.3 647.7L1335.6 637.3L1341.0 638.1L1342.7 644.6M1342.7 644.6L1341.3 648.5L1345.5 654.6L1343.0 660.5L1345.8 669.0L1344.7 675.1L1347.0 679.1L1345.5 683.6L1349.8 687.4L1344.1 695.9L1339.3 701.5M1342.7 644.6L1347.8 639.0M1339.9 708.1L1338.4 713.0L1339.0 716.8L1340.4 725.2L1347.8 728.2L1350.7 737.1L1350.4 745.1L1356.9 744.2L1361.2 752.8L1368.9 754.6L1374.0 756.4L1373.1 763.3L1368.9 767.1M1329.3 716.5L1332.8 716.3L1338.2 718.4M1320.1 725.8L1325.6 724.6L1331.3 725.2L1335.9 727.7L1340.4 725.2M1335.9 727.7L1336.4 730.2L1332.8 734.6L1327.1 736.6L1328.2 740.9L1327.1 745.1L1328.8 751.0L1325.6 756.8L1324.5 758.5L1317.1 758.1L1313.7 756.8L1310.0 753.3L1307.2 751.9L1302.9 750.1L1302.0 745.1L1300.9 737.5M1320.5 730.2L1325.1 731.7L1325.1 734.1L1316.0 734.1M1325.1 734.1L1327.1 736.6M1350.4 745.1L1347.0 748.3L1339.9 747.4L1332.8 746.0L1327.3 747.4M1324.5 758.5L1323.4 761.6L1325.4 763.7L1329.9 763.5L1335.9 762.0L1340.4 762.4L1343.3 765.4L1345.5 769.5L1344.7 774.0M1335.9 762.0L1340.4 769.5L1340.4 773.6M1323.4 761.6L1317.1 762.4L1313.7 764.1L1309.1 763.3M1313.7 756.8L1310.0 759.8L1308.3 760.7L1302.9 759.0L1299.5 759.8L1295.2 754.1L1302.0 750.6L1302.9 750.1M1309.1 763.3L1306.9 767.9L1302.9 769.1L1299.2 769.5L1294.9 767.5L1290.1 767.9L1287.5 765.4L1290.1 765.4L1294.9 764.5L1297.2 765.4L1297.2 762.0L1299.5 759.8M1287.5 765.4L1281.8 765.0L1279.8 765.8L1277.3 770.4L1280.1 772.0L1284.1 770.0L1285.8 772.2L1288.9 770.0L1290.1 767.9M1280.1 772.0L1279.0 775.3L1281.6 780.4M1281.8 765.0L1283.5 759.0L1278.4 756.8L1273.9 754.1L1267.3 749.7M1278.4 756.8L1277.6 751.5L1277.3 746.0L1280.1 744.6L1280.7 739.9M1277.3 751.0L1273.9 748.3L1269.9 748.3M1285.0 731.7L1288.4 732.2M1325.4 763.7L1321.9 768.7L1318.0 771.2L1314.0 772.0L1309.4 772.0L1307.4 769.5L1306.9 767.9M1307.4 769.5L1304.9 770.8L1304.0 773.6L1298.9 773.6M1299.2 769.5L1298.9 773.6M1314.0 772.0L1314.3 775.7L1308.6 774.9L1305.2 774.9L1306.3 778.9L1310.3 783.2L1312.8 785.5M1314.3 775.7L1315.4 779.7L1314.8 781.6L1312.8 785.5M1314.8 781.6L1318.0 784.3L1316.3 785.1L1315.1 787.8M1317.4 785.5L1318.5 789.7L1320.0 792.0L1317.7 796.4M1318.0 771.2L1321.1 774.9L1324.2 777.3L1323.9 781.2L1325.6 785.9L1325.4 790.1L1329.9 789.7L1334.5 788.6L1339.9 787.4M1324.8 778.9L1331.3 780.8L1337.0 779.3L1341.6 780.4M1320.0 792.0L1325.4 790.1M1334.5 788.6L1334.2 792.0M1318.5 786.7L1323.9 786.3M1234.9 787.8L1241.4 787.8L1240.6 791.2L1240.3 796.1L1239.5 800.5L1238.9 805.2M1255.1 782.0L1262.2 784.3L1269.3 785.9M1395.3 772.0L1392.5 761.6L1395.3 752.8L1402.4 747.8L1411.0 749.2L1418.1 751.9L1426.6 750.1L1435.1 751.0L1433.7 740.9L1445.1 733.2L1456.5 729.2L1467.9 736.1L1477.8 736.1L1482.1 743.2L1487.8 750.1L1496.3 750.1L1507.7 758.1L1516.2 752.4M1410.4 789.3L1419.5 790.1L1419.5 775.7L1426.6 773.6L1433.7 778.1L1436.6 781.6L1445.1 781.6L1447.9 784.0L1453.6 790.5L1456.5 789.3L1461.9 786.7L1470.7 782.8L1476.4 783.6L1488.3 784.3L1489.2 779.7L1487.8 775.7L1494.9 774.0L1496.3 766.6L1503.4 767.5L1504.8 761.1L1507.7 758.1M1419.5 790.1L1423.8 790.1L1430.9 786.7L1435.1 791.2L1442.3 797.9L1449.4 804.4M1413.5 804.4L1418.1 802.3L1422.3 801.6L1428.0 804.8L1433.7 807.3L1438.0 811.9L1443.7 809.4L1449.4 804.4L1453.6 805.5L1459.3 804.1L1463.6 805.9L1472.1 805.9M1433.7 807.3L1432.3 815.3L1433.7 825.1L1435.7 825.5L1433.4 830.4L1436.6 834.7L1439.4 838.9L1438.0 841.1L1435.4 845.2M1433.4 830.4L1442.3 831.7L1449.4 830.1L1452.2 826.5L1457.3 823.5L1460.7 818.1L1463.0 813.6L1463.6 809.4L1472.1 805.9M1454.2 849.9L1459.3 847.4L1462.2 846.8L1459.3 841.1L1465.0 836.3L1469.3 830.4L1472.4 826.5L1474.4 822.1L1470.7 816.4L1481.5 811.2M1481.5 811.2L1484.9 821.5L1488.3 827.5L1492.0 828.8L1499.1 834.3L1504.8 836.3L1511.1 836.6L1510.5 841.4L1497.7 838.2L1488.3 833.0L1488.3 827.5M1510.8 847.4L1513.4 855.1M1511.1 836.6L1512.5 841.7L1516.2 841.1M1461.9 786.7L1463.6 791.2L1467.9 793.9L1473.5 793.1L1469.6 796.8L1472.1 805.9M1452.2 796.8L1455.1 800.5L1459.3 795.7L1463.6 796.8M1398.2 829.8L1395.9 826.5L1395.3 821.5L1391.1 818.1L1389.6 814.6L1390.8 810.1L1387.6 805.2L1385.9 801.6L1386.8 796.8L1387.6 796.1L1392.5 799.0L1396.7 798.7L1397.6 800.8L1399.3 800.8M1362.3 809.8L1364.6 806.6L1368.3 806.6L1374.0 805.9L1380.5 805.5L1387.6 805.2M1380.5 805.5L1377.7 808.4L1376.8 815.0L1370.6 818.4L1371.7 822.5L1375.1 823.5L1379.7 826.1L1387.4 832.4L1392.5 832.7L1395.9 834.7M1371.7 822.5L1365.5 824.8L1368.3 828.1L1362.6 832.4L1359.7 831.9M1370.6 818.4L1362.0 820.8M1362.3 814.3L1364.3 815.7L1362.0 818.8M1357.8 825.5L1359.5 831.4M1361.2 819.4L1361.5 826.5L1359.8 831.4M1381.7 872.0L1385.9 869.0L1391.9 869.6L1395.3 868.7L1399.9 865.4L1408.1 864.2L1418.4 855.1L1417.2 853.0L1409.5 853.6L1407.0 848.0M1408.1 864.2L1408.7 871.4M1418.4 855.1L1420.4 847.4L1419.8 842.7M1374.0 782.0L1379.7 782.8L1385.4 784.7L1391.1 787.8L1396.7 789.0L1398.5 788.2M1378.5 789.3L1383.7 790.9L1387.9 790.5L1392.5 790.5L1391.1 787.8M1383.7 790.9L1384.2 794.6L1387.6 796.1M1387.9 790.5L1389.6 795.0L1392.5 799.0M1254.8 812.6L1255.4 816.4L1256.8 822.8L1249.4 824.8L1246.0 828.1L1235.5 834.0L1235.5 837.2L1222.7 837.2M1235.5 837.2L1235.5 842.7L1226.1 842.7L1226.1 850.5L1223.0 852.7L1223.2 857.3L1211.9 857.3M1235.5 838.5L1246.6 845.8L1263.6 858.2L1272.2 863.6L1276.7 863.0L1287.2 856.4L1294.4 850.5L1292.9 847.4L1288.7 844.9L1287.2 839.5L1288.1 831.4L1287.2 829.1L1283.0 821.5L1284.1 813.6L1283.8 806.2M1287.2 829.1L1289.5 824.8L1292.9 819.1M1246.6 845.8L1241.7 846.1L1244.6 871.7L1244.9 874.7L1227.5 874.7L1225.5 876.7L1213.3 872.9M1225.5 876.7L1227.8 883.8L1221.2 882.9L1212.7 883.8M1272.2 863.6L1269.6 875.0L1261.6 876.4L1260.8 876.1L1254.5 878.5L1247.7 882.9L1244.9 889.6L1237.5 889.8L1234.6 884.0L1227.8 883.8M1270.5 885.8L1273.0 880.2L1280.1 882.0L1287.2 882.3L1294.4 881.1L1299.2 880.5L1304.3 871.7L1304.6 861.2L1305.4 852.0L1300.6 853.3L1298.6 851.7L1294.4 850.5M1331.3 824.5L1331.3 855.1L1365.2 855.1M1331.3 855.1L1328.5 861.2L1328.5 862.7L1305.4 852.0M1328.5 862.7L1328.2 874.1L1324.2 878.5L1324.2 882.9L1325.4 887.8L1317.1 893.6L1312.8 893.9L1305.7 897.6L1304.3 897.9M1299.2 880.5L1301.7 884.9L1302.9 890.7L1304.3 897.9L1301.2 905.1L1305.7 913.0M1267.9 901.1L1270.5 893.6L1270.5 885.8M1284.7 906.2L1287.2 900.8L1292.9 899.9L1295.8 895.0L1298.0 890.7L1301.5 884.9M1264.8 901.6L1264.8 893.6L1262.8 887.8M1263.6 901.9L1261.6 897.9L1260.2 887.8M1251.4 904.8L1252.3 896.5L1252.5 892.2L1252.3 888.1L1260.2 887.8L1262.8 887.8L1267.0 886.4L1270.5 885.8M1267.0 885.2L1265.6 882.9L1260.8 879.7L1260.8 876.1M1238.9 906.8L1236.6 900.8L1237.5 896.5L1237.5 889.8M1227.5 899.6L1230.4 895.3L1233.2 897.9L1236.6 897.9M1222.4 893.6L1226.1 891.0L1230.4 892.7L1230.4 895.3M1288.1 912.8L1292.4 913.0L1298.0 913.0L1305.7 913.0M1292.4 913.0L1292.4 916.5L1288.1 916.5M1298.0 913.0L1301.5 920.7L1300.0 926.1L1292.9 926.4L1291.8 930.4M1305.7 909.3L1313.1 907.3L1320.0 906.5L1328.5 905.1L1338.2 904.8M1325.4 887.8L1328.5 893.6L1338.2 904.8M1313.1 907.3L1310.6 920.7L1306.3 925.6L1304.3 931.5L1294.9 935.8M1294.9 935.8L1305.7 936.4L1310.3 942.1L1315.7 939.3L1322.2 940.1L1322.8 946.4L1328.5 950.8L1328.5 956.6L1322.8 956.6L1322.8 966.0L1326.8 970.2M1293.8 969.3L1300.0 969.6L1312.8 969.6L1320.0 971.4L1326.8 970.2L1332.2 970.8M1328.5 950.8L1332.8 951.4L1341.3 953.7L1345.0 957.8M1341.3 945.0L1347.0 943.0M1344.4 923.3L1345.3 919.3L1347.0 913.6L1348.4 908.8M1338.2 904.8L1345.5 909.1L1348.4 908.8M1327.1 894.5L1335.6 892.2L1339.9 892.4L1345.5 890.7L1354.1 890.7L1356.9 892.2L1359.8 887.8L1364.0 878.2L1365.5 870.2L1370.0 867.2M1356.9 892.2L1355.5 895.0L1359.8 904.5M1348.4 908.8L1356.9 907.3L1359.8 904.5L1362.3 906.2L1368.3 909.1L1372.6 909.3L1376.8 907.9L1382.5 905.1L1388.2 905.1L1396.7 896.5L1393.9 896.5L1385.4 893.6L1382.5 890.7M1364.0 878.2L1369.7 877.6L1374.0 877.6L1378.3 881.1L1382.8 882.9M1376.8 907.9L1376.8 924.1L1378.3 923.9M1356.9 907.3L1359.8 915.0L1356.9 919.3M1356.9 922.1L1366.9 929.3L1371.7 932.7M1347.0 922.1L1356.9 922.1M1375.1 949.3L1366.9 952.2L1359.8 952.2M1354.1 946.4L1348.4 943.9M1344.4 923.3L1347.0 926.1L1347.8 929.0L1343.3 928.7M1055.4 885.5L1054.6 887.8L1054.0 892.2L1055.4 897.9L1061.1 899.3L1068.2 901.6L1067.4 906.5L1068.8 913.6L1069.9 915.9M1069.9 915.9L1062.5 916.5L1061.7 920.7L1061.4 931.3L1055.4 926.4L1049.7 922.1L1046.0 919.6L1041.2 917.9L1036.1 915.3M1040.6 894.7L1038.6 898.8M1046.0 919.6L1045.5 923.6L1041.2 926.4L1036.9 932.1L1032.7 931.3L1031.8 929.0M1089.6 895.0L1088.1 899.3L1086.7 903.6L1087.6 904.5L1081.0 907.9L1076.8 907.9L1078.2 913.6L1072.5 916.5L1069.9 915.9M1087.6 904.5L1090.1 907.9L1091.0 913.6L1098.1 913.9L1097.5 902.2M1106.6 903.1L1106.6 912.8M1098.1 913.9L1106.6 912.8L1110.9 912.5L1113.4 907.3M1061.4 931.3L1052.9 933.5L1051.2 940.7L1054.9 947.9L1059.7 950.8L1062.5 950.8L1064.8 955.1L1064.0 962.5L1062.5 969.9L1060.0 972.3M1062.5 950.8L1074.5 947.3L1076.8 955.1L1086.7 958.1L1089.0 965.4L1094.7 966.3L1095.2 975.9L1095.2 983.5M1062.5 969.9L1065.4 974.4L1066.2 981.9M1006.5 873.5L1006.5 877.9L1003.9 880.0" fill="none" stroke="#a9aeb4" stroke-width="1.1" stroke-linejoin="round"/>
<circle cx="933.1" cy="748.2" r="1.35" fill="#d39b17"/><circle cx="905.8" cy="758.3" r="1.35" fill="#d39b17"/><circle cx="985.7" cy="761" r="1.35" fill="#d39b17"/><circle cx="994.8" cy="783.1" r="1.35" fill="#d39b17"/><circle cx="922" cy="791.1" r="1.35" fill="#d39b17"/><circle cx="954.8" cy="794.1" r="1.35" fill="#d39b17"/><circle cx="963" cy="798.1" r="1.35" fill="#d39b17"/><circle cx="1021.7" cy="809" r="1.35" fill="#d39b17"/><circle cx="1040" cy="800.2" r="1.35" fill="#d39b17"/><circle cx="1053.1" cy="772.2" r="1.35" fill="#d39b17"/><circle cx="927.9" cy="819.3" r="1.35" fill="#d39b17"/><circle cx="948.9" cy="820.2" r="1.35" fill="#d39b17"/><circle cx="1021.9" cy="826.3" r="1.35" fill="#d39b17"/><circle cx="1029.9" cy="839.9" r="1.35" fill="#d39b17"/><circle cx="969.1" cy="851.9" r="1.35" fill="#d39b17"/><circle cx="967" cy="859.3" r="1.35" fill="#d39b17"/><circle cx="978.8" cy="861.2" r="1.35" fill="#d39b17"/><circle cx="1031.8" cy="862.2" r="1.35" fill="#d39b17"/><circle cx="1074.1" cy="867.3" r="1.35" fill="#d39b17"/><circle cx="1014.1" cy="879.3" r="1.35" fill="#d39b17"/><circle cx="1022.1" cy="891.1" r="1.35" fill="#d39b17"/><circle cx="1068.9" cy="890.2" r="1.35" fill="#d39b17"/><circle cx="1049.9" cy="900.1" r="1.35" fill="#d39b17"/><circle cx="1048.9" cy="907.3" r="1.35" fill="#d39b17"/><circle cx="1089.9" cy="928.1" r="1.35" fill="#d39b17"/><circle cx="1150.9" cy="930.2" r="1.35" fill="#d39b17"/><circle cx="1035.8" cy="942" r="1.35" fill="#d39b17"/><circle cx="1289.8" cy="706.1" r="1.35" fill="#d39b17"/><circle cx="1309.8" cy="711.1" r="1.35" fill="#d39b17"/><circle cx="1334.9" cy="708" r="1.35" fill="#d39b17"/><circle cx="1367.7" cy="727.1" r="1.35" fill="#d39b17"/><circle cx="1386" cy="724.2" r="1.35" fill="#d39b17"/><circle cx="1434" cy="730.1" r="1.35" fill="#d39b17"/><circle cx="1405" cy="737.9" r="1.35" fill="#d39b17"/><circle cx="1330.9" cy="730.9" r="1.35" fill="#d39b17"/><circle cx="1305.8" cy="742.3" r="1.35" fill="#d39b17"/><circle cx="1471.9" cy="745.9" r="1.35" fill="#d39b17"/><circle cx="1254.9" cy="761" r="1.35" fill="#d39b17"/><circle cx="1339.9" cy="764.2" r="1.35" fill="#d39b17"/><circle cx="1365.6" cy="764.2" r="1.35" fill="#d39b17"/><circle cx="1454" cy="763.1" r="1.35" fill="#d39b17"/><circle cx="1377.8" cy="780.2" r="1.35" fill="#d39b17"/><circle cx="1298.7" cy="783.1" r="1.35" fill="#d39b17"/><circle cx="1252" cy="790.1" r="1.35" fill="#d39b17"/><circle cx="1341" cy="786.3" r="1.35" fill="#d39b17"/><circle cx="1389" cy="795.1" r="1.35" fill="#d39b17"/><circle cx="1251.3" cy="805.4" r="1.35" fill="#d39b17"/><circle cx="1269.8" cy="805.8" r="1.35" fill="#d39b17"/><circle cx="1303.9" cy="805.2" r="1.35" fill="#d39b17"/><circle cx="1337.8" cy="808.2" r="1.35" fill="#d39b17"/><circle cx="1361.8" cy="804.2" r="1.35" fill="#d39b17"/><circle cx="1406" cy="810.1" r="1.35" fill="#d39b17"/><circle cx="1293" cy="818.9" r="1.35" fill="#d39b17"/><circle cx="1244" cy="821" r="1.35" fill="#d39b17"/><circle cx="1349.8" cy="829" r="1.35" fill="#d39b17"/><circle cx="1467" cy="823.1" r="1.35" fill="#d39b17"/><circle cx="1216.8" cy="836.1" r="1.35" fill="#d39b17"/><circle cx="1475.9" cy="861" r="1.35" fill="#d39b17"/><circle cx="1346" cy="876.1" r="1.35" fill="#d39b17"/><circle cx="1221" cy="879.3" r="1.35" fill="#d39b17"/><circle cx="1247.1" cy="896.1" r="1.35" fill="#d39b17"/><circle cx="1264" cy="896.1" r="1.35" fill="#d39b17"/><circle cx="1250.3" cy="904.1" r="1.35" fill="#d39b17"/><circle cx="1369.2" cy="916.1" r="1.35" fill="#d39b17"/><circle cx="1198.9" cy="679" r="1.35" fill="#d39b17"/><circle cx="1315" cy="639.2" r="1.35" fill="#d39b17"/><circle cx="1299" cy="668.2" r="1.35" fill="#d39b17"/><circle cx="1466.8" cy="670.2" r="1.35" fill="#d39b17"/><circle cx="877" cy="700" r="1.35" fill="#d39b17"/><circle cx="914.8" cy="766.3" r="2.2" fill="#fbd77a" stroke="#c8911a" stroke-width="1"/><circle cx="921.8" cy="810.1" r="2.2" fill="#fbd77a" stroke="#c8911a" stroke-width="1"/><circle cx="1026.8" cy="786.1" r="2.2" fill="#fbd77a" stroke="#c8911a" stroke-width="1"/><circle cx="1052" cy="789" r="2.2" fill="#fbd77a" stroke="#c8911a" stroke-width="1"/><circle cx="989.9" cy="828.2" r="2.2" fill="#fbd77a" stroke="#c8911a" stroke-width="1"/><circle cx="1257.9" cy="746.3" r="2.2" fill="#fbd77a" stroke="#c8911a" stroke-width="1"/><circle cx="1281.8" cy="747.3" r="2.2" fill="#fbd77a" stroke="#c8911a" stroke-width="1"/><circle cx="1277.8" cy="761" r="2.2" fill="#fbd77a" stroke="#c8911a" stroke-width="1"/><circle cx="1306" cy="763.1" r="2.2" fill="#fbd77a" stroke="#c8911a" stroke-width="1"/><circle cx="1266.9" cy="789" r="9.9" fill="#a53d5e" stroke="#3d0a18" stroke-width="1.2"/><circle cx="982.8" cy="803.1" r="6.4" fill="#fdab66" stroke="#c0621c" stroke-width="1.2"/>
</svg>
<div class="zc" style="left:859.8px;top:603.2px;height:52px"><div class="zs" style="top:26px"></div></div>
<div class="zc" style="left:859.8px;top:666.3px;height:24px"></div>
<div class="zc" style="left:859.8px;top:702px;height:51.5px"><div class="zs" style="top:26px"></div></div>
<svg class="ic" style="left:859.8px;top:603px" width="26" height="152" viewBox="859.8 603 26 152"><path d="M868.3 617.7h9.2M872.9 613.1v9.2M869.1999999999999 643.3h7.4" stroke="#111" stroke-width="1.7"/><path d="M869.6999999999999 674v8.2h8.2M867.9 675.8h8.2v8.2M877.4 673.2l-2 2" fill="none" stroke="#111" stroke-width="1.5"/><path d="M872.9 708.9l5.3 3.9-2 6.3h-6.6l-2-6.3z" fill="#222"/><rect x="868.1999999999999" y="735.7" width="9.4" height="9.4" fill="#222"/></svg>
<div style="position:absolute;left:1359.7px;top:807.3px;width:107.3px;height:113.6px;background:rgba(255,255,255,0.28);border-radius:4px;box-shadow:0 1px 3px rgba(0,0,0,0.16)"></div>
<div class="t" style="left:1368.7px;top:815.57px;font-size:11.5px;line-height:11.5px;color:#3f4552;font-weight:bold;letter-spacing:0.2px;">Count</div>
<div style="position:absolute;left:1368.2px;top:833.1999999999999px;width:9.2px;height:9.2px;border-radius:50%;background:#fed976;box-shadow:0 0 0 0.9px rgba(0,0,0,0.3)"></div>
<div class="t" style="left:1382.2px;top:833.29px;font-size:11px;line-height:11px;color:#4d5360;letter-spacing:-0.1px;">1 – 253.6</div>
<div style="position:absolute;left:1368.2px;top:850.17px;width:9.2px;height:9.2px;border-radius:50%;background:#fd9a44;box-shadow:0 0 0 0.9px rgba(0,0,0,0.3)"></div>
<div class="t" style="left:1382.2px;top:850.26px;font-size:11px;line-height:11px;color:#4d5360;letter-spacing:-0.1px;">253.6 – 506.2</div>
<div style="position:absolute;left:1368.2px;top:867.14px;width:9.2px;height:9.2px;border-radius:50%;background:#f03b20;box-shadow:0 0 0 0.9px rgba(0,0,0,0.3)"></div>
<div class="t" style="left:1382.2px;top:867.23px;font-size:11px;line-height:11px;color:#4d5360;letter-spacing:-0.1px;">506.2 – 758.8</div>
<div style="position:absolute;left:1368.2px;top:884.1099999999999px;width:9.2px;height:9.2px;border-radius:50%;background:#d4151f;box-shadow:0 0 0 0.9px rgba(0,0,0,0.3)"></div>
<div class="t" style="left:1382.2px;top:884.20px;font-size:11px;line-height:11px;color:#4d5360;letter-spacing:-0.1px;">758.8 – 1,011.4</div>
<div style="position:absolute;left:1368.2px;top:901.0799999999999px;width:9.2px;height:9.2px;border-radius:50%;background:#800026;box-shadow:0 0 0 0.9px rgba(0,0,0,0.3)"></div>
<div class="t" style="left:1382.2px;top:901.17px;font-size:11px;line-height:11px;color:#4d5360;letter-spacing:-0.1px;">1,011.4 – 1,264</div>
<div style="position:absolute;left:1207.1px;top:932px;width:269.9000000000001px;height:15px;background:rgba(255,255,255,0.75)"></div>
<div class="t" style="left:1172.0px;top:933.89px;font-size:11px;line-height:11px;color:#333;letter-spacing:0.05px;width:300px;text-align:right;">© OpenStreetMap contributors, Elastic Maps Service</div>
<svg class="ic" style="left:188px;top:964px" width="645" height="497" viewBox="188 964 645 497">
<circle cx="229.9" cy="1029.7" r="5" fill="#7eb26d"/>
<text x="238.2" y="1033.8" font-size="12" fill="#a2a2a2" letter-spacing="0.3">allow</text>
<circle cx="280.4" cy="1029.7" r="5" fill="#e24d42"/>
<text x="289.6" y="1033.8" font-size="12" fill="#a2a2a2" letter-spacing="0.3">deny</text>
<circle cx="329.6" cy="1029.7" r="5" fill="#65c5db"/>
<text x="338.4" y="1033.8" font-size="12" fill="#a2a2a2" letter-spacing="0.3">ipv4</text>
<circle cx="374.1" cy="1029.7" r="5" fill="#d683ce"/>
<text x="383.2" y="1033.8" font-size="12" fill="#a2a2a2" letter-spacing="0.3">ipv6</text>
<circle cx="418.9" cy="1029.7" r="5" fill="#447ebc"/>
<text x="427.7" y="1033.8" font-size="12" fill="#a2a2a2" letter-spacing="0.3">tcp</text>
<circle cx="457.3" cy="1029.7" r="5" fill="#f29191"/>
<text x="466" y="1033.8" font-size="12" fill="#a2a2a2" letter-spacing="0.3">icmp</text>
<circle cx="506.1" cy="1029.7" r="5" fill="#f2c96d"/>
<text x="514.8" y="1033.8" font-size="12" fill="#a2a2a2" letter-spacing="0.3">udp</text>
<circle cx="549.6" cy="1029.7" r="5" fill="#ea6460"/>
<text x="558.4" y="1033.8" font-size="12" fill="#a2a2a2" letter-spacing="0.3">ipv6-icmp</text>
<circle cx="231.7" cy="1054.5" r="6.8" fill="#c4c4c4"/><path d="M228.2 1056.5 L231.7 1052.8 L235.2 1056.5" fill="none" stroke="#fff" stroke-width="2"/>
<path d="M510.60 1178.80 A82.2 82.2 0 1 1 478.09 1185.50 L487.07 1206.35 A59.5 59.5 0 1 0 510.60 1201.50Z" fill="#7eb26d" stroke="#fff" stroke-width="1.5"/>
<path d="M478.09 1185.50 A82.2 82.2 0 0 1 510.60 1178.80 L510.60 1201.50 A59.5 59.5 0 0 0 487.07 1206.35Z" fill="#e24d42" stroke="#fff" stroke-width="1.5"/>
<path d="M510.60 1160.20 A100.8 100.8 0 1 1 410.07 1268.38 L428.62 1267.02 A82.2 82.2 0 1 0 510.60 1178.80Z" fill="#65c5db" stroke="#fff" stroke-width="1.5"/>
<path d="M410.07 1268.38 A100.8 100.8 0 0 1 470.73 1168.42 L478.09 1185.50 A82.2 82.2 0 0 0 428.62 1267.02Z" fill="#d683ce" stroke="#fff" stroke-width="1.5"/>
<path d="M470.73 1168.42 A100.8 100.8 0 0 1 510.60 1160.20 L510.60 1178.80 A82.2 82.2 0 0 0 478.09 1185.50Z" fill="#65c5db" stroke="#fff" stroke-width="1.5"/>
<path d="M510.60 1144.70 A116.3 116.3 0 0 1 611.72 1318.45 L598.25 1310.79 A100.8 100.8 0 0 0 510.60 1160.20Z" fill="#447ebc" stroke="#fff" stroke-width="1.5"/>
<path d="M611.72 1318.45 A116.3 116.3 0 0 1 446.58 1358.09 L455.11 1345.15 A100.8 100.8 0 0 0 598.25 1310.79Z" fill="#f29191" stroke="#fff" stroke-width="1.5"/>
<path d="M446.58 1358.09 A116.3 116.3 0 0 1 394.58 1269.11 L410.05 1268.03 A100.8 100.8 0 0 0 455.11 1345.15Z" fill="#f2c96d" stroke="#fff" stroke-width="1.5"/>
<path d="M394.58 1269.11 A116.3 116.3 0 0 1 406.98 1208.20 L420.79 1215.24 A100.8 100.8 0 0 0 410.05 1268.03Z" fill="#447ebc" stroke="#fff" stroke-width="1.5"/>
<path d="M406.98 1208.20 A116.3 116.3 0 0 1 439.96 1168.61 L449.38 1180.92 A100.8 100.8 0 0 0 420.79 1215.24Z" fill="#ea6460" stroke="#fff" stroke-width="1.5"/>
<path d="M439.96 1168.61 A116.3 116.3 0 0 1 465.91 1153.63 L471.86 1167.94 A100.8 100.8 0 0 0 449.38 1180.92Z" fill="#f2c96d" stroke="#fff" stroke-width="1.5"/>
<path d="M465.91 1153.63 A116.3 116.3 0 0 1 486.02 1147.33 L489.30 1162.48 A100.8 100.8 0 0 0 471.86 1167.94Z" fill="#447ebc" stroke="#fff" stroke-width="1.5"/>
<path d="M486.02 1147.33 A116.3 116.3 0 0 1 501.27 1145.07 L502.52 1160.52 A100.8 100.8 0 0 0 489.30 1162.48Z" fill="#f29191" stroke="#fff" stroke-width="1.5"/>
<path d="M501.27 1145.07 A116.3 116.3 0 0 1 510.60 1144.70 L510.60 1160.20 A100.8 100.8 0 0 0 502.52 1160.52Z" fill="#f2c96d" stroke="#fff" stroke-width="1.5"/>
<path d="M353.6 1144.9 L444.3 1144.9 L455.8 1165.7" fill="none" stroke="#a3a3a3" stroke-width="1.2"/>
<path d="M371 1190.5 L396.8 1190.5 L431.9 1212.4" fill="none" stroke="#a3a3a3" stroke-width="1.2"/>
<path d="M353.6 1234.5 L379.7 1234.5 L403.7 1239.2" fill="none" stroke="#a3a3a3" stroke-width="1.2"/>
<path d="M353.6 1328 L395.1 1328 L416.5 1316" fill="none" stroke="#a3a3a3" stroke-width="1.2"/>
<path d="M667.3 1193.9 L626.6 1193.9 L605.2 1205.9" fill="none" stroke="#a3a3a3" stroke-width="1.2"/>
<path d="M650.3 1352 L607.8 1352 L577.9 1323.8" fill="none" stroke="#a3a3a3" stroke-width="1.2"/>
<path d="M633.7 1391.3 L535.7 1391.3 L524.1 1330.6" fill="none" stroke="#a3a3a3" stroke-width="1.2"/>
<text x="322.2" y="1149.4" font-size="12.5" fill="#6a6a6a" letter-spacing="0.2">udp</text>
<text x="337.5" y="1195.1" font-size="12.5" fill="#6a6a6a" letter-spacing="0.2">ipv6</text>
<text x="326.6" y="1238.7" font-size="12.5" fill="#6a6a6a" letter-spacing="0.2">tcp</text>
<text x="322.2" y="1332.3" font-size="12.5" fill="#6a6a6a" letter-spacing="0.2">udp</text>
<text x="677.3" y="1198.6" font-size="12.5" fill="#6a6a6a" letter-spacing="0.2">tcp</text>
<text x="660.7" y="1355.8" font-size="12.5" fill="#6a6a6a" letter-spacing="0.2">ipv4</text>
<text x="643.7" y="1395.7" font-size="12.5" fill="#6a6a6a" letter-spacing="0.2">allow</text>
</svg>
<div class="t" style="left:702.4px;top:1024.65px;font-size:14px;line-height:14px;color:#343741;letter-spacing:0.35px;width:600px;text-align:center;">allow: event.outcome</div>
<div class="t" style="left:1007.9px;top:1024.65px;font-size:14px;line-height:14px;color:#343741;letter-spacing:0.35px;width:600px;text-align:center;">deny: event.outcome</div>
<div style="position:absolute;left:850px;top:1049px;width:611px;height:1px;background:#d3dae6"></div>
<div class="t" style="left:871.5px;top:1075.15px;font-size:14px;line-height:14px;color:#1a1c21;font-weight:bold;letter-spacing:0.42px;">Destination port</div>
<svg class="ic" style="left:990.0px;top:1075.5px" width="8" height="12" viewBox="0 0 8 12"><path d="M0 5.1 L4 0.6 L8 5.1Z M0 6.9 L4 11.4 L8 6.9Z" fill="#a7afbb"/></svg>
<div class="t" style="left:1057.2px;top:1075.15px;font-size:14px;line-height:14px;color:#1a1c21;font-weight:bold;letter-spacing:-0.1px;">Count</div>
<svg class="ic" style="left:1102.7px;top:1075.5px" width="8" height="12" viewBox="0 0 8 12"><path d="M0 5.1 L4 0.6 L8 5.1Z M0 6.9 L4 11.4 L8 6.9Z" fill="#a7afbb"/></svg>
<div style="position:absolute;left:866px;top:1096px;width:273px;height:1px;background:#d3dae6"></div>
<div style="position:absolute;left:866px;top:1127px;width:273px;height:1px;background:#d3dae6"></div>
<div style="position:absolute;left:866px;top:1158px;width:273px;height:1px;background:#d3dae6"></div>
<div style="position:absolute;left:866px;top:1189px;width:273px;height:1px;background:#d3dae6"></div>
<div style="position:absolute;left:866px;top:1220px;width:273px;height:1px;background:#d3dae6"></div>
<div style="position:absolute;left:866px;top:1251px;width:273px;height:1px;background:#d3dae6"></div>
<div style="position:absolute;left:866px;top:1282px;width:273px;height:1px;background:#d3dae6"></div>
<div style="position:absolute;left:866px;top:1313px;width:273px;height:1px;background:#d3dae6"></div>
<div style="position:absolute;left:866px;top:1344px;width:273px;height:1px;background:#d3dae6"></div>
<div style="position:absolute;left:866px;top:1375px;width:273px;height:1px;background:#d3dae6"></div>
<div class="t" style="left:871.5px;top:1105.95px;font-size:14px;line-height:14px;color:#343741;letter-spacing:0.1px;">6,007</div>
<div class="t" style="left:1057.2px;top:1105.95px;font-size:14px;line-height:14px;color:#343741;">4</div>
<div class="t" style="left:871.5px;top:1136.95px;font-size:14px;line-height:14px;color:#343741;letter-spacing:0.1px;">7,540</div>
<div class="t" style="left:1057.2px;top:1136.95px;font-size:14px;line-height:14px;color:#343741;">4</div>
<div class="t" style="left:871.5px;top:1167.95px;font-size:14px;line-height:14px;color:#343741;letter-spacing:0.1px;">35,328</div>
<div class="t" style="left:1057.2px;top:1167.95px;font-size:14px;line-height:14px;color:#343741;">4</div>
<div class="t" style="left:871.5px;top:1198.95px;font-size:14px;line-height:14px;color:#343741;letter-spacing:0.1px;">44,152</div>
<div class="t" style="left:1057.2px;top:1198.95px;font-size:14px;line-height:14px;color:#343741;">4</div>
<div class="t" style="left:871.5px;top:1229.95px;font-size:14px;line-height:14px;color:#343741;letter-spacing:0.1px;">1,120</div>
<div class="t" style="left:1057.2px;top:1229.95px;font-size:14px;line-height:14px;color:#343741;">3</div>
<div class="t" style="left:870.5px;top:1438.15px;font-size:14px;line-height:14px;color:#343741;letter-spacing:0.2px;">Export:</div>
<div class="t" style="left:924.0px;top:1439.00px;font-size:13px;line-height:13px;color:#006bb4;letter-spacing:0.05px;">Raw</div>
<svg class="ic" style="left:953.3px;top:1439px" width="11" height="11" viewBox="0 0 11 11"><path d="M5.5 0.5v6.2M2.6 4l2.9 3 2.9-3" fill="none" stroke="#006bb4" stroke-width="2"/><path d="M0.8 7.5v2.7h9.4V7.5" fill="none" stroke="#006bb4" stroke-width="1.8"/></svg>
<div class="t" style="left:975.0px;top:1439.00px;font-size:13px;line-height:13px;color:#006bb4;letter-spacing:0.15px;">Formatted</div>
<svg class="ic" style="left:1039.5px;top:1439px" width="11" height="11" viewBox="0 0 11 11"><path d="M5.5 0.5v6.2M2.6 4l2.9 3 2.9-3" fill="none" stroke="#006bb4" stroke-width="2"/><path d="M0.8 7.5v2.7h9.4V7.5" fill="none" stroke="#006bb4" stroke-width="1.8"/></svg>
<div class="t" style="left:1176.5px;top:1075.15px;font-size:14px;line-height:14px;color:#1a1c21;font-weight:bold;letter-spacing:0.42px;">Destination port</div>
<svg class="ic" style="left:1295.0px;top:1075.5px" width="8" height="12" viewBox="0 0 8 12"><path d="M0 5.1 L4 0.6 L8 5.1Z M0 6.9 L4 11.4 L8 6.9Z" fill="#a7afbb"/></svg>
<div class="t" style="left:1363.1px;top:1075.15px;font-size:14px;line-height:14px;color:#1a1c21;font-weight:bold;letter-spacing:-0.1px;">Count</div>
<svg class="ic" style="left:1408.6px;top:1075.5px" width="8" height="12" viewBox="0 0 8 12"><path d="M0 5.1 L4 0.6 L8 5.1Z M0 6.9 L4 11.4 L8 6.9Z" fill="#a7afbb"/></svg>
<div style="position:absolute;left:1171px;top:1096px;width:274px;height:1px;background:#d3dae6"></div>
<div style="position:absolute;left:1171px;top:1127px;width:274px;height:1px;background:#d3dae6"></div>
<div style="position:absolute;left:1171px;top:1158px;width:274px;height:1px;background:#d3dae6"></div>
<div style="position:absolute;left:1171px;top:1189px;width:274px;height:1px;background:#d3dae6"></div>
<div style="position:absolute;left:1171px;top:1220px;width:274px;height:1px;background:#d3dae6"></div>
<div style="position:absolute;left:1171px;top:1251px;width:274px;height:1px;background:#d3dae6"></div>
<div style="position:absolute;left:1171px;top:1282px;width:274px;height:1px;background:#d3dae6"></div>
<div style="position:absolute;left:1171px;top:1313px;width:274px;height:1px;background:#d3dae6"></div>
<div style="position:absolute;left:1171px;top:1344px;width:274px;height:1px;background:#d3dae6"></div>
<div style="position:absolute;left:1171px;top:1375px;width:274px;height:1px;background:#d3dae6"></div>
<div class="t" style="left:1176.5px;top:1105.95px;font-size:14px;line-height:14px;color:#343741;letter-spacing:0.1px;">1,555</div>
<div class="t" style="left:1363.1px;top:1105.95px;font-size:14px;line-height:14px;color:#343741;">2</div>
<div class="t" style="left:1176.5px;top:1136.95px;font-size:14px;line-height:14px;color:#343741;letter-spacing:0.1px;">12,585</div>
<div class="t" style="left:1363.1px;top:1136.95px;font-size:14px;line-height:14px;color:#343741;">2</div>
<div class="t" style="left:1176.5px;top:1167.95px;font-size:14px;line-height:14px;color:#343741;letter-spacing:0.1px;">14,613</div>
<div class="t" style="left:1363.1px;top:1167.95px;font-size:14px;line-height:14px;color:#343741;">2</div>
<div class="t" style="left:1176.5px;top:1198.95px;font-size:14px;line-height:14px;color:#343741;letter-spacing:0.1px;">15,451</div>
<div class="t" style="left:1363.1px;top:1198.95px;font-size:14px;line-height:14px;color:#343741;">2</div>
<div class="t" style="left:1176.5px;top:1229.95px;font-size:14px;line-height:14px;color:#343741;letter-spacing:0.1px;">22,057</div>
<div class="t" style="left:1363.1px;top:1229.95px;font-size:14px;line-height:14px;color:#343741;">2</div>
<div class="t" style="left:1175.5px;top:1438.15px;font-size:14px;line-height:14px;color:#343741;letter-spacing:0.2px;">Export:</div>
<div class="t" style="left:1229.0px;top:1439.00px;font-size:13px;line-height:13px;color:#006bb4;letter-spacing:0.05px;">Raw</div>
<svg class="ic" style="left:1258.3px;top:1439px" width="11" height="11" viewBox="0 0 11 11"><path d="M5.5 0.5v6.2M2.6 4l2.9 3 2.9-3" fill="none" stroke="#006bb4" stroke-width="2"/><path d="M0.8 7.5v2.7h9.4V7.5" fill="none" stroke="#006bb4" stroke-width="1.8"/></svg>
<div class="t" style="left:1280.0px;top:1439.00px;font-size:13px;line-height:13px;color:#006bb4;letter-spacing:0.15px;">Formatted</div>
<svg class="ic" style="left:1344.5px;top:1439px" width="11" height="11" viewBox="0 0 11 11"><path d="M5.5 0.5v6.2M2.6 4l2.9 3 2.9-3" fill="none" stroke="#006bb4" stroke-width="2"/><path d="M0.8 7.5v2.7h9.4V7.5" fill="none" stroke="#006bb4" stroke-width="1.8"/></svg>
<div style="position:absolute;left:1474.5px;top:1012px;width:4.5px;height:378px;background:#a5adba;border-radius:3px"></div>
</body></html>
